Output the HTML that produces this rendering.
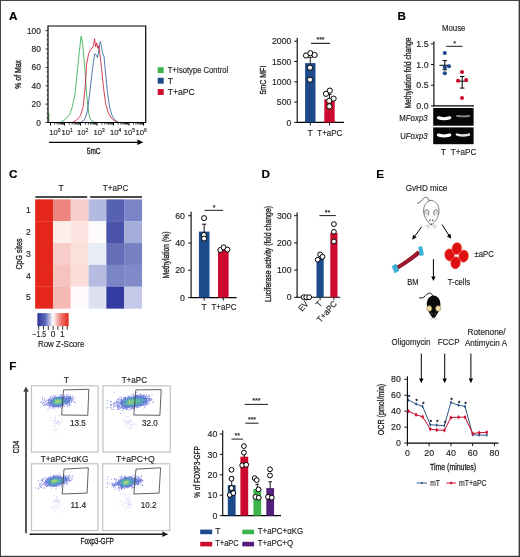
<!DOCTYPE html>
<html lang="en"><head><meta charset="utf-8"><title>Figure</title>
<style>
html,body{margin:0;padding:0;background:#fff;}
body{width:520px;height:557px;overflow:hidden;}
svg{display:block;will-change:transform;font-family:"Liberation Sans",sans-serif;}
</style></head><body>
<svg width="520" height="557" viewBox="0 0 520 557">
<rect x="0" y="0" width="520" height="557" fill="#fff"/>
<text x="8.90" y="19.70" font-size="11.7" text-anchor="start" fill="#000" stroke="#000" stroke-width="0.16" font-weight="bold" >A</text>
<text x="397.60" y="20.10" font-size="11.7" text-anchor="start" fill="#000" stroke="#000" stroke-width="0.16" font-weight="bold" >B</text>
<text x="9.00" y="178.00" font-size="11.7" text-anchor="start" fill="#000" stroke="#000" stroke-width="0.16" font-weight="bold" >C</text>
<text x="261.60" y="177.80" font-size="11.7" text-anchor="start" fill="#000" stroke="#000" stroke-width="0.16" font-weight="bold" >D</text>
<text x="376.20" y="177.80" font-size="11.7" text-anchor="start" fill="#000" stroke="#000" stroke-width="0.16" font-weight="bold" >E</text>
<text x="9.20" y="369.90" font-size="11.7" text-anchor="start" fill="#000" stroke="#000" stroke-width="0.16" font-weight="bold" >F</text>
<path d="M60.39 122.32 L65.77 119.08 L69.81 114.24 L72.50 106.16 L75.20 92.70 L77.08 73.85 L79.24 52.31 L81.12 36.16 L82.74 44.23 L84.62 65.77 L86.77 95.39 L88.66 112.89 L90.54 119.62 L94.04 122.32" fill="none" stroke="#2aa84a" stroke-width="0.8" stroke-linejoin="round" />
<path d="M80.58 122.32 L84.62 119.62 L87.31 111.55 L89.47 95.39 L91.35 79.24 L93.24 63.08 L94.85 53.66 L96.20 55.00 L97.54 57.70 L98.89 49.62 L100.24 41.54 L101.31 45.58 L102.39 52.31 L104.01 56.35 L105.62 73.85 L107.51 92.70 L109.66 107.51 L112.08 115.58 L114.78 120.16 L118.28 122.32" fill="none" stroke="#2a5a9a" stroke-width="0.8" stroke-linejoin="round" />
<path d="M72.50 122.32 L76.54 120.16 L80.58 115.58 L83.27 106.16 L85.16 87.31 L86.77 63.08 L88.66 53.66 L90.54 49.62 L92.16 48.27 L93.51 45.58 L94.58 38.85 L95.66 46.93 L96.74 42.89 L97.81 48.27 L98.89 45.58 L99.97 55.00 L101.58 68.47 L103.47 87.31 L105.62 103.47 L108.31 112.89 L111.55 118.28 L115.58 121.78 L118.28 122.32" fill="none" stroke="#c8102e" stroke-width="0.8" stroke-linejoin="round" />
<line x1="48.90" y1="113.00" x2="48.90" y2="122.50" stroke="#2aa84a" stroke-width="0.8" />
<path d="M48.0 26.0 H145.7 V122.5 H48.0 Z" fill="none" stroke="#000" stroke-width="1.2"/>
<line x1="45.40" y1="122.50" x2="48.00" y2="122.50" stroke="#000" stroke-width="0.7" />
<line x1="46.70" y1="117.91" x2="48.00" y2="117.91" stroke="#000" stroke-width="0.7" />
<line x1="46.70" y1="113.31" x2="48.00" y2="113.31" stroke="#000" stroke-width="0.7" />
<line x1="46.70" y1="108.72" x2="48.00" y2="108.72" stroke="#000" stroke-width="0.7" />
<line x1="45.40" y1="104.12" x2="48.00" y2="104.12" stroke="#000" stroke-width="0.7" />
<line x1="46.70" y1="99.53" x2="48.00" y2="99.53" stroke="#000" stroke-width="0.7" />
<line x1="46.70" y1="94.93" x2="48.00" y2="94.93" stroke="#000" stroke-width="0.7" />
<line x1="46.70" y1="90.34" x2="48.00" y2="90.34" stroke="#000" stroke-width="0.7" />
<line x1="45.40" y1="85.74" x2="48.00" y2="85.74" stroke="#000" stroke-width="0.7" />
<line x1="46.70" y1="81.15" x2="48.00" y2="81.15" stroke="#000" stroke-width="0.7" />
<line x1="46.70" y1="76.55" x2="48.00" y2="76.55" stroke="#000" stroke-width="0.7" />
<line x1="46.70" y1="71.95" x2="48.00" y2="71.95" stroke="#000" stroke-width="0.7" />
<line x1="45.40" y1="67.36" x2="48.00" y2="67.36" stroke="#000" stroke-width="0.7" />
<line x1="46.70" y1="62.77" x2="48.00" y2="62.77" stroke="#000" stroke-width="0.7" />
<line x1="46.70" y1="58.17" x2="48.00" y2="58.17" stroke="#000" stroke-width="0.7" />
<line x1="46.70" y1="53.58" x2="48.00" y2="53.58" stroke="#000" stroke-width="0.7" />
<line x1="45.40" y1="48.98" x2="48.00" y2="48.98" stroke="#000" stroke-width="0.7" />
<line x1="46.70" y1="44.38" x2="48.00" y2="44.38" stroke="#000" stroke-width="0.7" />
<line x1="46.70" y1="39.79" x2="48.00" y2="39.79" stroke="#000" stroke-width="0.7" />
<line x1="46.70" y1="35.19" x2="48.00" y2="35.19" stroke="#000" stroke-width="0.7" />
<line x1="45.40" y1="30.60" x2="48.00" y2="30.60" stroke="#000" stroke-width="0.7" />
<text x="40.90" y="125.50" font-size="8.4" text-anchor="end" fill="#231f20" stroke="#231f20" stroke-width="0.16" >0</text>
<text x="40.90" y="107.12" font-size="8.4" text-anchor="end" fill="#231f20" stroke="#231f20" stroke-width="0.16" >20</text>
<text x="40.90" y="88.74" font-size="8.4" text-anchor="end" fill="#231f20" stroke="#231f20" stroke-width="0.16" >40</text>
<text x="40.90" y="70.36" font-size="8.4" text-anchor="end" fill="#231f20" stroke="#231f20" stroke-width="0.16" >60</text>
<text x="40.90" y="51.98" font-size="8.4" text-anchor="end" fill="#231f20" stroke="#231f20" stroke-width="0.16" >80</text>
<text x="40.90" y="33.60" font-size="8.4" text-anchor="end" fill="#231f20" stroke="#231f20" stroke-width="0.16" >100</text>
<line x1="50.50" y1="122.50" x2="50.50" y2="125.50" stroke="#000" stroke-width="1.0" />
<line x1="54.71" y1="122.50" x2="54.71" y2="124.50" stroke="#000" stroke-width="0.85" />
<line x1="57.18" y1="122.50" x2="57.18" y2="124.50" stroke="#000" stroke-width="0.85" />
<line x1="58.93" y1="122.50" x2="58.93" y2="124.50" stroke="#000" stroke-width="0.85" />
<line x1="60.29" y1="122.50" x2="60.29" y2="124.50" stroke="#000" stroke-width="0.85" />
<line x1="61.39" y1="122.50" x2="61.39" y2="124.50" stroke="#000" stroke-width="0.85" />
<line x1="62.33" y1="122.50" x2="62.33" y2="124.50" stroke="#000" stroke-width="0.85" />
<line x1="63.14" y1="122.50" x2="63.14" y2="124.50" stroke="#000" stroke-width="0.85" />
<line x1="63.86" y1="122.50" x2="63.86" y2="124.50" stroke="#000" stroke-width="0.85" />
<line x1="64.50" y1="122.50" x2="64.50" y2="125.50" stroke="#000" stroke-width="1.0" />
<line x1="69.32" y1="122.50" x2="69.32" y2="124.50" stroke="#000" stroke-width="0.85" />
<line x1="72.13" y1="122.50" x2="72.13" y2="124.50" stroke="#000" stroke-width="0.85" />
<line x1="74.13" y1="122.50" x2="74.13" y2="124.50" stroke="#000" stroke-width="0.85" />
<line x1="75.68" y1="122.50" x2="75.68" y2="124.50" stroke="#000" stroke-width="0.85" />
<line x1="76.95" y1="122.50" x2="76.95" y2="124.50" stroke="#000" stroke-width="0.85" />
<line x1="78.02" y1="122.50" x2="78.02" y2="124.50" stroke="#000" stroke-width="0.85" />
<line x1="78.95" y1="122.50" x2="78.95" y2="124.50" stroke="#000" stroke-width="0.85" />
<line x1="79.77" y1="122.50" x2="79.77" y2="124.50" stroke="#000" stroke-width="0.85" />
<line x1="80.50" y1="122.50" x2="80.50" y2="125.50" stroke="#000" stroke-width="1.0" />
<line x1="85.47" y1="122.50" x2="85.47" y2="124.50" stroke="#000" stroke-width="0.85" />
<line x1="88.37" y1="122.50" x2="88.37" y2="124.50" stroke="#000" stroke-width="0.85" />
<line x1="90.43" y1="122.50" x2="90.43" y2="124.50" stroke="#000" stroke-width="0.85" />
<line x1="92.03" y1="122.50" x2="92.03" y2="124.50" stroke="#000" stroke-width="0.85" />
<line x1="93.34" y1="122.50" x2="93.34" y2="124.50" stroke="#000" stroke-width="0.85" />
<line x1="94.44" y1="122.50" x2="94.44" y2="124.50" stroke="#000" stroke-width="0.85" />
<line x1="95.40" y1="122.50" x2="95.40" y2="124.50" stroke="#000" stroke-width="0.85" />
<line x1="96.25" y1="122.50" x2="96.25" y2="124.50" stroke="#000" stroke-width="0.85" />
<line x1="97.00" y1="122.50" x2="97.00" y2="125.50" stroke="#000" stroke-width="1.0" />
<line x1="101.97" y1="122.50" x2="101.97" y2="124.50" stroke="#000" stroke-width="0.85" />
<line x1="104.87" y1="122.50" x2="104.87" y2="124.50" stroke="#000" stroke-width="0.85" />
<line x1="106.93" y1="122.50" x2="106.93" y2="124.50" stroke="#000" stroke-width="0.85" />
<line x1="108.53" y1="122.50" x2="108.53" y2="124.50" stroke="#000" stroke-width="0.85" />
<line x1="109.84" y1="122.50" x2="109.84" y2="124.50" stroke="#000" stroke-width="0.85" />
<line x1="110.94" y1="122.50" x2="110.94" y2="124.50" stroke="#000" stroke-width="0.85" />
<line x1="111.90" y1="122.50" x2="111.90" y2="124.50" stroke="#000" stroke-width="0.85" />
<line x1="112.75" y1="122.50" x2="112.75" y2="124.50" stroke="#000" stroke-width="0.85" />
<line x1="113.50" y1="122.50" x2="113.50" y2="125.50" stroke="#000" stroke-width="1.0" />
<line x1="118.17" y1="122.50" x2="118.17" y2="124.50" stroke="#000" stroke-width="0.85" />
<line x1="120.90" y1="122.50" x2="120.90" y2="124.50" stroke="#000" stroke-width="0.85" />
<line x1="122.83" y1="122.50" x2="122.83" y2="124.50" stroke="#000" stroke-width="0.85" />
<line x1="124.33" y1="122.50" x2="124.33" y2="124.50" stroke="#000" stroke-width="0.85" />
<line x1="125.56" y1="122.50" x2="125.56" y2="124.50" stroke="#000" stroke-width="0.85" />
<line x1="126.60" y1="122.50" x2="126.60" y2="124.50" stroke="#000" stroke-width="0.85" />
<line x1="127.50" y1="122.50" x2="127.50" y2="124.50" stroke="#000" stroke-width="0.85" />
<line x1="128.29" y1="122.50" x2="128.29" y2="124.50" stroke="#000" stroke-width="0.85" />
<line x1="129.00" y1="122.50" x2="129.00" y2="125.50" stroke="#000" stroke-width="1.0" />
<line x1="133.36" y1="122.50" x2="133.36" y2="124.50" stroke="#000" stroke-width="0.85" />
<line x1="135.92" y1="122.50" x2="135.92" y2="124.50" stroke="#000" stroke-width="0.85" />
<line x1="137.73" y1="122.50" x2="137.73" y2="124.50" stroke="#000" stroke-width="0.85" />
<line x1="139.14" y1="122.50" x2="139.14" y2="124.50" stroke="#000" stroke-width="0.85" />
<line x1="140.28" y1="122.50" x2="140.28" y2="124.50" stroke="#000" stroke-width="0.85" />
<line x1="141.25" y1="122.50" x2="141.25" y2="124.50" stroke="#000" stroke-width="0.85" />
<line x1="142.09" y1="122.50" x2="142.09" y2="124.50" stroke="#000" stroke-width="0.85" />
<line x1="142.84" y1="122.50" x2="142.84" y2="124.50" stroke="#000" stroke-width="0.85" />
<line x1="143.50" y1="122.50" x2="143.50" y2="125.50" stroke="#000" stroke-width="1.0" />
<text x="49.2" y="135.3" font-size="8.1" fill="#231f20" stroke="#231f20" stroke-width="0.16" textLength="11.2" lengthAdjust="spacingAndGlyphs">10<tspan font-size="5.2" dy="-3.2">0</tspan></text>
<text x="61.5" y="135.3" font-size="8.1" fill="#231f20" stroke="#231f20" stroke-width="0.16" textLength="11.2" lengthAdjust="spacingAndGlyphs">10<tspan font-size="5.2" dy="-3.2">1</tspan></text>
<text x="76.9" y="135.3" font-size="8.1" fill="#231f20" stroke="#231f20" stroke-width="0.16" textLength="11.2" lengthAdjust="spacingAndGlyphs">10<tspan font-size="5.2" dy="-3.2">2</tspan></text>
<text x="93.5" y="135.3" font-size="8.1" fill="#231f20" stroke="#231f20" stroke-width="0.16" textLength="11.2" lengthAdjust="spacingAndGlyphs">10<tspan font-size="5.2" dy="-3.2">3</tspan></text>
<text x="109.9" y="135.3" font-size="8.1" fill="#231f20" stroke="#231f20" stroke-width="0.16" textLength="11.2" lengthAdjust="spacingAndGlyphs">10<tspan font-size="5.2" dy="-3.2">4</tspan></text>
<text x="123.8" y="135.3" font-size="8.1" fill="#231f20" stroke="#231f20" stroke-width="0.16" textLength="11.2" lengthAdjust="spacingAndGlyphs">10<tspan font-size="5.2" dy="-3.2">5</tspan></text>
<text x="135.4" y="135.3" font-size="8.1" fill="#231f20" stroke="#231f20" stroke-width="0.16" textLength="11.2" lengthAdjust="spacingAndGlyphs">10<tspan font-size="5.2" dy="-3.2">6</tspan></text>
<line x1="49.00" y1="142.30" x2="137.90" y2="142.30" stroke="#000" stroke-width="1.2" />
<polygon points="143.40,142.30 137.40,145.10 137.40,139.50" fill="#000"/>
<text x="93.70" y="153.50" font-size="9.0" text-anchor="middle" fill="#231f20" stroke="#231f20" stroke-width="0.34" textLength="13.70" lengthAdjust="spacingAndGlyphs" >5mC</text>
<text x="21.30" y="74.30" font-size="8.2" text-anchor="middle" fill="#231f20" stroke="#231f20" stroke-width="0.34" textLength="28.70" lengthAdjust="spacingAndGlyphs" transform="rotate(-90 21.30 74.30)" >% of Max</text>
<rect x="157.70" y="67.20" width="6.00" height="5.90" fill="#3cb44a" />
<text x="167.70" y="73.00" font-size="8.6" text-anchor="start" fill="#231f20" stroke="#231f20" stroke-width="0.16" textLength="60.50" lengthAdjust="spacingAndGlyphs" >T+Isotype Control</text>
<rect x="157.70" y="77.80" width="6.00" height="5.90" fill="#1d4a8a" />
<text x="167.70" y="83.60" font-size="8.6" text-anchor="start" fill="#231f20" stroke="#231f20" stroke-width="0.16" >T</text>
<rect x="157.70" y="89.10" width="6.00" height="5.90" fill="#cc0a2f" />
<text x="167.70" y="94.90" font-size="8.6" text-anchor="start" fill="#231f20" stroke="#231f20" stroke-width="0.16" >T+aPC</text>
<line x1="297.20" y1="37.80" x2="297.20" y2="122.90" stroke="#000" stroke-width="1.1" />
<line x1="296.70" y1="122.40" x2="344.00" y2="122.40" stroke="#000" stroke-width="1.1" />
<line x1="294.20" y1="122.40" x2="297.20" y2="122.40" stroke="#000" stroke-width="0.9" />
<text x="291.50" y="125.50" font-size="8.8" text-anchor="end" fill="#231f20" stroke="#231f20" stroke-width="0.16" >0</text>
<line x1="294.20" y1="102.10" x2="297.20" y2="102.10" stroke="#000" stroke-width="0.9" />
<text x="291.50" y="105.20" font-size="8.8" text-anchor="end" fill="#231f20" stroke="#231f20" stroke-width="0.16" >500</text>
<line x1="294.20" y1="81.80" x2="297.20" y2="81.80" stroke="#000" stroke-width="0.9" />
<text x="291.50" y="84.90" font-size="8.8" text-anchor="end" fill="#231f20" stroke="#231f20" stroke-width="0.16" >1000</text>
<line x1="294.20" y1="61.50" x2="297.20" y2="61.50" stroke="#000" stroke-width="0.9" />
<text x="291.50" y="64.60" font-size="8.8" text-anchor="end" fill="#231f20" stroke="#231f20" stroke-width="0.16" >1500</text>
<line x1="294.20" y1="41.20" x2="297.20" y2="41.20" stroke="#000" stroke-width="0.9" />
<text x="291.50" y="44.30" font-size="8.8" text-anchor="end" fill="#231f20" stroke="#231f20" stroke-width="0.16" >2000</text>
<rect x="305.10" y="63.10" width="10.40" height="59.30" fill="#1d4a8a" />
<rect x="324.30" y="99.30" width="10.40" height="23.10" fill="#cc0a2f" />
<line x1="310.30" y1="57.30" x2="310.30" y2="63.50" stroke="#000" stroke-width="0.9" />
<line x1="308.10" y1="57.30" x2="312.50" y2="57.30" stroke="#000" stroke-width="0.9" />
<line x1="329.50" y1="94.30" x2="329.50" y2="99.60" stroke="#000" stroke-width="0.9" />
<line x1="327.30" y1="94.30" x2="331.70" y2="94.30" stroke="#000" stroke-width="0.9" />
<line x1="310.30" y1="122.40" x2="310.30" y2="125.40" stroke="#000" stroke-width="0.9" />
<line x1="329.50" y1="122.40" x2="329.50" y2="125.40" stroke="#000" stroke-width="0.9" />
<circle cx="306.00" cy="55.50" r="2.6" fill="#fff" stroke="#000" stroke-width="1.0"/>
<circle cx="310.40" cy="53.20" r="2.6" fill="#fff" stroke="#000" stroke-width="1.0"/>
<circle cx="314.60" cy="55.00" r="2.6" fill="#fff" stroke="#000" stroke-width="1.0"/>
<circle cx="310.00" cy="67.70" r="2.6" fill="#fff" stroke="#000" stroke-width="1.0"/>
<circle cx="310.00" cy="79.70" r="2.6" fill="#fff" stroke="#000" stroke-width="1.0"/>
<circle cx="329.80" cy="90.60" r="2.6" fill="#fff" stroke="#000" stroke-width="1.0"/>
<circle cx="326.00" cy="93.80" r="2.6" fill="#fff" stroke="#000" stroke-width="1.0"/>
<circle cx="333.60" cy="98.60" r="2.6" fill="#fff" stroke="#000" stroke-width="1.0"/>
<circle cx="329.20" cy="100.80" r="2.6" fill="#fff" stroke="#000" stroke-width="1.0"/>
<circle cx="329.40" cy="106.40" r="2.6" fill="#fff" stroke="#000" stroke-width="1.0"/>
<text x="310.20" y="135.80" font-size="8.6" text-anchor="middle" fill="#231f20" stroke="#231f20" stroke-width="0.16" >T</text>
<text x="329.80" y="135.80" font-size="8.6" text-anchor="middle" fill="#231f20" stroke="#231f20" stroke-width="0.16" textLength="25.00" lengthAdjust="spacingAndGlyphs" >T+aPC</text>
<line x1="311.00" y1="43.30" x2="330.00" y2="43.30" stroke="#000" stroke-width="1.0" />
<text x="320.50" y="42.00" font-size="7" text-anchor="middle" fill="#231f20" stroke="#231f20" stroke-width="0.16" >***</text>
<text x="265.70" y="80.10" font-size="9.2" text-anchor="middle" fill="#231f20" stroke="#231f20" stroke-width="0.34" textLength="29.00" lengthAdjust="spacingAndGlyphs" transform="rotate(-90 265.70 80.10)" >5mC MFI</text>
<text x="453.70" y="30.50" font-size="8.6" text-anchor="middle" fill="#231f20" stroke="#231f20" stroke-width="0.16" textLength="23.50" lengthAdjust="spacingAndGlyphs" >Mouse</text>
<line x1="433.90" y1="41.30" x2="433.90" y2="106.40" stroke="#000" stroke-width="1.1" />
<line x1="433.40" y1="105.90" x2="474.00" y2="105.90" stroke="#000" stroke-width="1.1" />
<line x1="430.90" y1="105.90" x2="433.90" y2="105.90" stroke="#000" stroke-width="0.9" />
<text x="428.60" y="109.00" font-size="8.8" text-anchor="end" fill="#231f20" stroke="#231f20" stroke-width="0.16" >0.0</text>
<line x1="430.90" y1="85.20" x2="433.90" y2="85.20" stroke="#000" stroke-width="0.9" />
<text x="428.60" y="88.30" font-size="8.8" text-anchor="end" fill="#231f20" stroke="#231f20" stroke-width="0.16" >0.5</text>
<line x1="430.90" y1="64.50" x2="433.90" y2="64.50" stroke="#000" stroke-width="0.9" />
<text x="428.60" y="67.60" font-size="8.8" text-anchor="end" fill="#231f20" stroke="#231f20" stroke-width="0.16" >1.0</text>
<line x1="430.90" y1="43.80" x2="433.90" y2="43.80" stroke="#000" stroke-width="0.9" />
<text x="428.60" y="46.90" font-size="8.8" text-anchor="end" fill="#231f20" stroke="#231f20" stroke-width="0.16" >1.5</text>
<line x1="439.50" y1="65.30" x2="450.00" y2="65.30" stroke="#000" stroke-width="1.0" />
<line x1="444.80" y1="60.60" x2="444.80" y2="69.80" stroke="#000" stroke-width="1.0" />
<line x1="442.60" y1="60.60" x2="447.00" y2="60.60" stroke="#000" stroke-width="1.0" />
<line x1="442.60" y1="69.80" x2="447.00" y2="69.80" stroke="#000" stroke-width="1.0" />
<circle cx="444.80" cy="53.00" r="2.05" fill="#1d4a8a"/>
<circle cx="449.00" cy="66.30" r="2.05" fill="#1d4a8a"/>
<circle cx="444.80" cy="67.50" r="2.05" fill="#1d4a8a"/>
<circle cx="444.80" cy="73.20" r="2.05" fill="#1d4a8a"/>
<line x1="457.00" y1="81.20" x2="467.50" y2="81.20" stroke="#000" stroke-width="1.0" />
<line x1="462.20" y1="76.50" x2="462.20" y2="88.10" stroke="#000" stroke-width="1.0" />
<line x1="460.00" y1="76.50" x2="464.40" y2="76.50" stroke="#000" stroke-width="1.0" />
<line x1="460.00" y1="88.10" x2="464.40" y2="88.10" stroke="#000" stroke-width="1.0" />
<circle cx="462.00" cy="72.00" r="2.05" fill="#cc0a2f"/>
<circle cx="458.00" cy="80.70" r="2.05" fill="#cc0a2f"/>
<circle cx="466.20" cy="80.00" r="2.05" fill="#cc0a2f"/>
<circle cx="462.00" cy="98.00" r="2.05" fill="#cc0a2f"/>
<line x1="446.20" y1="46.30" x2="462.50" y2="46.30" stroke="#000" stroke-width="0.9" />
<text x="454.50" y="46.00" font-size="7" text-anchor="middle" fill="#231f20" stroke="#231f20" stroke-width="0.16" >*</text>
<text x="410.80" y="73.00" font-size="9.0" text-anchor="middle" fill="#231f20" stroke="#231f20" stroke-width="0.34" textLength="71.00" lengthAdjust="spacingAndGlyphs" transform="rotate(-90 410.80 73.00)" >Methylation fold change</text>
<rect x="433.20" y="108.00" width="40.40" height="17.70" fill="#060606" />
<rect x="433.20" y="127.40" width="40.40" height="16.80" fill="#060606" />
<defs><filter id="bl" x="-20%" y="-100%" width="140%" height="300%"><feGaussianBlur stdDeviation="0.7"/></filter></defs>
<g filter="url(#bl)" fill="none" stroke-linecap="round">
<path d="M438.4 117.8 Q444.1 119.5 449.8 117.8" stroke="#ffffff" stroke-width="3.0"/>
<path d="M457.0 115.9 Q463.1 116.9 469.2 115.9" stroke="#8a8a8a" stroke-width="1.8"/>
<path d="M438.4 135.0 Q444.1 136.8 449.8 135.0" stroke="#ffffff" stroke-width="3.0"/>
<path d="M457.0 134.6 Q463.0 136.2 469.0 134.6" stroke="#e4e4e4" stroke-width="2.5"/>
</g>
<text x="427.60" y="120.60" font-size="8.6" text-anchor="end" fill="#231f20" stroke="#231f20" stroke-width="0.16" textLength="28.30" lengthAdjust="spacingAndGlyphs" >M<tspan font-style="italic">Foxp3</tspan></text>
<text x="427.60" y="139.00" font-size="8.6" text-anchor="end" fill="#231f20" stroke="#231f20" stroke-width="0.16" textLength="27.40" lengthAdjust="spacingAndGlyphs" >U<tspan font-style="italic">Foxp3</tspan></text>
<text x="443.30" y="154.50" font-size="8.6" text-anchor="middle" fill="#231f20" stroke="#231f20" stroke-width="0.16" >T</text>
<text x="463.50" y="154.50" font-size="8.6" text-anchor="middle" fill="#231f20" stroke="#231f20" stroke-width="0.16" textLength="25.50" lengthAdjust="spacingAndGlyphs" >T+aPC</text>
<rect x="35.15" y="199.35" width="17.90" height="21.94" fill="#e5261a" />
<rect x="52.95" y="199.35" width="17.90" height="21.94" fill="#ed857f" />
<rect x="70.75" y="199.35" width="17.90" height="21.94" fill="#f8cfca" />
<rect x="88.55" y="199.35" width="17.90" height="21.94" fill="#b3badf" />
<rect x="106.35" y="199.35" width="17.90" height="21.94" fill="#5661b1" />
<rect x="124.15" y="199.35" width="17.90" height="21.94" fill="#7a86c8" />
<rect x="35.15" y="221.19" width="17.90" height="21.94" fill="#e5261a" />
<rect x="52.95" y="221.19" width="17.90" height="21.94" fill="#fdeeea" />
<rect x="70.75" y="221.19" width="17.90" height="21.94" fill="#fce4e0" />
<rect x="88.55" y="221.19" width="17.90" height="21.94" fill="#fdfbfb" />
<rect x="106.35" y="221.19" width="17.90" height="21.94" fill="#4a53a9" />
<rect x="124.15" y="221.19" width="17.90" height="21.94" fill="#a4acd8" />
<rect x="35.15" y="243.03" width="17.90" height="21.94" fill="#e5261a" />
<rect x="52.95" y="243.03" width="17.90" height="21.94" fill="#f8cdc9" />
<rect x="70.75" y="243.03" width="17.90" height="21.94" fill="#fbe0dc" />
<rect x="88.55" y="243.03" width="17.90" height="21.94" fill="#e8ecf7" />
<rect x="106.35" y="243.03" width="17.90" height="21.94" fill="#636eb7" />
<rect x="124.15" y="243.03" width="17.90" height="21.94" fill="#7681c4" />
<rect x="35.15" y="264.87" width="17.90" height="21.94" fill="#e5261a" />
<rect x="52.95" y="264.87" width="17.90" height="21.94" fill="#f6c3bf" />
<rect x="70.75" y="264.87" width="17.90" height="21.94" fill="#fbdeda" />
<rect x="88.55" y="264.87" width="17.90" height="21.94" fill="#b5bce0" />
<rect x="106.35" y="264.87" width="17.90" height="21.94" fill="#7a85c6" />
<rect x="124.15" y="264.87" width="17.90" height="21.94" fill="#808ac9" />
<rect x="35.15" y="286.71" width="17.90" height="21.94" fill="#e5261a" />
<rect x="52.95" y="286.71" width="17.90" height="21.94" fill="#f5b9b4" />
<rect x="70.75" y="286.71" width="17.90" height="21.94" fill="#fefafa" />
<rect x="88.55" y="286.71" width="17.90" height="21.94" fill="#dde1f2" />
<rect x="106.35" y="286.71" width="17.90" height="21.94" fill="#333aa0" />
<rect x="124.15" y="286.71" width="17.90" height="21.94" fill="#c5cae8" />
<line x1="35.40" y1="197.00" x2="87.20" y2="197.00" stroke="#111" stroke-width="1.4" />
<line x1="90.20" y1="197.00" x2="142.00" y2="197.00" stroke="#111" stroke-width="1.4" />
<text x="61.20" y="190.90" font-size="8.6" text-anchor="middle" fill="#231f20" stroke="#231f20" stroke-width="0.16" >T</text>
<text x="115.60" y="190.90" font-size="8.6" text-anchor="middle" fill="#231f20" stroke="#231f20" stroke-width="0.16" textLength="25.50" lengthAdjust="spacingAndGlyphs" >T+aPC</text>
<text x="28.40" y="213.12" font-size="8.6" text-anchor="middle" fill="#231f20" stroke="#231f20" stroke-width="0.16" >1</text>
<text x="28.40" y="234.96" font-size="8.6" text-anchor="middle" fill="#231f20" stroke="#231f20" stroke-width="0.16" >2</text>
<text x="28.40" y="256.80" font-size="8.6" text-anchor="middle" fill="#231f20" stroke="#231f20" stroke-width="0.16" >3</text>
<text x="28.40" y="278.64" font-size="8.6" text-anchor="middle" fill="#231f20" stroke="#231f20" stroke-width="0.16" >4</text>
<text x="28.40" y="300.48" font-size="8.6" text-anchor="middle" fill="#231f20" stroke="#231f20" stroke-width="0.16" >5</text>
<text x="22.00" y="254.00" font-size="9.3" text-anchor="middle" fill="#231f20" stroke="#231f20" stroke-width="0.34" textLength="31.00" lengthAdjust="spacingAndGlyphs" transform="rotate(-90 22.00 254.00)" >CpG sites</text>
<defs><linearGradient id="cb" x1="0" x2="1" y1="0" y2="0"><stop offset="0" stop-color="#2b3595"/><stop offset="0.25" stop-color="#5a66b6"/><stop offset="0.5" stop-color="#ffffff"/><stop offset="0.75" stop-color="#ee7a6e"/><stop offset="1" stop-color="#e5261a"/></linearGradient></defs>
<rect x="37.40" y="313.10" width="31.20" height="13.00" fill="url(#cb)" />
<line x1="38.70" y1="326.00" x2="38.70" y2="329.80" stroke="#000" stroke-width="0.8" />
<line x1="43.50" y1="326.00" x2="43.50" y2="329.80" stroke="#000" stroke-width="0.8" />
<line x1="48.30" y1="326.00" x2="48.30" y2="329.80" stroke="#000" stroke-width="0.8" />
<line x1="53.10" y1="326.00" x2="53.10" y2="329.80" stroke="#000" stroke-width="0.8" />
<line x1="57.90" y1="326.00" x2="57.90" y2="329.80" stroke="#000" stroke-width="0.8" />
<line x1="62.70" y1="326.00" x2="62.70" y2="329.80" stroke="#000" stroke-width="0.8" />
<line x1="67.20" y1="326.00" x2="67.20" y2="329.80" stroke="#000" stroke-width="0.8" />
<text x="32.50" y="336.60" font-size="8.4" text-anchor="start" fill="#231f20" stroke="#231f20" stroke-width="0.16" textLength="13.60" lengthAdjust="spacingAndGlyphs" >−1.5</text>
<text x="53.10" y="336.60" font-size="8.4" text-anchor="middle" fill="#231f20" stroke="#231f20" stroke-width="0.16" >0</text>
<text x="62.40" y="336.60" font-size="8.4" text-anchor="middle" fill="#231f20" stroke="#231f20" stroke-width="0.16" >1</text>
<text x="37.90" y="346.60" font-size="8.6" text-anchor="start" fill="#231f20" stroke="#231f20" stroke-width="0.16" textLength="46.50" lengthAdjust="spacingAndGlyphs" >Row Z-Score</text>
<line x1="191.10" y1="211.80" x2="191.10" y2="298.10" stroke="#000" stroke-width="1.1" />
<line x1="190.60" y1="297.60" x2="236.60" y2="297.60" stroke="#000" stroke-width="1.1" />
<line x1="188.10" y1="297.60" x2="191.10" y2="297.60" stroke="#000" stroke-width="0.9" />
<text x="185.00" y="300.70" font-size="8.8" text-anchor="end" fill="#231f20" stroke="#231f20" stroke-width="0.16" >0</text>
<line x1="188.10" y1="270.30" x2="191.10" y2="270.30" stroke="#000" stroke-width="0.9" />
<text x="185.00" y="273.40" font-size="8.8" text-anchor="end" fill="#231f20" stroke="#231f20" stroke-width="0.16" >20</text>
<line x1="188.10" y1="243.00" x2="191.10" y2="243.00" stroke="#000" stroke-width="0.9" />
<text x="185.00" y="246.10" font-size="8.8" text-anchor="end" fill="#231f20" stroke="#231f20" stroke-width="0.16" >40</text>
<line x1="188.10" y1="215.70" x2="191.10" y2="215.70" stroke="#000" stroke-width="0.9" />
<text x="185.00" y="218.80" font-size="8.8" text-anchor="end" fill="#231f20" stroke="#231f20" stroke-width="0.16" >60</text>
<rect x="198.90" y="231.60" width="10.60" height="66.00" fill="#1d4a8a" />
<rect x="218.00" y="250.00" width="10.60" height="47.60" fill="#cc0a2f" />
<line x1="204.20" y1="224.20" x2="204.20" y2="232.00" stroke="#000" stroke-width="0.9" />
<line x1="202.00" y1="224.20" x2="206.40" y2="224.20" stroke="#000" stroke-width="0.9" />
<line x1="204.20" y1="297.60" x2="204.20" y2="300.60" stroke="#000" stroke-width="0.9" />
<line x1="223.30" y1="297.60" x2="223.30" y2="300.60" stroke="#000" stroke-width="0.9" />
<circle cx="204.10" cy="218.10" r="2.5" fill="#fff" stroke="#000" stroke-width="1.0"/>
<circle cx="203.90" cy="235.00" r="2.5" fill="#fff" stroke="#000" stroke-width="1.0"/>
<circle cx="204.10" cy="238.60" r="2.5" fill="#fff" stroke="#000" stroke-width="1.0"/>
<circle cx="220.30" cy="250.00" r="2.5" fill="#fff" stroke="#000" stroke-width="1.0"/>
<circle cx="223.60" cy="247.30" r="2.5" fill="#fff" stroke="#000" stroke-width="1.0"/>
<circle cx="227.40" cy="249.60" r="2.5" fill="#fff" stroke="#000" stroke-width="1.0"/>
<text x="204.00" y="309.50" font-size="8.6" text-anchor="middle" fill="#231f20" stroke="#231f20" stroke-width="0.16" >T</text>
<text x="224.00" y="309.50" font-size="8.6" text-anchor="middle" fill="#231f20" stroke="#231f20" stroke-width="0.16" textLength="25.00" lengthAdjust="spacingAndGlyphs" >T+aPC</text>
<line x1="204.50" y1="210.30" x2="223.00" y2="210.30" stroke="#000" stroke-width="0.9" />
<text x="214.00" y="210.00" font-size="7" text-anchor="middle" fill="#231f20" stroke="#231f20" stroke-width="0.16" >*</text>
<text x="169.20" y="255.00" font-size="9.2" text-anchor="middle" fill="#231f20" stroke="#231f20" stroke-width="0.34" textLength="47.00" lengthAdjust="spacingAndGlyphs" transform="rotate(-90 169.20 255.00)" >Methylation (%)</text>
<line x1="297.10" y1="212.40" x2="297.10" y2="297.80" stroke="#000" stroke-width="1.1" />
<line x1="296.60" y1="297.30" x2="340.20" y2="297.30" stroke="#000" stroke-width="1.1" />
<line x1="294.10" y1="297.30" x2="297.10" y2="297.30" stroke="#000" stroke-width="0.9" />
<text x="291.60" y="300.40" font-size="8.8" text-anchor="end" fill="#231f20" stroke="#231f20" stroke-width="0.16" >0</text>
<line x1="294.10" y1="270.10" x2="297.10" y2="270.10" stroke="#000" stroke-width="0.9" />
<text x="291.60" y="273.20" font-size="8.8" text-anchor="end" fill="#231f20" stroke="#231f20" stroke-width="0.16" >100</text>
<line x1="294.10" y1="242.90" x2="297.10" y2="242.90" stroke="#000" stroke-width="0.9" />
<text x="291.60" y="246.00" font-size="8.8" text-anchor="end" fill="#231f20" stroke="#231f20" stroke-width="0.16" >200</text>
<line x1="294.10" y1="215.70" x2="297.10" y2="215.70" stroke="#000" stroke-width="0.9" />
<text x="291.60" y="218.80" font-size="8.8" text-anchor="end" fill="#231f20" stroke="#231f20" stroke-width="0.16" >300</text>
<rect x="316.50" y="258.50" width="7.20" height="38.80" fill="#1d4a8a" />
<rect x="330.30" y="233.00" width="7.20" height="64.30" fill="#cc0a2f" />
<line x1="306.30" y1="297.30" x2="306.30" y2="300.30" stroke="#000" stroke-width="0.9" />
<line x1="320.10" y1="297.30" x2="320.10" y2="300.30" stroke="#000" stroke-width="0.9" />
<line x1="333.90" y1="297.30" x2="333.90" y2="300.30" stroke="#000" stroke-width="0.9" />
<circle cx="303.60" cy="297.20" r="2.4" fill="#fff" stroke="#000" stroke-width="1.0"/>
<circle cx="306.20" cy="297.20" r="2.4" fill="#fff" stroke="#000" stroke-width="1.0"/>
<circle cx="309.20" cy="297.20" r="2.4" fill="#fff" stroke="#000" stroke-width="1.0"/>
<circle cx="317.70" cy="259.70" r="2.4" fill="#fff" stroke="#000" stroke-width="1.0"/>
<circle cx="320.10" cy="254.40" r="2.4" fill="#fff" stroke="#000" stroke-width="1.0"/>
<circle cx="322.50" cy="256.80" r="2.4" fill="#fff" stroke="#000" stroke-width="1.0"/>
<circle cx="333.90" cy="241.50" r="2.4" fill="#fff" stroke="#000" stroke-width="1.0"/>
<circle cx="333.90" cy="231.80" r="2.4" fill="#fff" stroke="#000" stroke-width="1.0"/>
<circle cx="333.90" cy="224.10" r="2.4" fill="#fff" stroke="#000" stroke-width="1.0"/>
<line x1="319.40" y1="215.60" x2="335.80" y2="215.60" stroke="#000" stroke-width="0.9" />
<text x="327.50" y="214.60" font-size="7" text-anchor="middle" fill="#231f20" stroke="#231f20" stroke-width="0.16" >**</text>
<text x="309.0" y="304.2" font-size="8.6" text-anchor="end" fill="#231f20" stroke="#231f20" stroke-width="0.16" textLength="10.6" lengthAdjust="spacingAndGlyphs" transform="rotate(-48 309.0 304.2)">EV</text>
<text x="322.8" y="304.2" font-size="8.6" text-anchor="end" fill="#231f20" stroke="#231f20" stroke-width="0.16" textLength="4.9" lengthAdjust="spacingAndGlyphs" transform="rotate(-48 322.8 304.2)">T</text>
<text x="337.4" y="304.2" font-size="8.6" text-anchor="end" fill="#231f20" stroke="#231f20" stroke-width="0.16" textLength="25.2" lengthAdjust="spacingAndGlyphs" transform="rotate(-48 337.4 304.2)">T+aPC</text>
<text x="271.20" y="254.00" font-size="9.0" text-anchor="middle" fill="#231f20" stroke="#231f20" stroke-width="0.34" textLength="96.00" lengthAdjust="spacingAndGlyphs" transform="rotate(-90 271.20 254.00)" >Luciferase activity (fold change)</text>
<text x="426.50" y="190.60" font-size="8.6" text-anchor="middle" fill="#231f20" stroke="#231f20" stroke-width="0.16" textLength="41.50" lengthAdjust="spacingAndGlyphs" >GvHD mice</text>
<g fill="none" stroke="#777" stroke-width="0.9" stroke-linecap="round">
<path d="M429.2 201.2 C429 197.6 426 196.2 423.8 198 C421.6 199.8 420.6 203 417.6 203.2" stroke="#5e5e5e" stroke-width="1.0"/>
<path d="M431.3 200.4 C426 201 423.4 206 423.6 211 C423.8 216.6 427.4 222.4 431.3 224.8 C435.2 222.4 438.8 216.6 439 211 C439.2 206 436.6 201 431.3 200.4 Z" fill="#fff"/>
<path d="M424.4 214.6 C423.2 211.6 425 209.2 427.2 209.8 C429.2 210.4 429.6 213.2 428.2 215.2" fill="#dcdcdc"/>
<path d="M438.2 214.6 C439.4 211.6 437.6 209.2 435.4 209.8 C433.4 210.4 433 213.2 434.4 215.2" fill="#dcdcdc"/>
<path d="M428.8 225.4 L426.4 227.8 M429.6 225.8 L428.2 228.8 M433.8 225.4 L436.2 227.8 M433 225.8 L434.4 228.8 M428.4 224.6 L425.6 225.8 M434.2 224.6 L437 225.8" stroke-width="0.5" stroke="#999"/>
</g>
<circle cx="429.90" cy="220.30" r="0.75" fill="#222"/>
<circle cx="432.80" cy="220.30" r="0.75" fill="#222"/>
<ellipse cx="431.3" cy="224.3" rx="1" ry="0.7" fill="#555"/>
<line x1="421.60" y1="226.80" x2="414.60" y2="236.48" stroke="#000" stroke-width="1.0" />
<polygon points="412.20,239.80 413.11,234.78 416.68,237.36" fill="#000"/>
<line x1="442.00" y1="224.60" x2="448.97" y2="235.36" stroke="#000" stroke-width="1.0" />
<polygon points="451.20,238.80 446.85,236.14 450.55,233.74" fill="#000"/>
<path d="M396.2 266.0 C402 262.6 411 256.4 417.6 250.6 L420.6 253.8 C413.6 259.6 404.6 265.6 398.2 269.6 Z" fill="#8f1329"/>
<path d="M398 266.6 C404 263 412 257.4 418.4 252.2" fill="none" stroke="#c22840" stroke-width="0.8"/>
<path d="M392.4 266.4 L395.8 264.4 L398.6 270.4 L395.0 272.6 Z" fill="#3fb2d4" stroke="#3fb2d4" stroke-width="1.2" stroke-linejoin="round"/>
<path d="M418.8 247.4 L421.8 246.8 L423.2 254.6 L420.4 255.4 Z" fill="#3fb2d4" stroke="#3fb2d4" stroke-width="1.2" stroke-linejoin="round"/>
<ellipse cx="449.6" cy="255.0" rx="5.0" ry="6.2" fill="#de1110" stroke="#f29a90" stroke-width="0.45" transform="rotate(-8 449.6 255.0)"/>
<ellipse cx="463.6" cy="256.2" rx="5.0" ry="6.2" fill="#de1110" stroke="#f29a90" stroke-width="0.45" transform="rotate(8 463.6 256.2)"/>
<ellipse cx="456.8" cy="248.6" rx="5.0" ry="6.2" fill="#de1110" stroke="#f29a90" stroke-width="0.45" transform="rotate(10 456.8 248.6)"/>
<ellipse cx="455.6" cy="262.8" rx="5.0" ry="6.2" fill="#de1110" stroke="#f29a90" stroke-width="0.45" transform="rotate(10 455.6 262.8)"/>
<text x="474.40" y="257.40" font-size="8.6" text-anchor="start" fill="#231f20" stroke="#231f20" stroke-width="0.16" textLength="19.50" lengthAdjust="spacingAndGlyphs" >±aPC</text>
<line x1="433.40" y1="259.20" x2="433.40" y2="276.90" stroke="#000" stroke-width="1.0" />
<polygon points="433.40,281.00 431.20,276.40 435.60,276.40" fill="#000"/>
<text x="407.30" y="285.00" font-size="8.6" text-anchor="start" fill="#231f20" stroke="#231f20" stroke-width="0.16" textLength="11.30" lengthAdjust="spacingAndGlyphs" >BM</text>
<text x="447.80" y="285.00" font-size="8.6" text-anchor="start" fill="#231f20" stroke="#231f20" stroke-width="0.16" textLength="22.40" lengthAdjust="spacingAndGlyphs" >T-cells</text>
<path d="M432.8 296.6 C432.4 293.6 430.4 292.6 428.4 293.4 C426 294.4 424.6 297.4 422.4 297.8 C421.4 298 420.4 297.9 419.6 297.8" fill="none" stroke="#111" stroke-width="1.0" stroke-linecap="round"/>
<path d="M433.6 295.6 C428.8 296 426.6 300.4 426.8 304.6 C427 309.6 430 315.4 433.6 318.9 C437.2 315.4 440.2 309.6 440.4 304.6 C440.6 300.4 438.4 296 433.6 295.6 Z" fill="#0a0a0a"/>
<ellipse cx="429.2" cy="308.5" rx="2.5" ry="2.7" fill="#efe2a6" stroke="#a98455" stroke-width="0.7"/>
<ellipse cx="438.2" cy="308.5" rx="2.5" ry="2.7" fill="#efe2a6" stroke="#a98455" stroke-width="0.7"/>
<circle cx="431.9" cy="313.8" r="0.6" fill="#9a86d8"/><circle cx="435.2" cy="313.8" r="0.6" fill="#9a86d8"/>
<path d="M431.2 317.6 L429 319.4 M431.8 318.2 L430.4 320.2 M436 317.6 L438.2 319.4 M435.4 318.2 L436.8 320.2" stroke="#aaa" stroke-width="0.45" fill="none"/>
<ellipse cx="433.6" cy="318.2" rx="0.8" ry="0.6" fill="#e8d8d8"/>
<text x="411.00" y="345.30" font-size="8.6" text-anchor="middle" fill="#231f20" stroke="#231f20" stroke-width="0.16" textLength="39.00" lengthAdjust="spacingAndGlyphs" >Oligomycin</text>
<text x="448.60" y="345.30" font-size="8.6" text-anchor="middle" fill="#231f20" stroke="#231f20" stroke-width="0.16" textLength="21.80" lengthAdjust="spacingAndGlyphs" >FCCP</text>
<text x="486.60" y="335.20" font-size="8.6" text-anchor="middle" fill="#231f20" stroke="#231f20" stroke-width="0.16" textLength="38.00" lengthAdjust="spacingAndGlyphs" >Rotenone/</text>
<text x="486.00" y="346.20" font-size="8.6" text-anchor="middle" fill="#231f20" stroke="#231f20" stroke-width="0.16" textLength="42.00" lengthAdjust="spacingAndGlyphs" >Antimycin A</text>
<line x1="421.30" y1="353.60" x2="421.30" y2="379.10" stroke="#000" stroke-width="1.0" />
<polygon points="421.30,383.20 419.10,378.60 423.50,378.60" fill="#000"/>
<line x1="444.70" y1="353.60" x2="444.70" y2="379.10" stroke="#000" stroke-width="1.0" />
<polygon points="444.70,383.20 442.50,378.60 446.90,378.60" fill="#000"/>
<line x1="470.90" y1="353.60" x2="470.90" y2="379.10" stroke="#000" stroke-width="1.0" />
<polygon points="470.90,383.20 468.70,378.60 473.10,378.60" fill="#000"/>
<line x1="407.40" y1="376.20" x2="407.40" y2="443.60" stroke="#000" stroke-width="1.1" />
<line x1="406.90" y1="443.10" x2="498.40" y2="443.10" stroke="#000" stroke-width="1.1" />
<line x1="404.40" y1="443.10" x2="407.40" y2="443.10" stroke="#000" stroke-width="0.9" />
<text x="400.80" y="446.20" font-size="8.8" text-anchor="end" fill="#231f20" stroke="#231f20" stroke-width="0.16" >0</text>
<line x1="407.40" y1="443.10" x2="407.40" y2="446.10" stroke="#000" stroke-width="0.9" />
<text x="407.40" y="456.40" font-size="8.8" text-anchor="middle" fill="#231f20" stroke="#231f20" stroke-width="0.16" >0</text>
<line x1="404.40" y1="427.15" x2="407.40" y2="427.15" stroke="#000" stroke-width="0.9" />
<text x="400.80" y="430.25" font-size="8.8" text-anchor="end" fill="#231f20" stroke="#231f20" stroke-width="0.16" >20</text>
<line x1="429.15" y1="443.10" x2="429.15" y2="446.10" stroke="#000" stroke-width="0.9" />
<text x="429.15" y="456.40" font-size="8.8" text-anchor="middle" fill="#231f20" stroke="#231f20" stroke-width="0.16" >20</text>
<line x1="404.40" y1="411.20" x2="407.40" y2="411.20" stroke="#000" stroke-width="0.9" />
<text x="400.80" y="414.30" font-size="8.8" text-anchor="end" fill="#231f20" stroke="#231f20" stroke-width="0.16" >40</text>
<line x1="450.90" y1="443.10" x2="450.90" y2="446.10" stroke="#000" stroke-width="0.9" />
<text x="450.90" y="456.40" font-size="8.8" text-anchor="middle" fill="#231f20" stroke="#231f20" stroke-width="0.16" >40</text>
<line x1="404.40" y1="395.25" x2="407.40" y2="395.25" stroke="#000" stroke-width="0.9" />
<text x="400.80" y="398.35" font-size="8.8" text-anchor="end" fill="#231f20" stroke="#231f20" stroke-width="0.16" >60</text>
<line x1="472.65" y1="443.10" x2="472.65" y2="446.10" stroke="#000" stroke-width="0.9" />
<text x="472.65" y="456.40" font-size="8.8" text-anchor="middle" fill="#231f20" stroke="#231f20" stroke-width="0.16" >60</text>
<line x1="404.40" y1="379.30" x2="407.40" y2="379.30" stroke="#000" stroke-width="0.9" />
<text x="400.80" y="382.40" font-size="8.8" text-anchor="end" fill="#231f20" stroke="#231f20" stroke-width="0.16" >80</text>
<line x1="494.40" y1="443.10" x2="494.40" y2="446.10" stroke="#000" stroke-width="0.9" />
<text x="494.40" y="456.40" font-size="8.8" text-anchor="middle" fill="#231f20" stroke="#231f20" stroke-width="0.16" >80</text>
<path d="M408.49 400.04 L416.10 404.02 L422.62 406.42 L430.24 424.76 L436.76 425.16 L444.38 425.56 L450.90 402.43 L458.51 405.22 L465.04 406.42 L472.65 434.73 L479.17 435.12 L486.79 435.12" fill="none" stroke="#1a3f6e" stroke-width="0.9" stroke-linejoin="round" />
<line x1="408.49" y1="398.44" x2="408.49" y2="401.64" stroke="#1f4b87" stroke-width="0.8" />
<circle cx="408.49" cy="400.04" r="0.9" fill="#1f4b87"/>
<line x1="416.10" y1="402.42" x2="416.10" y2="405.62" stroke="#1f4b87" stroke-width="0.8" />
<circle cx="416.10" cy="404.02" r="0.9" fill="#1f4b87"/>
<line x1="422.62" y1="404.81" x2="422.62" y2="408.02" stroke="#1f4b87" stroke-width="0.8" />
<circle cx="422.62" cy="406.42" r="0.9" fill="#1f4b87"/>
<line x1="430.24" y1="423.16" x2="430.24" y2="426.36" stroke="#1f4b87" stroke-width="0.8" />
<circle cx="430.24" cy="424.76" r="0.9" fill="#1f4b87"/>
<line x1="436.76" y1="423.56" x2="436.76" y2="426.76" stroke="#1f4b87" stroke-width="0.8" />
<circle cx="436.76" cy="425.16" r="0.9" fill="#1f4b87"/>
<line x1="444.38" y1="423.95" x2="444.38" y2="427.16" stroke="#1f4b87" stroke-width="0.8" />
<circle cx="444.38" cy="425.56" r="0.9" fill="#1f4b87"/>
<line x1="450.90" y1="400.83" x2="450.90" y2="404.03" stroke="#1f4b87" stroke-width="0.8" />
<circle cx="450.90" cy="402.43" r="0.9" fill="#1f4b87"/>
<line x1="458.51" y1="403.62" x2="458.51" y2="406.82" stroke="#1f4b87" stroke-width="0.8" />
<circle cx="458.51" cy="405.22" r="0.9" fill="#1f4b87"/>
<line x1="465.04" y1="404.81" x2="465.04" y2="408.02" stroke="#1f4b87" stroke-width="0.8" />
<circle cx="465.04" cy="406.42" r="0.9" fill="#1f4b87"/>
<line x1="472.65" y1="433.13" x2="472.65" y2="436.33" stroke="#1f4b87" stroke-width="0.8" />
<circle cx="472.65" cy="434.73" r="0.9" fill="#1f4b87"/>
<line x1="479.17" y1="433.52" x2="479.17" y2="436.73" stroke="#1f4b87" stroke-width="0.8" />
<circle cx="479.17" cy="435.12" r="0.9" fill="#1f4b87"/>
<line x1="486.79" y1="433.52" x2="486.79" y2="436.73" stroke="#1f4b87" stroke-width="0.8" />
<circle cx="486.79" cy="435.12" r="0.9" fill="#1f4b87"/>
<path d="M408.49 411.20 L416.10 414.79 L422.62 416.78 L430.24 429.14 L436.76 429.94 L444.38 430.34 L450.90 417.58 L458.51 417.18 L465.04 417.18 L472.65 433.53 L479.17 432.73 L486.79 432.33" fill="none" stroke="#cc0a2f" stroke-width="1.0" stroke-linejoin="round" />
<line x1="408.49" y1="409.30" x2="408.49" y2="413.10" stroke="#cc0a2f" stroke-width="0.9" />
<rect x="407.39" y="410.10" width="2.20" height="2.20" fill="#cc0a2f" />
<line x1="416.10" y1="412.89" x2="416.10" y2="416.69" stroke="#cc0a2f" stroke-width="0.9" />
<rect x="415.00" y="413.69" width="2.20" height="2.20" fill="#cc0a2f" />
<line x1="422.62" y1="414.88" x2="422.62" y2="418.68" stroke="#cc0a2f" stroke-width="0.9" />
<rect x="421.52" y="415.68" width="2.20" height="2.20" fill="#cc0a2f" />
<line x1="430.24" y1="427.24" x2="430.24" y2="431.04" stroke="#cc0a2f" stroke-width="0.9" />
<rect x="429.14" y="428.04" width="2.20" height="2.20" fill="#cc0a2f" />
<line x1="436.76" y1="428.04" x2="436.76" y2="431.84" stroke="#cc0a2f" stroke-width="0.9" />
<rect x="435.66" y="428.84" width="2.20" height="2.20" fill="#cc0a2f" />
<line x1="444.38" y1="428.44" x2="444.38" y2="432.24" stroke="#cc0a2f" stroke-width="0.9" />
<rect x="443.27" y="429.24" width="2.20" height="2.20" fill="#cc0a2f" />
<line x1="450.90" y1="415.68" x2="450.90" y2="419.48" stroke="#cc0a2f" stroke-width="0.9" />
<rect x="449.80" y="416.48" width="2.20" height="2.20" fill="#cc0a2f" />
<line x1="458.51" y1="415.28" x2="458.51" y2="419.08" stroke="#cc0a2f" stroke-width="0.9" />
<rect x="457.41" y="416.08" width="2.20" height="2.20" fill="#cc0a2f" />
<line x1="465.04" y1="415.28" x2="465.04" y2="419.08" stroke="#cc0a2f" stroke-width="0.9" />
<rect x="463.94" y="416.08" width="2.20" height="2.20" fill="#cc0a2f" />
<line x1="472.65" y1="431.63" x2="472.65" y2="435.43" stroke="#cc0a2f" stroke-width="0.9" />
<rect x="471.55" y="432.43" width="2.20" height="2.20" fill="#cc0a2f" />
<line x1="479.17" y1="430.83" x2="479.17" y2="434.63" stroke="#cc0a2f" stroke-width="0.9" />
<rect x="478.07" y="431.63" width="2.20" height="2.20" fill="#cc0a2f" />
<line x1="486.79" y1="430.43" x2="486.79" y2="434.23" stroke="#cc0a2f" stroke-width="0.9" />
<rect x="485.69" y="431.23" width="2.20" height="2.20" fill="#cc0a2f" />
<text x="409.09" y="399.34" font-size="5.6" text-anchor="middle" fill="#16243f" stroke="#16243f" stroke-width="0.35">*</text>
<text x="416.70" y="403.32" font-size="5.6" text-anchor="middle" fill="#16243f" stroke="#16243f" stroke-width="0.35">*</text>
<text x="423.23" y="405.72" font-size="5.6" text-anchor="middle" fill="#16243f" stroke="#16243f" stroke-width="0.35">*</text>
<text x="430.84" y="424.06" font-size="5.6" text-anchor="middle" fill="#16243f" stroke="#16243f" stroke-width="0.35">*</text>
<text x="437.36" y="424.46" font-size="5.6" text-anchor="middle" fill="#16243f" stroke="#16243f" stroke-width="0.35">*</text>
<text x="444.98" y="424.86" font-size="5.6" text-anchor="middle" fill="#16243f" stroke="#16243f" stroke-width="0.35">*</text>
<text x="451.50" y="401.73" font-size="5.6" text-anchor="middle" fill="#16243f" stroke="#16243f" stroke-width="0.35">*</text>
<text x="459.11" y="404.52" font-size="5.6" text-anchor="middle" fill="#16243f" stroke="#16243f" stroke-width="0.35">*</text>
<text x="465.64" y="405.72" font-size="5.6" text-anchor="middle" fill="#16243f" stroke="#16243f" stroke-width="0.35">*</text>
<text x="453.00" y="470.00" font-size="9.6" text-anchor="middle" fill="#231f20" stroke="#231f20" stroke-width="0.34" textLength="46.00" lengthAdjust="spacingAndGlyphs" >Time (minutes)</text>
<text x="384.40" y="409.50" font-size="9.6" text-anchor="middle" fill="#231f20" stroke="#231f20" stroke-width="0.34" textLength="51.50" lengthAdjust="spacingAndGlyphs" transform="rotate(-90 384.40 409.50)" >OCR (pmol/min)</text>
<line x1="416.70" y1="483.00" x2="427.00" y2="483.00" stroke="#1f4b87" stroke-width="0.9" />
<circle cx="421.80" cy="483.00" r="1.0" fill="#1f4b87"/>
<text x="430.20" y="485.50" font-size="8.6" text-anchor="start" fill="#231f20" stroke="#231f20" stroke-width="0.16" textLength="9.60" lengthAdjust="spacingAndGlyphs" >mT</text>
<line x1="446.40" y1="483.00" x2="455.80" y2="483.00" stroke="#cc0a2f" stroke-width="1.0" />
<rect x="450.00" y="481.90" width="2.20" height="2.20" fill="#cc0a2f" />
<text x="459.00" y="485.50" font-size="8.6" text-anchor="start" fill="#231f20" stroke="#231f20" stroke-width="0.16" textLength="27.50" lengthAdjust="spacingAndGlyphs" >mT+aPC</text>
<rect x="31.50" y="385.80" width="66.50" height="66.30" fill="#fff" stroke="#c2c2c2" stroke-width="1.2" />
<text x="66.30" y="382.90" font-size="8.6" text-anchor="middle" fill="#231f20" stroke="#231f20" stroke-width="0.16" >T</text>
<rect x="103.00" y="385.80" width="67.20" height="66.30" fill="#fff" stroke="#c2c2c2" stroke-width="1.2" />
<text x="134.40" y="382.90" font-size="8.6" text-anchor="middle" fill="#231f20" stroke="#231f20" stroke-width="0.16" textLength="25.50" lengthAdjust="spacingAndGlyphs" >T+aPC</text>
<rect x="31.50" y="463.80" width="66.40" height="66.70" fill="#fff" stroke="#c2c2c2" stroke-width="1.2" />
<text x="64.50" y="461.60" font-size="8.6" text-anchor="middle" fill="#231f20" stroke="#231f20" stroke-width="0.16" textLength="47.70" lengthAdjust="spacingAndGlyphs" >T+aPC+αKG</text>
<rect x="102.60" y="463.80" width="67.20" height="66.70" fill="#fff" stroke="#c2c2c2" stroke-width="1.2" />
<text x="135.40" y="461.60" font-size="8.6" text-anchor="middle" fill="#231f20" stroke="#231f20" stroke-width="0.16" textLength="38.80" lengthAdjust="spacingAndGlyphs" >T+aPC+Q</text>
<rect x="44.4" y="398.0" width="0.8" height="0.8" fill="#5c5edc"/>
<rect x="50.8" y="405.2" width="0.8" height="0.8" fill="#5c5edc"/>
<rect x="50.8" y="401.2" width="0.8" height="0.8" fill="#5c5edc"/>
<rect x="66.0" y="394.0" width="0.8" height="0.8" fill="#5c5edc"/>
<rect x="45.2" y="403.6" width="0.8" height="0.8" fill="#5c5edc"/>
<rect x="48.4" y="403.6" width="0.8" height="0.8" fill="#5c5edc"/>
<rect x="59.6" y="395.6" width="0.8" height="0.8" fill="#5c5edc"/>
<rect x="70.8" y="398.8" width="0.8" height="0.8" fill="#5c5edc"/>
<rect x="66.8" y="402.0" width="0.8" height="0.8" fill="#5c5edc"/>
<rect x="48.4" y="400.4" width="0.8" height="0.8" fill="#5c5edc"/>
<rect x="40.4" y="402.0" width="0.8" height="0.8" fill="#5c5edc"/>
<rect x="64.4" y="406.0" width="0.8" height="0.8" fill="#5c5edc"/>
<rect x="46.0" y="402.8" width="0.8" height="0.8" fill="#5c5edc"/>
<rect x="62.8" y="396.4" width="0.8" height="0.8" fill="#5c5edc"/>
<rect x="59.6" y="406.0" width="0.8" height="0.8" fill="#5c5edc"/>
<rect x="73.2" y="401.2" width="0.8" height="0.8" fill="#5c5edc"/>
<rect x="53.2" y="406.0" width="0.8" height="0.8" fill="#5c5edc"/>
<rect x="69.2" y="405.2" width="0.8" height="0.8" fill="#5c5edc"/>
<rect x="60.4" y="406.0" width="0.8" height="0.8" fill="#5c5edc"/>
<rect x="58.0" y="395.6" width="0.8" height="0.8" fill="#5c5edc"/>
<rect x="62.8" y="406.0" width="0.8" height="0.8" fill="#5c5edc"/>
<rect x="51.6" y="397.2" width="0.8" height="0.8" fill="#5c5edc"/>
<rect x="47.6" y="400.4" width="0.8" height="0.8" fill="#5c5edc"/>
<rect x="49.2" y="400.4" width="0.8" height="0.8" fill="#5c5edc"/>
<rect x="54.0" y="395.6" width="0.8" height="0.8" fill="#5c5edc"/>
<rect x="54.0" y="407.6" width="0.8" height="0.8" fill="#5c5edc"/>
<rect x="52.4" y="396.4" width="0.8" height="0.8" fill="#5c5edc"/>
<rect x="70.0" y="395.6" width="0.8" height="0.8" fill="#5c5edc"/>
<rect x="67.6" y="401.2" width="0.8" height="0.8" fill="#5c5edc"/>
<rect x="66.8" y="396.4" width="0.8" height="0.8" fill="#5c5edc"/>
<rect x="54.8" y="395.6" width="0.8" height="0.8" fill="#5c5edc"/>
<rect x="68.4" y="396.4" width="0.8" height="0.8" fill="#5c5edc"/>
<rect x="43.6" y="400.4" width="0.8" height="0.8" fill="#5c5edc"/>
<rect x="74.8" y="402.0" width="0.8" height="0.8" fill="#5c5edc"/>
<rect x="73.2" y="398.8" width="0.8" height="0.8" fill="#5c5edc"/>
<rect x="55.6" y="395.6" width="0.8" height="0.8" fill="#5c5edc"/>
<rect x="68.4" y="402.0" width="0.8" height="0.8" fill="#5c5edc"/>
<rect x="42.8" y="405.2" width="0.8" height="0.8" fill="#5c5edc"/>
<rect x="65.2" y="398.0" width="0.8" height="0.8" fill="#5c5edc"/>
<rect x="67.6" y="405.2" width="0.8" height="0.8" fill="#5c5edc"/>
<rect x="66.0" y="397.2" width="0.8" height="0.8" fill="#5c5edc"/>
<rect x="50.0" y="397.2" width="0.8" height="0.8" fill="#5c5edc"/>
<rect x="47.6" y="409.2" width="0.8" height="0.8" fill="#5c5edc"/>
<rect x="50.0" y="406.8" width="0.8" height="0.8" fill="#5c5edc"/>
<rect x="72.4" y="399.6" width="0.8" height="0.8" fill="#5c5edc"/>
<rect x="63.6" y="394.8" width="0.8" height="0.8" fill="#5c5edc"/>
<rect x="70.8" y="398.0" width="0.8" height="0.8" fill="#5c5edc"/>
<rect x="43.6" y="404.4" width="0.8" height="0.8" fill="#5c5edc"/>
<rect x="42.8" y="402.8" width="0.8" height="0.8" fill="#5c5edc"/>
<rect x="69.2" y="402.0" width="0.8" height="0.8" fill="#5c5edc"/>
<rect x="53.2" y="395.6" width="0.8" height="0.8" fill="#5c5edc"/>
<rect x="58.0" y="406.8" width="0.8" height="0.8" fill="#5c5edc"/>
<rect x="68.4" y="402.8" width="0.8" height="0.8" fill="#5c5edc"/>
<rect x="60.4" y="394.0" width="0.8" height="0.8" fill="#5c5edc"/>
<rect x="50.0" y="398.8" width="0.8" height="0.8" fill="#5c5edc"/>
<rect x="66.0" y="403.6" width="0.8" height="0.8" fill="#5c5edc"/>
<rect x="68.4" y="398.8" width="0.8" height="0.8" fill="#5c5edc"/>
<rect x="62.0" y="395.6" width="0.8" height="0.8" fill="#5c5edc"/>
<rect x="42.0" y="403.6" width="0.8" height="0.8" fill="#5c5edc"/>
<rect x="70.0" y="404.4" width="0.8" height="0.8" fill="#5c5edc"/>
<rect x="49.2" y="407.6" width="0.8" height="0.8" fill="#5c5edc"/>
<rect x="54.0" y="398.0" width="0.8" height="0.8" fill="#5c5edc"/>
<rect x="68.4" y="394.0" width="0.8" height="0.8" fill="#5c5edc"/>
<rect x="42.0" y="397.2" width="0.8" height="0.8" fill="#5c5edc"/>
<rect x="66.8" y="406.0" width="0.8" height="0.8" fill="#5c5edc"/>
<rect x="46.8" y="405.2" width="0.8" height="0.8" fill="#5c5edc"/>
<rect x="74.0" y="402.0" width="0.8" height="0.8" fill="#5c5edc"/>
<rect x="67.6" y="395.6" width="0.8" height="0.8" fill="#5c5edc"/>
<rect x="42.0" y="398.8" width="0.8" height="0.8" fill="#5c5edc"/>
<rect x="64.4" y="397.2" width="0.8" height="0.8" fill="#5c5edc"/>
<rect x="66.8" y="404.4" width="0.8" height="0.8" fill="#5c5edc"/>
<rect x="51.6" y="407.6" width="0.8" height="0.8" fill="#5c5edc"/>
<rect x="50.8" y="402.8" width="0.8" height="0.8" fill="#5c5edc"/>
<rect x="50.8" y="399.6" width="0.8" height="0.8" fill="#5c5edc"/>
<rect x="61.2" y="407.6" width="0.8" height="0.8" fill="#5c5edc"/>
<rect x="58.8" y="406.0" width="0.8" height="0.8" fill="#5c5edc"/>
<rect x="52.4" y="397.2" width="0.8" height="0.8" fill="#5c5edc"/>
<rect x="55.6" y="396.4" width="0.8" height="0.8" fill="#5c5edc"/>
<rect x="59.6" y="396.4" width="0.8" height="0.8" fill="#5c5edc"/>
<rect x="50.0" y="396.4" width="0.8" height="0.8" fill="#5c5edc"/>
<rect x="47.6" y="405.2" width="0.8" height="0.8" fill="#5c5edc"/>
<rect x="71.6" y="398.0" width="0.8" height="0.8" fill="#5c5edc"/>
<rect x="51.6" y="405.2" width="0.8" height="0.8" fill="#5c5edc"/>
<rect x="66.8" y="398.0" width="0.8" height="0.8" fill="#5c5edc"/>
<rect x="49.2" y="398.0" width="0.8" height="0.8" fill="#5c5edc"/>
<rect x="61.2" y="394.0" width="0.8" height="0.8" fill="#5c5edc"/>
<rect x="47.6" y="404.4" width="0.8" height="0.8" fill="#5c5edc"/>
<rect x="64.4" y="396.4" width="0.8" height="0.8" fill="#5c5edc"/>
<rect x="52.4" y="407.6" width="0.8" height="0.8" fill="#5c5edc"/>
<rect x="48.4" y="402.8" width="0.8" height="0.8" fill="#5c5edc"/>
<rect x="47.6" y="402.0" width="0.8" height="0.8" fill="#5c5edc"/>
<rect x="49.2" y="398.8" width="0.8" height="0.8" fill="#5c5edc"/>
<rect x="44.4" y="404.4" width="0.8" height="0.8" fill="#5c5edc"/>
<rect x="74.8" y="397.2" width="0.8" height="0.8" fill="#5c5edc"/>
<rect x="58.0" y="407.6" width="0.8" height="0.8" fill="#5c5edc"/>
<rect x="45.2" y="401.2" width="0.8" height="0.8" fill="#5c5edc"/>
<rect x="48.4" y="402.0" width="0.8" height="0.8" fill="#5c5edc"/>
<rect x="60.4" y="406.8" width="0.8" height="0.8" fill="#5c5edc"/>
<rect x="63.6" y="396.4" width="0.8" height="0.8" fill="#5c5edc"/>
<rect x="48.4" y="398.8" width="0.8" height="0.8" fill="#5c5edc"/>
<rect x="49.2" y="402.8" width="0.8" height="0.8" fill="#5c5edc"/>
<rect x="66.0" y="402.8" width="0.8" height="0.8" fill="#5c5edc"/>
<rect x="43.6" y="402.0" width="0.8" height="0.8" fill="#5c5edc"/>
<rect x="41.2" y="401.2" width="0.8" height="0.8" fill="#5c5edc"/>
<rect x="48.4" y="406.0" width="0.8" height="0.8" fill="#5c5edc"/>
<rect x="50.0" y="405.2" width="0.8" height="0.8" fill="#5c5edc"/>
<rect x="54.8" y="397.2" width="0.8" height="0.8" fill="#5c5edc"/>
<rect x="52.4" y="406.0" width="0.8" height="0.8" fill="#5c5edc"/>
<rect x="68.4" y="400.4" width="0.8" height="0.8" fill="#3b49ce"/>
<rect x="71.6" y="400.4" width="0.8" height="0.8" fill="#3b49ce"/>
<rect x="50.0" y="399.6" width="0.8" height="0.8" fill="#3b49ce"/>
<rect x="62.8" y="405.2" width="0.8" height="0.8" fill="#3b49ce"/>
<rect x="66.8" y="395.6" width="0.8" height="0.8" fill="#3b49ce"/>
<rect x="68.4" y="401.2" width="0.8" height="0.8" fill="#3b49ce"/>
<rect x="68.4" y="397.2" width="0.8" height="0.8" fill="#3b49ce"/>
<rect x="54.0" y="397.2" width="0.8" height="0.8" fill="#3b49ce"/>
<rect x="67.6" y="402.8" width="0.8" height="0.8" fill="#3b49ce"/>
<rect x="64.4" y="395.6" width="0.8" height="0.8" fill="#3b49ce"/>
<rect x="65.2" y="396.4" width="0.8" height="0.8" fill="#3b49ce"/>
<rect x="64.4" y="399.6" width="0.8" height="0.8" fill="#3b49ce"/>
<rect x="45.2" y="404.4" width="0.8" height="0.8" fill="#3b49ce"/>
<rect x="69.2" y="404.4" width="0.8" height="0.8" fill="#3b49ce"/>
<rect x="70.8" y="402.0" width="0.8" height="0.8" fill="#3b49ce"/>
<rect x="47.6" y="399.6" width="0.8" height="0.8" fill="#3b49ce"/>
<rect x="72.4" y="398.0" width="0.8" height="0.8" fill="#3b49ce"/>
<rect x="53.2" y="406.8" width="0.8" height="0.8" fill="#3b49ce"/>
<rect x="72.4" y="395.6" width="0.8" height="0.8" fill="#3b49ce"/>
<rect x="44.4" y="399.6" width="0.8" height="0.8" fill="#3b49ce"/>
<rect x="46.0" y="400.4" width="0.8" height="0.8" fill="#3b49ce"/>
<rect x="61.2" y="395.6" width="0.8" height="0.8" fill="#3b49ce"/>
<rect x="52.4" y="403.6" width="0.8" height="0.8" fill="#3b49ce"/>
<rect x="50.0" y="402.0" width="0.8" height="0.8" fill="#3b49ce"/>
<rect x="70.0" y="398.0" width="0.8" height="0.8" fill="#3b49ce"/>
<rect x="64.4" y="398.8" width="0.8" height="0.8" fill="#3b49ce"/>
<rect x="69.2" y="403.6" width="0.8" height="0.8" fill="#3b49ce"/>
<rect x="50.0" y="403.6" width="0.8" height="0.8" fill="#3b49ce"/>
<rect x="50.8" y="398.8" width="0.8" height="0.8" fill="#3b49ce"/>
<rect x="52.4" y="405.2" width="0.8" height="0.8" fill="#3b49ce"/>
<rect x="61.2" y="405.2" width="0.8" height="0.8" fill="#3b49ce"/>
<rect x="51.6" y="406.0" width="0.8" height="0.8" fill="#3b49ce"/>
<rect x="54.0" y="406.0" width="0.8" height="0.8" fill="#3b49ce"/>
<rect x="42.8" y="402.0" width="0.8" height="0.8" fill="#3b49ce"/>
<rect x="67.6" y="398.0" width="0.8" height="0.8" fill="#3b49ce"/>
<rect x="59.6" y="405.2" width="0.8" height="0.8" fill="#3b49ce"/>
<rect x="66.8" y="403.6" width="0.8" height="0.8" fill="#3b49ce"/>
<rect x="69.2" y="396.4" width="0.8" height="0.8" fill="#3b49ce"/>
<rect x="50.0" y="402.8" width="0.8" height="0.8" fill="#3b49ce"/>
<rect x="62.0" y="397.2" width="0.8" height="0.8" fill="#3b49ce"/>
<rect x="52.4" y="398.8" width="0.8" height="0.8" fill="#3b49ce"/>
<rect x="62.8" y="404.4" width="0.8" height="0.8" fill="#3b49ce"/>
<rect x="52.4" y="398.0" width="0.8" height="0.8" fill="#3b49ce"/>
<rect x="66.8" y="402.8" width="0.8" height="0.8" fill="#3b49ce"/>
<rect x="46.0" y="403.6" width="0.8" height="0.8" fill="#3b49ce"/>
<rect x="70.0" y="397.2" width="0.8" height="0.8" fill="#3b49ce"/>
<rect x="69.2" y="400.4" width="0.8" height="0.8" fill="#3b49ce"/>
<rect x="58.8" y="404.4" width="0.8" height="0.8" fill="#3b49ce"/>
<rect x="66.0" y="398.0" width="0.8" height="0.8" fill="#3b49ce"/>
<rect x="66.0" y="396.4" width="0.8" height="0.8" fill="#3b49ce"/>
<rect x="49.2" y="403.6" width="0.8" height="0.8" fill="#3b49ce"/>
<rect x="66.8" y="400.4" width="0.8" height="0.8" fill="#3b49ce"/>
<rect x="66.8" y="401.2" width="0.8" height="0.8" fill="#3b49ce"/>
<rect x="70.0" y="396.4" width="0.8" height="0.8" fill="#3b49ce"/>
<rect x="67.6" y="402.0" width="0.8" height="0.8" fill="#3b49ce"/>
<rect x="67.6" y="397.2" width="0.8" height="0.8" fill="#3b49ce"/>
<rect x="55.6" y="406.0" width="0.8" height="0.8" fill="#3b49ce"/>
<rect x="48.4" y="399.6" width="0.8" height="0.8" fill="#3b49ce"/>
<rect x="55.6" y="406.8" width="0.8" height="0.8" fill="#2e4ec5"/>
<rect x="63.6" y="397.2" width="0.8" height="0.8" fill="#2e4ec5"/>
<rect x="46.8" y="402.8" width="0.8" height="0.8" fill="#2e4ec5"/>
<rect x="65.2" y="399.6" width="0.8" height="0.8" fill="#2e4ec5"/>
<rect x="51.6" y="403.6" width="0.8" height="0.8" fill="#2e4ec5"/>
<rect x="53.2" y="398.0" width="0.8" height="0.8" fill="#2e4ec5"/>
<rect x="64.4" y="398.0" width="0.8" height="0.8" fill="#2e4ec5"/>
<rect x="58.0" y="406.0" width="0.8" height="0.8" fill="#2e4ec5"/>
<rect x="51.6" y="399.6" width="0.8" height="0.8" fill="#2e4ec5"/>
<rect x="54.8" y="406.0" width="0.8" height="0.8" fill="#2e4ec5"/>
<rect x="61.2" y="396.4" width="0.8" height="0.8" fill="#2e4ec5"/>
<rect x="51.6" y="400.4" width="0.8" height="0.8" fill="#2e4ec5"/>
<rect x="61.2" y="397.2" width="0.8" height="0.8" fill="#2e4ec5"/>
<rect x="58.0" y="405.2" width="0.8" height="0.8" fill="#2e4ec5"/>
<rect x="70.0" y="400.4" width="0.8" height="0.8" fill="#2e4ec5"/>
<rect x="56.4" y="406.0" width="0.8" height="0.8" fill="#2e4ec5"/>
<rect x="49.2" y="405.2" width="0.8" height="0.8" fill="#2e4ec5"/>
<rect x="69.2" y="398.8" width="0.8" height="0.8" fill="#2e4ec5"/>
<rect x="56.4" y="397.2" width="0.8" height="0.8" fill="#2e4ec5"/>
<rect x="66.8" y="398.8" width="0.8" height="0.8" fill="#2e4ec5"/>
<rect x="70.8" y="399.6" width="0.8" height="0.8" fill="#2e4ec5"/>
<rect x="50.0" y="400.4" width="0.8" height="0.8" fill="#2e4ec5"/>
<rect x="69.2" y="397.2" width="0.8" height="0.8" fill="#2e4ec5"/>
<rect x="54.0" y="405.2" width="0.8" height="0.8" fill="#2e4ec5"/>
<rect x="57.2" y="406.0" width="0.8" height="0.8" fill="#2e4ec5"/>
<rect x="67.6" y="396.4" width="0.8" height="0.8" fill="#2e4ec5"/>
<rect x="66.8" y="399.6" width="0.8" height="0.8" fill="#2e4ec5"/>
<rect x="47.6" y="402.8" width="0.8" height="0.8" fill="#2e4ec5"/>
<rect x="63.6" y="399.6" width="0.8" height="0.8" fill="#2e4ec5"/>
<rect x="49.2" y="404.4" width="0.8" height="0.8" fill="#2e4ec5"/>
<rect x="48.4" y="401.2" width="0.8" height="0.8" fill="#2e4ec5"/>
<rect x="60.4" y="404.4" width="0.8" height="0.8" fill="#2e4ec5"/>
<rect x="54.8" y="405.2" width="0.8" height="0.8" fill="#2e4ec5"/>
<rect x="58.8" y="405.2" width="0.8" height="0.8" fill="#2e4ec5"/>
<rect x="58.0" y="397.2" width="0.8" height="0.8" fill="#2e4ec5"/>
<rect x="61.2" y="404.4" width="0.8" height="0.8" fill="#2e4ec5"/>
<rect x="63.6" y="398.8" width="0.8" height="0.8" fill="#2e4ec5"/>
<rect x="67.6" y="399.6" width="0.8" height="0.8" fill="#2e4ec5"/>
<rect x="65.2" y="402.8" width="0.8" height="0.8" fill="#2e4ec5"/>
<rect x="52.4" y="402.0" width="0.8" height="0.8" fill="#2e4ec5"/>
<rect x="69.2" y="398.0" width="0.8" height="0.8" fill="#2e4ec5"/>
<rect x="65.2" y="401.2" width="0.8" height="0.8" fill="#2e4ec5"/>
<rect x="71.6" y="397.2" width="0.8" height="0.8" fill="#2e4ec5"/>
<rect x="64.4" y="400.4" width="0.8" height="0.8" fill="#2e4ec5"/>
<rect x="67.6" y="398.8" width="0.8" height="0.8" fill="#2452bd"/>
<rect x="63.6" y="402.0" width="0.8" height="0.8" fill="#2452bd"/>
<rect x="57.2" y="405.2" width="0.8" height="0.8" fill="#2452bd"/>
<rect x="68.4" y="398.0" width="0.8" height="0.8" fill="#2452bd"/>
<rect x="69.2" y="399.6" width="0.8" height="0.8" fill="#2452bd"/>
<rect x="54.8" y="398.0" width="0.8" height="0.8" fill="#2452bd"/>
<rect x="55.6" y="397.2" width="0.8" height="0.8" fill="#2452bd"/>
<rect x="55.6" y="404.4" width="0.8" height="0.8" fill="#2452bd"/>
<rect x="59.6" y="404.4" width="0.8" height="0.8" fill="#2452bd"/>
<rect x="62.8" y="398.0" width="0.8" height="0.8" fill="#2452bd"/>
<rect x="60.4" y="405.2" width="0.8" height="0.8" fill="#2452bd"/>
<rect x="69.2" y="401.2" width="0.8" height="0.8" fill="#2452bd"/>
<rect x="62.0" y="403.6" width="0.8" height="0.8" fill="#2452bd"/>
<rect x="62.8" y="403.6" width="0.8" height="0.8" fill="#2452bd"/>
<rect x="70.8" y="401.2" width="0.8" height="0.8" fill="#2452bd"/>
<rect x="66.0" y="402.0" width="0.8" height="0.8" fill="#2452bd"/>
<rect x="50.8" y="402.0" width="0.8" height="0.8" fill="#2452bd"/>
<rect x="49.2" y="402.0" width="0.8" height="0.8" fill="#2452bd"/>
<rect x="63.6" y="403.6" width="0.8" height="0.8" fill="#2452bd"/>
<rect x="62.8" y="402.0" width="0.8" height="0.8" fill="#2452bd"/>
<rect x="51.6" y="404.4" width="0.8" height="0.8" fill="#2452bd"/>
<rect x="58.8" y="396.4" width="0.8" height="0.8" fill="#2452bd"/>
<rect x="53.2" y="405.2" width="0.8" height="0.8" fill="#2452bd"/>
<rect x="55.6" y="405.2" width="0.8" height="0.8" fill="#2452bd"/>
<rect x="70.0" y="398.8" width="0.8" height="0.8" fill="#2452bd"/>
<rect x="62.8" y="397.2" width="0.8" height="0.8" fill="#2452bd"/>
<rect x="68.4" y="399.6" width="0.8" height="0.8" fill="#1d56b8"/>
<rect x="64.4" y="401.2" width="0.8" height="0.8" fill="#1d56b8"/>
<rect x="65.2" y="402.0" width="0.8" height="0.8" fill="#1d56b8"/>
<rect x="62.0" y="404.4" width="0.8" height="0.8" fill="#1d56b8"/>
<rect x="50.8" y="400.4" width="0.8" height="0.8" fill="#1d56b8"/>
<rect x="61.2" y="398.8" width="0.8" height="0.8" fill="#1d56b8"/>
<rect x="53.2" y="404.4" width="0.8" height="0.8" fill="#1d56b8"/>
<rect x="64.4" y="404.4" width="0.8" height="0.8" fill="#1d56b8"/>
<rect x="50.8" y="403.6" width="0.8" height="0.8" fill="#1d56b8"/>
<rect x="64.4" y="402.0" width="0.8" height="0.8" fill="#1d56b8"/>
<rect x="60.4" y="397.2" width="0.8" height="0.8" fill="#1d56b8"/>
<rect x="58.0" y="398.0" width="0.8" height="0.8" fill="#1d56b8"/>
<rect x="51.6" y="402.8" width="0.8" height="0.8" fill="#1d56b8"/>
<rect x="56.4" y="398.0" width="0.8" height="0.8" fill="#1d56b8"/>
<rect x="59.6" y="398.8" width="0.8" height="0.8" fill="#1961b3"/>
<rect x="66.0" y="400.4" width="0.8" height="0.8" fill="#1961b3"/>
<rect x="66.0" y="401.2" width="0.8" height="0.8" fill="#1961b3"/>
<rect x="62.8" y="402.8" width="0.8" height="0.8" fill="#1961b3"/>
<rect x="66.0" y="398.8" width="0.8" height="0.8" fill="#1961b3"/>
<rect x="65.2" y="403.6" width="0.8" height="0.8" fill="#1961b3"/>
<rect x="54.8" y="403.6" width="0.8" height="0.8" fill="#1961b3"/>
<rect x="59.6" y="397.2" width="0.8" height="0.8" fill="#1961b3"/>
<rect x="67.6" y="400.4" width="0.8" height="0.8" fill="#1961b3"/>
<rect x="50.0" y="401.2" width="0.8" height="0.8" fill="#1961b3"/>
<rect x="66.0" y="399.6" width="0.8" height="0.8" fill="#1961b3"/>
<rect x="51.6" y="402.0" width="0.8" height="0.8" fill="#1961b3"/>
<rect x="59.6" y="398.0" width="0.8" height="0.8" fill="#1961b3"/>
<rect x="52.4" y="404.4" width="0.8" height="0.8" fill="#1961b3"/>
<rect x="52.4" y="400.4" width="0.8" height="0.8" fill="#1961b3"/>
<rect x="62.8" y="399.6" width="0.8" height="0.8" fill="#166aaf"/>
<rect x="65.2" y="400.4" width="0.8" height="0.8" fill="#166aaf"/>
<rect x="61.2" y="398.0" width="0.8" height="0.8" fill="#166aaf"/>
<rect x="58.8" y="397.2" width="0.8" height="0.8" fill="#166aaf"/>
<rect x="54.8" y="398.8" width="0.8" height="0.8" fill="#166aaf"/>
<rect x="60.4" y="398.0" width="0.8" height="0.8" fill="#166aaf"/>
<rect x="63.6" y="398.0" width="0.8" height="0.8" fill="#166aaf"/>
<rect x="57.2" y="397.2" width="0.8" height="0.8" fill="#166aaf"/>
<rect x="53.2" y="399.6" width="0.8" height="0.8" fill="#166aaf"/>
<rect x="56.4" y="404.4" width="0.8" height="0.8" fill="#166aaf"/>
<rect x="53.2" y="400.4" width="0.8" height="0.8" fill="#166aaf"/>
<rect x="62.8" y="401.2" width="0.8" height="0.8" fill="#166aaf"/>
<rect x="56.4" y="405.2" width="0.8" height="0.8" fill="#166aaf"/>
<rect x="62.0" y="398.0" width="0.8" height="0.8" fill="#1472ab"/>
<rect x="51.6" y="401.2" width="0.8" height="0.8" fill="#1472ab"/>
<rect x="63.6" y="402.8" width="0.8" height="0.8" fill="#1472ab"/>
<rect x="52.4" y="402.8" width="0.8" height="0.8" fill="#1472ab"/>
<rect x="65.2" y="398.8" width="0.8" height="0.8" fill="#1472ab"/>
<rect x="53.2" y="398.8" width="0.8" height="0.8" fill="#1472ab"/>
<rect x="55.6" y="398.0" width="0.8" height="0.8" fill="#1472ab"/>
<rect x="50.8" y="404.4" width="0.8" height="0.8" fill="#1472ab"/>
<rect x="52.4" y="399.6" width="0.8" height="0.8" fill="#1472ab"/>
<rect x="54.0" y="404.4" width="0.8" height="0.8" fill="#1472ab"/>
<rect x="53.2" y="403.6" width="0.8" height="0.8" fill="#1472ab"/>
<rect x="56.4" y="398.8" width="0.8" height="0.8" fill="#117aa8"/>
<rect x="63.6" y="401.2" width="0.8" height="0.8" fill="#117aa8"/>
<rect x="62.8" y="400.4" width="0.8" height="0.8" fill="#117aa8"/>
<rect x="57.2" y="404.4" width="0.8" height="0.8" fill="#117aa8"/>
<rect x="62.0" y="402.8" width="0.8" height="0.8" fill="#117aa8"/>
<rect x="52.4" y="401.2" width="0.8" height="0.8" fill="#117aa8"/>
<rect x="53.2" y="402.0" width="0.8" height="0.8" fill="#0f81a5"/>
<rect x="60.4" y="403.6" width="0.8" height="0.8" fill="#0f81a5"/>
<rect x="56.4" y="403.6" width="0.8" height="0.8" fill="#0f81a5"/>
<rect x="53.2" y="402.8" width="0.8" height="0.8" fill="#0f81a5"/>
<rect x="55.6" y="403.6" width="0.8" height="0.8" fill="#11869e"/>
<rect x="54.8" y="404.4" width="0.8" height="0.8" fill="#11869e"/>
<rect x="58.0" y="403.6" width="0.8" height="0.8" fill="#11869e"/>
<rect x="62.8" y="398.8" width="0.8" height="0.8" fill="#11869e"/>
<rect x="59.6" y="403.6" width="0.8" height="0.8" fill="#11869e"/>
<rect x="58.8" y="398.8" width="0.8" height="0.8" fill="#11869e"/>
<rect x="57.2" y="398.0" width="0.8" height="0.8" fill="#11869e"/>
<rect x="55.6" y="398.8" width="0.8" height="0.8" fill="#11869e"/>
<rect x="60.4" y="402.8" width="0.8" height="0.8" fill="#148b97"/>
<rect x="62.0" y="402.0" width="0.8" height="0.8" fill="#148b97"/>
<rect x="63.6" y="400.4" width="0.8" height="0.8" fill="#148b97"/>
<rect x="61.2" y="403.6" width="0.8" height="0.8" fill="#148b97"/>
<rect x="58.8" y="403.6" width="0.8" height="0.8" fill="#148b97"/>
<rect x="54.0" y="398.8" width="0.8" height="0.8" fill="#148b97"/>
<rect x="58.8" y="398.0" width="0.8" height="0.8" fill="#148b97"/>
<rect x="61.2" y="402.8" width="0.8" height="0.8" fill="#148b97"/>
<rect x="58.8" y="402.8" width="0.8" height="0.8" fill="#168f91"/>
<rect x="60.4" y="398.8" width="0.8" height="0.8" fill="#168f91"/>
<rect x="58.0" y="404.4" width="0.8" height="0.8" fill="#168f91"/>
<rect x="54.0" y="399.6" width="0.8" height="0.8" fill="#168f91"/>
<rect x="57.2" y="398.8" width="0.8" height="0.8" fill="#168f91"/>
<rect x="53.2" y="401.2" width="0.8" height="0.8" fill="#19938b"/>
<rect x="60.4" y="399.6" width="0.8" height="0.8" fill="#19938b"/>
<rect x="62.0" y="400.4" width="0.8" height="0.8" fill="#19938b"/>
<rect x="57.2" y="403.6" width="0.8" height="0.8" fill="#19938b"/>
<rect x="61.2" y="399.6" width="0.8" height="0.8" fill="#19938b"/>
<rect x="54.0" y="400.4" width="0.8" height="0.8" fill="#1b9785"/>
<rect x="54.0" y="403.6" width="0.8" height="0.8" fill="#1b9785"/>
<rect x="62.0" y="398.8" width="0.8" height="0.8" fill="#1b9785"/>
<rect x="55.6" y="399.6" width="0.8" height="0.8" fill="#1b9785"/>
<rect x="54.8" y="401.2" width="0.8" height="0.8" fill="#1b9785"/>
<rect x="62.0" y="401.2" width="0.8" height="0.8" fill="#1b9785"/>
<rect x="61.2" y="400.4" width="0.8" height="0.8" fill="#1d9b80"/>
<rect x="61.2" y="402.0" width="0.8" height="0.8" fill="#1d9b80"/>
<rect x="54.0" y="402.8" width="0.8" height="0.8" fill="#1d9b80"/>
<rect x="62.0" y="399.6" width="0.8" height="0.8" fill="#1f9f7b"/>
<rect x="59.6" y="402.8" width="0.8" height="0.8" fill="#1f9f7b"/>
<rect x="54.0" y="401.2" width="0.8" height="0.8" fill="#1f9f7b"/>
<rect x="61.2" y="401.2" width="0.8" height="0.8" fill="#21a276"/>
<rect x="54.0" y="402.0" width="0.8" height="0.8" fill="#21a276"/>
<rect x="55.6" y="400.4" width="0.8" height="0.8" fill="#21a276"/>
<rect x="59.6" y="399.6" width="0.8" height="0.8" fill="#21a276"/>
<rect x="55.6" y="402.8" width="0.8" height="0.8" fill="#25a571"/>
<rect x="58.8" y="399.6" width="0.8" height="0.8" fill="#25a571"/>
<rect x="56.4" y="402.8" width="0.8" height="0.8" fill="#2fa96b"/>
<rect x="54.8" y="399.6" width="0.8" height="0.8" fill="#38ac66"/>
<rect x="59.6" y="402.0" width="0.8" height="0.8" fill="#38ac66"/>
<rect x="58.8" y="401.2" width="0.8" height="0.8" fill="#42af60"/>
<rect x="54.8" y="402.8" width="0.8" height="0.8" fill="#42af60"/>
<rect x="57.2" y="399.6" width="0.8" height="0.8" fill="#42af60"/>
<rect x="58.0" y="402.0" width="0.8" height="0.8" fill="#42af60"/>
<rect x="58.8" y="402.0" width="0.8" height="0.8" fill="#42af60"/>
<rect x="60.4" y="402.0" width="0.8" height="0.8" fill="#4ab35b"/>
<rect x="58.0" y="398.8" width="0.8" height="0.8" fill="#4ab35b"/>
<rect x="60.4" y="400.4" width="0.8" height="0.8" fill="#4ab35b"/>
<rect x="56.4" y="402.0" width="0.8" height="0.8" fill="#53b656"/>
<rect x="56.4" y="401.2" width="0.8" height="0.8" fill="#53b656"/>
<rect x="58.0" y="402.8" width="0.8" height="0.8" fill="#53b656"/>
<rect x="56.4" y="399.6" width="0.8" height="0.8" fill="#5bb951"/>
<rect x="60.4" y="401.2" width="0.8" height="0.8" fill="#5bb951"/>
<rect x="57.2" y="401.2" width="0.8" height="0.8" fill="#5bb951"/>
<rect x="54.8" y="402.0" width="0.8" height="0.8" fill="#63bb4d"/>
<rect x="56.4" y="400.4" width="0.8" height="0.8" fill="#63bb4d"/>
<rect x="58.8" y="400.4" width="0.8" height="0.8" fill="#63bb4d"/>
<rect x="54.8" y="400.4" width="0.8" height="0.8" fill="#63bb4d"/>
<rect x="58.0" y="399.6" width="0.8" height="0.8" fill="#63bb4d"/>
<rect x="57.2" y="400.4" width="0.8" height="0.8" fill="#6bbe48"/>
<rect x="59.6" y="401.2" width="0.8" height="0.8" fill="#6bbe48"/>
<rect x="58.0" y="400.4" width="0.8" height="0.8" fill="#72c144"/>
<rect x="55.6" y="402.0" width="0.8" height="0.8" fill="#7bc340"/>
<rect x="59.6" y="400.4" width="0.8" height="0.8" fill="#7bc340"/>
<rect x="57.2" y="402.0" width="0.8" height="0.8" fill="#8bc73e"/>
<rect x="55.6" y="401.2" width="0.8" height="0.8" fill="#9acb3c"/>
<rect x="57.2" y="402.8" width="0.8" height="0.8" fill="#c6d535"/>
<rect x="58.0" y="401.2" width="0.8" height="0.8" fill="#e1dc32"/>
<rect x="57.9" y="425.4" width="0.7" height="0.7" fill="#8a90e4" opacity="0.6"/>
<rect x="61.1" y="421.4" width="0.7" height="0.7" fill="#8a90e4" opacity="0.6"/>
<rect x="57.8" y="421.4" width="0.7" height="0.7" fill="#8a90e4" opacity="0.6"/>
<rect x="56.0" y="423.1" width="0.7" height="0.7" fill="#8a90e4" opacity="0.6"/>
<rect x="55.7" y="423.6" width="0.7" height="0.7" fill="#8a90e4" opacity="0.6"/>
<rect x="53.5" y="421.5" width="0.7" height="0.7" fill="#8a90e4" opacity="0.6"/>
<rect x="54.2" y="417.1" width="0.7" height="0.7" fill="#8a90e4" opacity="0.6"/>
<rect x="53.9" y="420.0" width="0.7" height="0.7" fill="#8a90e4" opacity="0.6"/>
<rect x="55.4" y="415.5" width="0.7" height="0.7" fill="#8a90e4" opacity="0.6"/>
<rect x="55.1" y="417.3" width="0.7" height="0.7" fill="#8a90e4" opacity="0.6"/>
<rect x="53.6" y="423.0" width="0.7" height="0.7" fill="#8a90e4" opacity="0.6"/>
<rect x="58.9" y="423.4" width="0.7" height="0.7" fill="#8a90e4" opacity="0.6"/>
<rect x="54.5" y="420.3" width="0.7" height="0.7" fill="#8a90e4" opacity="0.6"/>
<rect x="59.5" y="415.2" width="0.7" height="0.7" fill="#8a90e4" opacity="0.6"/>
<rect x="59.0" y="415.7" width="0.7" height="0.7" fill="#8a90e4" opacity="0.6"/>
<rect x="54.1" y="422.3" width="0.7" height="0.7" fill="#8a90e4" opacity="0.6"/>
<rect x="55.2" y="429.3" width="0.7" height="0.7" fill="#8a90e4" opacity="0.6"/>
<rect x="57.2" y="421.9" width="0.7" height="0.7" fill="#8a90e4" opacity="0.6"/>
<rect x="58.5" y="422.3" width="0.7" height="0.7" fill="#8a90e4" opacity="0.6"/>
<rect x="53.6" y="427.0" width="0.7" height="0.7" fill="#8a90e4" opacity="0.6"/>
<rect x="60.0" y="427.6" width="0.7" height="0.7" fill="#8a90e4" opacity="0.6"/>
<rect x="52.6" y="430.3" width="0.7" height="0.7" fill="#8a90e4" opacity="0.6"/>
<rect x="54.7" y="425.4" width="0.7" height="0.7" fill="#8a90e4" opacity="0.6"/>
<rect x="59.1" y="432.4" width="0.7" height="0.7" fill="#8a90e4" opacity="0.6"/>
<rect x="51.4" y="417.8" width="0.7" height="0.7" fill="#8a90e4" opacity="0.6"/>
<rect x="59.1" y="424.3" width="0.7" height="0.7" fill="#8a90e4" opacity="0.6"/>
<rect x="55.0" y="409.6" width="0.7" height="0.7" fill="#8a90e4" opacity="0.6"/>
<rect x="57.1" y="421.4" width="0.7" height="0.7" fill="#8a90e4" opacity="0.6"/>
<rect x="48.7" y="433.7" width="0.7" height="0.7" fill="#8a90e4" opacity="0.6"/>
<rect x="49.0" y="419.8" width="0.7" height="0.7" fill="#8a90e4" opacity="0.6"/>
<rect x="55.8" y="423.2" width="0.7" height="0.7" fill="#8a90e4" opacity="0.6"/>
<rect x="57.9" y="421.0" width="0.7" height="0.7" fill="#8a90e4" opacity="0.6"/>
<rect x="53.4" y="420.6" width="0.7" height="0.7" fill="#8a90e4" opacity="0.6"/>
<rect x="50.1" y="417.3" width="0.7" height="0.7" fill="#8a90e4" opacity="0.6"/>
<rect x="61.3" y="419.2" width="0.7" height="0.7" fill="#8a90e4" opacity="0.6"/>
<rect x="55.6" y="430.3" width="0.7" height="0.7" fill="#8a90e4" opacity="0.6"/>
<rect x="58.7" y="422.7" width="0.7" height="0.7" fill="#8a90e4" opacity="0.6"/>
<rect x="57.9" y="421.0" width="0.7" height="0.7" fill="#8a90e4" opacity="0.6"/>
<rect x="53.4" y="426.5" width="0.7" height="0.7" fill="#8a90e4" opacity="0.6"/>
<rect x="56.2" y="429.0" width="0.7" height="0.7" fill="#8a90e4" opacity="0.6"/>
<rect x="55.1" y="420.5" width="0.7" height="0.7" fill="#8a90e4" opacity="0.6"/>
<rect x="56.8" y="421.3" width="0.7" height="0.7" fill="#8a90e4" opacity="0.6"/>
<rect x="55.0" y="418.3" width="0.7" height="0.7" fill="#8a90e4" opacity="0.6"/>
<rect x="56.5" y="423.5" width="0.7" height="0.7" fill="#8a90e4" opacity="0.6"/>
<rect x="60.9" y="422.0" width="0.7" height="0.7" fill="#8a90e4" opacity="0.6"/>
<rect x="131.6" y="407.6" width="0.8" height="0.8" fill="#5b5edc"/>
<rect x="150.8" y="398.8" width="0.8" height="0.8" fill="#5b5edc"/>
<rect x="146.8" y="400.4" width="0.8" height="0.8" fill="#5b5edc"/>
<rect x="113.2" y="409.2" width="0.8" height="0.8" fill="#5b5edc"/>
<rect x="110.8" y="401.2" width="0.8" height="0.8" fill="#5b5edc"/>
<rect x="143.6" y="404.4" width="0.8" height="0.8" fill="#5b5edc"/>
<rect x="144.4" y="403.6" width="0.8" height="0.8" fill="#5b5edc"/>
<rect x="135.6" y="406.8" width="0.8" height="0.8" fill="#5b5edc"/>
<rect x="153.2" y="401.2" width="0.8" height="0.8" fill="#5b5edc"/>
<rect x="146.8" y="402.0" width="0.8" height="0.8" fill="#5b5edc"/>
<rect x="134.8" y="405.2" width="0.8" height="0.8" fill="#5b5edc"/>
<rect x="126.8" y="409.2" width="0.8" height="0.8" fill="#5b5edc"/>
<rect x="146.8" y="404.4" width="0.8" height="0.8" fill="#5b5edc"/>
<rect x="117.2" y="406.8" width="0.8" height="0.8" fill="#5b5edc"/>
<rect x="116.4" y="402.8" width="0.8" height="0.8" fill="#5b5edc"/>
<rect x="146.0" y="394.0" width="0.8" height="0.8" fill="#5b5edc"/>
<rect x="119.6" y="403.6" width="0.8" height="0.8" fill="#5b5edc"/>
<rect x="118.0" y="402.8" width="0.8" height="0.8" fill="#5b5edc"/>
<rect x="120.4" y="413.2" width="0.8" height="0.8" fill="#5b5edc"/>
<rect x="125.2" y="396.4" width="0.8" height="0.8" fill="#5b5edc"/>
<rect x="136.4" y="406.0" width="0.8" height="0.8" fill="#5b5edc"/>
<rect x="127.6" y="407.6" width="0.8" height="0.8" fill="#5b5edc"/>
<rect x="138.0" y="395.6" width="0.8" height="0.8" fill="#5b5edc"/>
<rect x="136.4" y="407.6" width="0.8" height="0.8" fill="#5b5edc"/>
<rect x="123.6" y="407.6" width="0.8" height="0.8" fill="#5b5edc"/>
<rect x="110.0" y="406.8" width="0.8" height="0.8" fill="#5b5edc"/>
<rect x="125.2" y="398.0" width="0.8" height="0.8" fill="#5b5edc"/>
<rect x="119.6" y="404.4" width="0.8" height="0.8" fill="#5b5edc"/>
<rect x="150.0" y="400.4" width="0.8" height="0.8" fill="#5b5edc"/>
<rect x="121.2" y="397.2" width="0.8" height="0.8" fill="#5b5edc"/>
<rect x="136.4" y="392.4" width="0.8" height="0.8" fill="#5b5edc"/>
<rect x="115.6" y="406.0" width="0.8" height="0.8" fill="#5b5edc"/>
<rect x="114.8" y="402.0" width="0.8" height="0.8" fill="#5b5edc"/>
<rect x="118.0" y="399.6" width="0.8" height="0.8" fill="#5b5edc"/>
<rect x="107.6" y="406.8" width="0.8" height="0.8" fill="#5b5edc"/>
<rect x="139.6" y="395.6" width="0.8" height="0.8" fill="#5b5edc"/>
<rect x="119.6" y="396.4" width="0.8" height="0.8" fill="#5b5edc"/>
<rect x="110.0" y="404.4" width="0.8" height="0.8" fill="#5b5edc"/>
<rect x="123.6" y="397.2" width="0.8" height="0.8" fill="#5b5edc"/>
<rect x="138.0" y="394.8" width="0.8" height="0.8" fill="#5b5edc"/>
<rect x="152.4" y="402.0" width="0.8" height="0.8" fill="#5b5edc"/>
<rect x="113.2" y="402.8" width="0.8" height="0.8" fill="#5b5edc"/>
<rect x="116.4" y="401.2" width="0.8" height="0.8" fill="#5b5edc"/>
<rect x="118.0" y="406.0" width="0.8" height="0.8" fill="#5b5edc"/>
<rect x="124.4" y="397.2" width="0.8" height="0.8" fill="#5b5edc"/>
<rect x="118.0" y="409.2" width="0.8" height="0.8" fill="#5b5edc"/>
<rect x="122.8" y="398.0" width="0.8" height="0.8" fill="#5b5edc"/>
<rect x="122.0" y="406.0" width="0.8" height="0.8" fill="#5b5edc"/>
<rect x="116.4" y="404.4" width="0.8" height="0.8" fill="#5b5edc"/>
<rect x="147.6" y="396.4" width="0.8" height="0.8" fill="#5b5edc"/>
<rect x="137.2" y="395.6" width="0.8" height="0.8" fill="#5b5edc"/>
<rect x="146.0" y="395.6" width="0.8" height="0.8" fill="#5b5edc"/>
<rect x="131.6" y="406.8" width="0.8" height="0.8" fill="#5b5edc"/>
<rect x="117.2" y="405.2" width="0.8" height="0.8" fill="#5b5edc"/>
<rect x="122.0" y="406.8" width="0.8" height="0.8" fill="#5b5edc"/>
<rect x="122.0" y="399.6" width="0.8" height="0.8" fill="#5b5edc"/>
<rect x="118.8" y="398.0" width="0.8" height="0.8" fill="#5b5edc"/>
<rect x="151.6" y="394.8" width="0.8" height="0.8" fill="#5b5edc"/>
<rect x="137.2" y="405.2" width="0.8" height="0.8" fill="#5b5edc"/>
<rect x="106.0" y="407.6" width="0.8" height="0.8" fill="#5b5edc"/>
<rect x="111.6" y="409.2" width="0.8" height="0.8" fill="#5b5edc"/>
<rect x="144.4" y="405.2" width="0.8" height="0.8" fill="#5b5edc"/>
<rect x="118.8" y="406.8" width="0.8" height="0.8" fill="#5b5edc"/>
<rect x="145.2" y="403.6" width="0.8" height="0.8" fill="#5b5edc"/>
<rect x="110.0" y="401.2" width="0.8" height="0.8" fill="#5b5edc"/>
<rect x="124.4" y="398.8" width="0.8" height="0.8" fill="#5b5edc"/>
<rect x="132.4" y="407.6" width="0.8" height="0.8" fill="#5b5edc"/>
<rect x="138.0" y="406.8" width="0.8" height="0.8" fill="#5b5edc"/>
<rect x="130.8" y="395.6" width="0.8" height="0.8" fill="#5b5edc"/>
<rect x="148.4" y="402.8" width="0.8" height="0.8" fill="#5b5edc"/>
<rect x="117.2" y="406.0" width="0.8" height="0.8" fill="#5b5edc"/>
<rect x="133.2" y="406.0" width="0.8" height="0.8" fill="#5b5edc"/>
<rect x="129.2" y="396.4" width="0.8" height="0.8" fill="#5b5edc"/>
<rect x="121.2" y="405.2" width="0.8" height="0.8" fill="#5b5edc"/>
<rect x="120.4" y="407.6" width="0.8" height="0.8" fill="#5b5edc"/>
<rect x="130.0" y="409.2" width="0.8" height="0.8" fill="#5b5edc"/>
<rect x="110.8" y="407.6" width="0.8" height="0.8" fill="#5b5edc"/>
<rect x="127.6" y="395.6" width="0.8" height="0.8" fill="#5b5edc"/>
<rect x="149.2" y="402.8" width="0.8" height="0.8" fill="#5b5edc"/>
<rect x="134.0" y="395.6" width="0.8" height="0.8" fill="#5b5edc"/>
<rect x="116.4" y="402.0" width="0.8" height="0.8" fill="#5b5edc"/>
<rect x="113.2" y="406.8" width="0.8" height="0.8" fill="#5b5edc"/>
<rect x="117.2" y="398.8" width="0.8" height="0.8" fill="#5b5edc"/>
<rect x="126.0" y="409.2" width="0.8" height="0.8" fill="#5b5edc"/>
<rect x="122.8" y="406.0" width="0.8" height="0.8" fill="#5b5edc"/>
<rect x="148.4" y="398.8" width="0.8" height="0.8" fill="#5b5edc"/>
<rect x="118.8" y="401.2" width="0.8" height="0.8" fill="#5b5edc"/>
<rect x="121.2" y="400.4" width="0.8" height="0.8" fill="#5b5edc"/>
<rect x="121.2" y="406.8" width="0.8" height="0.8" fill="#5b5edc"/>
<rect x="147.6" y="403.6" width="0.8" height="0.8" fill="#5b5edc"/>
<rect x="114.0" y="406.0" width="0.8" height="0.8" fill="#5b5edc"/>
<rect x="149.2" y="394.8" width="0.8" height="0.8" fill="#5b5edc"/>
<rect x="134.8" y="396.4" width="0.8" height="0.8" fill="#5b5edc"/>
<rect x="106.8" y="400.4" width="0.8" height="0.8" fill="#5b5edc"/>
<rect x="131.6" y="405.2" width="0.8" height="0.8" fill="#5b5edc"/>
<rect x="135.6" y="394.8" width="0.8" height="0.8" fill="#5b5edc"/>
<rect x="122.0" y="405.2" width="0.8" height="0.8" fill="#5b5edc"/>
<rect x="133.2" y="396.4" width="0.8" height="0.8" fill="#5b5edc"/>
<rect x="146.0" y="402.8" width="0.8" height="0.8" fill="#5b5edc"/>
<rect x="141.2" y="394.8" width="0.8" height="0.8" fill="#5b5edc"/>
<rect x="118.0" y="405.2" width="0.8" height="0.8" fill="#5b5edc"/>
<rect x="128.4" y="395.6" width="0.8" height="0.8" fill="#5b5edc"/>
<rect x="118.8" y="406.0" width="0.8" height="0.8" fill="#5b5edc"/>
<rect x="117.2" y="409.2" width="0.8" height="0.8" fill="#5b5edc"/>
<rect x="146.0" y="401.2" width="0.8" height="0.8" fill="#5b5edc"/>
<rect x="139.6" y="393.2" width="0.8" height="0.8" fill="#5b5edc"/>
<rect x="134.0" y="407.6" width="0.8" height="0.8" fill="#5b5edc"/>
<rect x="121.2" y="404.4" width="0.8" height="0.8" fill="#5b5edc"/>
<rect x="142.8" y="403.6" width="0.8" height="0.8" fill="#5b5edc"/>
<rect x="133.2" y="408.4" width="0.8" height="0.8" fill="#5b5edc"/>
<rect x="118.0" y="406.8" width="0.8" height="0.8" fill="#5b5edc"/>
<rect x="146.8" y="398.0" width="0.8" height="0.8" fill="#5b5edc"/>
<rect x="122.0" y="407.6" width="0.8" height="0.8" fill="#5b5edc"/>
<rect x="131.6" y="394.0" width="0.8" height="0.8" fill="#5b5edc"/>
<rect x="147.6" y="401.2" width="0.8" height="0.8" fill="#5b5edc"/>
<rect x="116.4" y="403.6" width="0.8" height="0.8" fill="#5b5edc"/>
<rect x="122.0" y="410.0" width="0.8" height="0.8" fill="#5b5edc"/>
<rect x="119.6" y="407.6" width="0.8" height="0.8" fill="#5b5edc"/>
<rect x="120.4" y="406.8" width="0.8" height="0.8" fill="#5b5edc"/>
<rect x="144.4" y="395.6" width="0.8" height="0.8" fill="#5b5edc"/>
<rect x="143.6" y="407.6" width="0.8" height="0.8" fill="#5b5edc"/>
<rect x="142.8" y="394.8" width="0.8" height="0.8" fill="#5b5edc"/>
<rect x="114.0" y="402.0" width="0.8" height="0.8" fill="#5b5edc"/>
<rect x="144.4" y="406.8" width="0.8" height="0.8" fill="#5b5edc"/>
<rect x="132.4" y="408.4" width="0.8" height="0.8" fill="#5b5edc"/>
<rect x="150.0" y="399.6" width="0.8" height="0.8" fill="#5b5edc"/>
<rect x="143.6" y="394.0" width="0.8" height="0.8" fill="#5b5edc"/>
<rect x="147.6" y="399.6" width="0.8" height="0.8" fill="#5b5edc"/>
<rect x="143.6" y="403.6" width="0.8" height="0.8" fill="#5b5edc"/>
<rect x="117.2" y="402.0" width="0.8" height="0.8" fill="#5b5edc"/>
<rect x="126.0" y="399.6" width="0.8" height="0.8" fill="#5b5edc"/>
<rect x="139.6" y="396.4" width="0.8" height="0.8" fill="#5b5edc"/>
<rect x="122.8" y="408.4" width="0.8" height="0.8" fill="#5b5edc"/>
<rect x="149.2" y="398.8" width="0.8" height="0.8" fill="#5b5edc"/>
<rect x="120.4" y="400.4" width="0.8" height="0.8" fill="#5b5edc"/>
<rect x="114.8" y="405.2" width="0.8" height="0.8" fill="#5b5edc"/>
<rect x="144.4" y="402.8" width="0.8" height="0.8" fill="#5b5edc"/>
<rect x="123.6" y="398.0" width="0.8" height="0.8" fill="#5b5edc"/>
<rect x="118.0" y="407.6" width="0.8" height="0.8" fill="#5b5edc"/>
<rect x="151.6" y="398.8" width="0.8" height="0.8" fill="#5b5edc"/>
<rect x="139.6" y="394.8" width="0.8" height="0.8" fill="#5b5edc"/>
<rect x="140.4" y="394.0" width="0.8" height="0.8" fill="#5b5edc"/>
<rect x="149.2" y="398.0" width="0.8" height="0.8" fill="#5b5edc"/>
<rect x="111.6" y="403.6" width="0.8" height="0.8" fill="#5b5edc"/>
<rect x="141.2" y="397.2" width="0.8" height="0.8" fill="#5b5edc"/>
<rect x="116.4" y="400.4" width="0.8" height="0.8" fill="#5b5edc"/>
<rect x="137.2" y="406.8" width="0.8" height="0.8" fill="#5b5edc"/>
<rect x="117.2" y="401.2" width="0.8" height="0.8" fill="#5b5edc"/>
<rect x="110.8" y="405.2" width="0.8" height="0.8" fill="#5b5edc"/>
<rect x="119.6" y="408.4" width="0.8" height="0.8" fill="#5b5edc"/>
<rect x="118.8" y="405.2" width="0.8" height="0.8" fill="#5b5edc"/>
<rect x="140.4" y="394.8" width="0.8" height="0.8" fill="#5b5edc"/>
<rect x="145.2" y="405.2" width="0.8" height="0.8" fill="#5b5edc"/>
<rect x="120.4" y="398.8" width="0.8" height="0.8" fill="#5b5edc"/>
<rect x="134.0" y="406.8" width="0.8" height="0.8" fill="#5b5edc"/>
<rect x="114.0" y="391.6" width="0.8" height="0.8" fill="#5b5edc"/>
<rect x="126.0" y="408.4" width="0.8" height="0.8" fill="#5b5edc"/>
<rect x="141.2" y="395.6" width="0.8" height="0.8" fill="#5b5edc"/>
<rect x="123.6" y="399.6" width="0.8" height="0.8" fill="#5b5edc"/>
<rect x="149.2" y="396.4" width="0.8" height="0.8" fill="#5b5edc"/>
<rect x="128.4" y="410.0" width="0.8" height="0.8" fill="#5b5edc"/>
<rect x="145.2" y="395.6" width="0.8" height="0.8" fill="#5b5edc"/>
<rect x="120.4" y="402.0" width="0.8" height="0.8" fill="#5b5edc"/>
<rect x="146.8" y="403.6" width="0.8" height="0.8" fill="#5b5edc"/>
<rect x="147.6" y="398.0" width="0.8" height="0.8" fill="#5b5edc"/>
<rect x="122.0" y="404.4" width="0.8" height="0.8" fill="#5b5edc"/>
<rect x="143.6" y="395.6" width="0.8" height="0.8" fill="#5b5edc"/>
<rect x="114.8" y="403.6" width="0.8" height="0.8" fill="#5b5edc"/>
<rect x="124.4" y="407.6" width="0.8" height="0.8" fill="#5b5edc"/>
<rect x="146.0" y="404.4" width="0.8" height="0.8" fill="#5b5edc"/>
<rect x="133.2" y="406.8" width="0.8" height="0.8" fill="#5b5edc"/>
<rect x="136.4" y="405.2" width="0.8" height="0.8" fill="#5b5edc"/>
<rect x="150.8" y="399.6" width="0.8" height="0.8" fill="#5b5edc"/>
<rect x="150.0" y="398.0" width="0.8" height="0.8" fill="#5b5edc"/>
<rect x="118.0" y="398.8" width="0.8" height="0.8" fill="#5b5edc"/>
<rect x="138.8" y="406.8" width="0.8" height="0.8" fill="#5b5edc"/>
<rect x="133.2" y="394.0" width="0.8" height="0.8" fill="#3b49cd"/>
<rect x="119.6" y="399.6" width="0.8" height="0.8" fill="#3b49cd"/>
<rect x="141.2" y="405.2" width="0.8" height="0.8" fill="#3b49cd"/>
<rect x="133.2" y="405.2" width="0.8" height="0.8" fill="#3b49cd"/>
<rect x="136.4" y="395.6" width="0.8" height="0.8" fill="#3b49cd"/>
<rect x="149.2" y="400.4" width="0.8" height="0.8" fill="#3b49cd"/>
<rect x="117.2" y="404.4" width="0.8" height="0.8" fill="#3b49cd"/>
<rect x="138.8" y="405.2" width="0.8" height="0.8" fill="#3b49cd"/>
<rect x="123.6" y="406.8" width="0.8" height="0.8" fill="#3b49cd"/>
<rect x="142.8" y="397.2" width="0.8" height="0.8" fill="#3b49cd"/>
<rect x="125.2" y="406.8" width="0.8" height="0.8" fill="#3b49cd"/>
<rect x="121.2" y="402.8" width="0.8" height="0.8" fill="#3b49cd"/>
<rect x="114.0" y="403.6" width="0.8" height="0.8" fill="#3b49cd"/>
<rect x="121.2" y="398.8" width="0.8" height="0.8" fill="#3b49cd"/>
<rect x="148.4" y="395.6" width="0.8" height="0.8" fill="#3b49cd"/>
<rect x="134.0" y="398.0" width="0.8" height="0.8" fill="#3b49cd"/>
<rect x="118.8" y="403.6" width="0.8" height="0.8" fill="#3b49cd"/>
<rect x="130.8" y="407.6" width="0.8" height="0.8" fill="#3b49cd"/>
<rect x="140.4" y="405.2" width="0.8" height="0.8" fill="#3b49cd"/>
<rect x="120.4" y="402.8" width="0.8" height="0.8" fill="#3b49cd"/>
<rect x="125.2" y="406.0" width="0.8" height="0.8" fill="#3b49cd"/>
<rect x="106.8" y="402.8" width="0.8" height="0.8" fill="#3b49cd"/>
<rect x="113.2" y="404.4" width="0.8" height="0.8" fill="#3b49cd"/>
<rect x="125.2" y="397.2" width="0.8" height="0.8" fill="#3b49cd"/>
<rect x="145.2" y="402.0" width="0.8" height="0.8" fill="#3b49cd"/>
<rect x="138.8" y="395.6" width="0.8" height="0.8" fill="#3b49cd"/>
<rect x="137.2" y="394.8" width="0.8" height="0.8" fill="#3b49cd"/>
<rect x="122.8" y="407.6" width="0.8" height="0.8" fill="#3b49cd"/>
<rect x="146.8" y="396.4" width="0.8" height="0.8" fill="#3b49cd"/>
<rect x="118.0" y="402.0" width="0.8" height="0.8" fill="#3b49cd"/>
<rect x="149.2" y="399.6" width="0.8" height="0.8" fill="#3b49cd"/>
<rect x="118.0" y="408.4" width="0.8" height="0.8" fill="#3b49cd"/>
<rect x="129.2" y="406.8" width="0.8" height="0.8" fill="#3b49cd"/>
<rect x="145.2" y="401.2" width="0.8" height="0.8" fill="#3b49cd"/>
<rect x="146.0" y="398.8" width="0.8" height="0.8" fill="#3b49cd"/>
<rect x="143.6" y="394.8" width="0.8" height="0.8" fill="#3b49cd"/>
<rect x="148.4" y="398.0" width="0.8" height="0.8" fill="#3b49cd"/>
<rect x="124.4" y="406.8" width="0.8" height="0.8" fill="#3b49cd"/>
<rect x="143.6" y="398.8" width="0.8" height="0.8" fill="#3b49cd"/>
<rect x="146.8" y="401.2" width="0.8" height="0.8" fill="#3b49cd"/>
<rect x="146.0" y="402.0" width="0.8" height="0.8" fill="#3b49cd"/>
<rect x="131.6" y="397.2" width="0.8" height="0.8" fill="#3b49cd"/>
<rect x="138.8" y="397.2" width="0.8" height="0.8" fill="#3b49cd"/>
<rect x="120.4" y="401.2" width="0.8" height="0.8" fill="#3b49cd"/>
<rect x="126.8" y="397.2" width="0.8" height="0.8" fill="#3b49cd"/>
<rect x="142.8" y="404.4" width="0.8" height="0.8" fill="#3b49cd"/>
<rect x="135.6" y="396.4" width="0.8" height="0.8" fill="#3b49cd"/>
<rect x="123.6" y="401.2" width="0.8" height="0.8" fill="#3b49cd"/>
<rect x="146.0" y="400.4" width="0.8" height="0.8" fill="#3b49cd"/>
<rect x="132.4" y="406.8" width="0.8" height="0.8" fill="#3b49cd"/>
<rect x="146.8" y="399.6" width="0.8" height="0.8" fill="#3b49cd"/>
<rect x="124.4" y="408.4" width="0.8" height="0.8" fill="#3b49cd"/>
<rect x="129.2" y="397.2" width="0.8" height="0.8" fill="#3b49cd"/>
<rect x="130.8" y="408.4" width="0.8" height="0.8" fill="#3b49cd"/>
<rect x="139.6" y="404.4" width="0.8" height="0.8" fill="#3b49cd"/>
<rect x="133.2" y="395.6" width="0.8" height="0.8" fill="#3b49cd"/>
<rect x="141.2" y="404.4" width="0.8" height="0.8" fill="#3b49cd"/>
<rect x="110.8" y="404.4" width="0.8" height="0.8" fill="#3b49cd"/>
<rect x="123.6" y="408.4" width="0.8" height="0.8" fill="#3b49cd"/>
<rect x="140.4" y="406.0" width="0.8" height="0.8" fill="#3b49cd"/>
<rect x="130.8" y="397.2" width="0.8" height="0.8" fill="#3b49cd"/>
<rect x="122.8" y="401.2" width="0.8" height="0.8" fill="#3b49cd"/>
<rect x="126.0" y="407.6" width="0.8" height="0.8" fill="#3b49cd"/>
<rect x="126.0" y="406.8" width="0.8" height="0.8" fill="#3b49cd"/>
<rect x="138.0" y="396.4" width="0.8" height="0.8" fill="#3b49cd"/>
<rect x="119.6" y="402.0" width="0.8" height="0.8" fill="#3b49cd"/>
<rect x="121.2" y="406.0" width="0.8" height="0.8" fill="#3b49cd"/>
<rect x="142.0" y="404.4" width="0.8" height="0.8" fill="#3b49cd"/>
<rect x="123.6" y="406.0" width="0.8" height="0.8" fill="#3b49cd"/>
<rect x="119.6" y="402.8" width="0.8" height="0.8" fill="#3b49cd"/>
<rect x="136.4" y="394.8" width="0.8" height="0.8" fill="#3b49cd"/>
<rect x="125.2" y="407.6" width="0.8" height="0.8" fill="#3b49cd"/>
<rect x="140.4" y="396.4" width="0.8" height="0.8" fill="#2e4ec4"/>
<rect x="142.8" y="395.6" width="0.8" height="0.8" fill="#2e4ec4"/>
<rect x="124.4" y="398.0" width="0.8" height="0.8" fill="#2e4ec4"/>
<rect x="125.2" y="405.2" width="0.8" height="0.8" fill="#2e4ec4"/>
<rect x="144.4" y="401.2" width="0.8" height="0.8" fill="#2e4ec4"/>
<rect x="122.0" y="400.4" width="0.8" height="0.8" fill="#2e4ec4"/>
<rect x="140.4" y="403.6" width="0.8" height="0.8" fill="#2e4ec4"/>
<rect x="135.6" y="395.6" width="0.8" height="0.8" fill="#2e4ec4"/>
<rect x="128.4" y="406.0" width="0.8" height="0.8" fill="#2e4ec4"/>
<rect x="136.4" y="398.0" width="0.8" height="0.8" fill="#2e4ec4"/>
<rect x="142.8" y="405.2" width="0.8" height="0.8" fill="#2e4ec4"/>
<rect x="134.0" y="406.0" width="0.8" height="0.8" fill="#2e4ec4"/>
<rect x="127.6" y="406.8" width="0.8" height="0.8" fill="#2e4ec4"/>
<rect x="130.0" y="406.0" width="0.8" height="0.8" fill="#2e4ec4"/>
<rect x="132.4" y="397.2" width="0.8" height="0.8" fill="#2e4ec4"/>
<rect x="143.6" y="402.0" width="0.8" height="0.8" fill="#2e4ec4"/>
<rect x="121.2" y="399.6" width="0.8" height="0.8" fill="#2e4ec4"/>
<rect x="140.4" y="395.6" width="0.8" height="0.8" fill="#2e4ec4"/>
<rect x="143.6" y="399.6" width="0.8" height="0.8" fill="#2e4ec4"/>
<rect x="126.8" y="406.8" width="0.8" height="0.8" fill="#2e4ec4"/>
<rect x="142.0" y="396.4" width="0.8" height="0.8" fill="#2e4ec4"/>
<rect x="145.2" y="396.4" width="0.8" height="0.8" fill="#2e4ec4"/>
<rect x="134.0" y="405.2" width="0.8" height="0.8" fill="#2e4ec4"/>
<rect x="138.8" y="396.4" width="0.8" height="0.8" fill="#2e4ec4"/>
<rect x="124.4" y="405.2" width="0.8" height="0.8" fill="#2e4ec4"/>
<rect x="138.0" y="404.4" width="0.8" height="0.8" fill="#2e4ec4"/>
<rect x="144.4" y="399.6" width="0.8" height="0.8" fill="#2e4ec4"/>
<rect x="137.2" y="406.0" width="0.8" height="0.8" fill="#2e4ec4"/>
<rect x="144.4" y="398.0" width="0.8" height="0.8" fill="#2e4ec4"/>
<rect x="134.8" y="397.2" width="0.8" height="0.8" fill="#2e4ec4"/>
<rect x="125.2" y="398.8" width="0.8" height="0.8" fill="#2e4ec4"/>
<rect x="147.6" y="400.4" width="0.8" height="0.8" fill="#2e4ec4"/>
<rect x="145.2" y="399.6" width="0.8" height="0.8" fill="#2e4ec4"/>
<rect x="139.6" y="405.2" width="0.8" height="0.8" fill="#2e4ec4"/>
<rect x="122.0" y="401.2" width="0.8" height="0.8" fill="#2e4ec4"/>
<rect x="126.8" y="405.2" width="0.8" height="0.8" fill="#2e4ec4"/>
<rect x="131.6" y="396.4" width="0.8" height="0.8" fill="#2e4ec4"/>
<rect x="134.8" y="406.0" width="0.8" height="0.8" fill="#2e4ec4"/>
<rect x="122.8" y="404.4" width="0.8" height="0.8" fill="#2e4ec4"/>
<rect x="146.8" y="397.2" width="0.8" height="0.8" fill="#2e4ec4"/>
<rect x="128.4" y="397.2" width="0.8" height="0.8" fill="#2e4ec4"/>
<rect x="130.8" y="406.8" width="0.8" height="0.8" fill="#2e4ec4"/>
<rect x="134.8" y="395.6" width="0.8" height="0.8" fill="#2e4ec4"/>
<rect x="122.8" y="402.8" width="0.8" height="0.8" fill="#2e4ec4"/>
<rect x="146.0" y="398.0" width="0.8" height="0.8" fill="#2e4ec4"/>
<rect x="120.4" y="403.6" width="0.8" height="0.8" fill="#2e4ec4"/>
<rect x="142.0" y="395.6" width="0.8" height="0.8" fill="#2452bd"/>
<rect x="123.6" y="398.8" width="0.8" height="0.8" fill="#2452bd"/>
<rect x="126.8" y="398.0" width="0.8" height="0.8" fill="#2452bd"/>
<rect x="142.8" y="396.4" width="0.8" height="0.8" fill="#2452bd"/>
<rect x="130.8" y="406.0" width="0.8" height="0.8" fill="#2452bd"/>
<rect x="137.2" y="396.4" width="0.8" height="0.8" fill="#2452bd"/>
<rect x="135.6" y="397.2" width="0.8" height="0.8" fill="#2452bd"/>
<rect x="123.6" y="402.0" width="0.8" height="0.8" fill="#2452bd"/>
<rect x="129.2" y="407.6" width="0.8" height="0.8" fill="#2452bd"/>
<rect x="142.8" y="402.0" width="0.8" height="0.8" fill="#2452bd"/>
<rect x="140.4" y="404.4" width="0.8" height="0.8" fill="#2452bd"/>
<rect x="145.2" y="398.0" width="0.8" height="0.8" fill="#2452bd"/>
<rect x="121.2" y="403.6" width="0.8" height="0.8" fill="#2452bd"/>
<rect x="126.0" y="406.0" width="0.8" height="0.8" fill="#2452bd"/>
<rect x="122.8" y="399.6" width="0.8" height="0.8" fill="#2452bd"/>
<rect x="141.2" y="403.6" width="0.8" height="0.8" fill="#2452bd"/>
<rect x="122.8" y="400.4" width="0.8" height="0.8" fill="#2452bd"/>
<rect x="145.2" y="402.8" width="0.8" height="0.8" fill="#2452bd"/>
<rect x="145.2" y="398.8" width="0.8" height="0.8" fill="#2452bd"/>
<rect x="146.0" y="399.6" width="0.8" height="0.8" fill="#2452bd"/>
<rect x="144.4" y="397.2" width="0.8" height="0.8" fill="#2452bd"/>
<rect x="138.8" y="404.4" width="0.8" height="0.8" fill="#2452bd"/>
<rect x="127.6" y="398.8" width="0.8" height="0.8" fill="#2452bd"/>
<rect x="122.8" y="405.2" width="0.8" height="0.8" fill="#2452bd"/>
<rect x="127.6" y="398.0" width="0.8" height="0.8" fill="#2452bd"/>
<rect x="135.6" y="406.0" width="0.8" height="0.8" fill="#2452bd"/>
<rect x="145.2" y="400.4" width="0.8" height="0.8" fill="#2452bd"/>
<rect x="130.0" y="396.4" width="0.8" height="0.8" fill="#2452bd"/>
<rect x="143.6" y="397.2" width="0.8" height="0.8" fill="#2452bd"/>
<rect x="137.2" y="397.2" width="0.8" height="0.8" fill="#2452bd"/>
<rect x="129.2" y="405.2" width="0.8" height="0.8" fill="#2452bd"/>
<rect x="128.4" y="406.8" width="0.8" height="0.8" fill="#2452bd"/>
<rect x="145.2" y="397.2" width="0.8" height="0.8" fill="#2452bd"/>
<rect x="140.4" y="397.2" width="0.8" height="0.8" fill="#2452bd"/>
<rect x="120.4" y="404.4" width="0.8" height="0.8" fill="#2452bd"/>
<rect x="138.8" y="403.6" width="0.8" height="0.8" fill="#2452bd"/>
<rect x="127.6" y="397.2" width="0.8" height="0.8" fill="#2452bd"/>
<rect x="136.4" y="396.4" width="0.8" height="0.8" fill="#2452bd"/>
<rect x="142.8" y="402.8" width="0.8" height="0.8" fill="#2452bd"/>
<rect x="139.6" y="397.2" width="0.8" height="0.8" fill="#2452bd"/>
<rect x="124.4" y="403.6" width="0.8" height="0.8" fill="#1d57b7"/>
<rect x="129.2" y="406.0" width="0.8" height="0.8" fill="#1d57b7"/>
<rect x="142.0" y="397.2" width="0.8" height="0.8" fill="#1d57b7"/>
<rect x="127.6" y="406.0" width="0.8" height="0.8" fill="#1d57b7"/>
<rect x="122.8" y="402.0" width="0.8" height="0.8" fill="#1d57b7"/>
<rect x="135.6" y="404.4" width="0.8" height="0.8" fill="#1d57b7"/>
<rect x="141.2" y="399.6" width="0.8" height="0.8" fill="#1d57b7"/>
<rect x="126.8" y="407.6" width="0.8" height="0.8" fill="#1d57b7"/>
<rect x="142.0" y="400.4" width="0.8" height="0.8" fill="#1d57b7"/>
<rect x="136.4" y="397.2" width="0.8" height="0.8" fill="#1d57b7"/>
<rect x="122.0" y="402.0" width="0.8" height="0.8" fill="#1d57b7"/>
<rect x="142.0" y="401.2" width="0.8" height="0.8" fill="#1d57b7"/>
<rect x="143.6" y="402.8" width="0.8" height="0.8" fill="#1d57b7"/>
<rect x="132.4" y="403.6" width="0.8" height="0.8" fill="#1d57b7"/>
<rect x="121.2" y="401.2" width="0.8" height="0.8" fill="#1d57b7"/>
<rect x="122.0" y="403.6" width="0.8" height="0.8" fill="#1d57b7"/>
<rect x="124.4" y="406.0" width="0.8" height="0.8" fill="#1d57b7"/>
<rect x="138.0" y="405.2" width="0.8" height="0.8" fill="#1d57b7"/>
<rect x="138.0" y="397.2" width="0.8" height="0.8" fill="#1d57b7"/>
<rect x="142.0" y="403.6" width="0.8" height="0.8" fill="#1d57b7"/>
<rect x="140.4" y="398.0" width="0.8" height="0.8" fill="#1d57b7"/>
<rect x="121.2" y="402.0" width="0.8" height="0.8" fill="#1d57b7"/>
<rect x="130.8" y="398.0" width="0.8" height="0.8" fill="#1d57b7"/>
<rect x="133.2" y="397.2" width="0.8" height="0.8" fill="#1d57b7"/>
<rect x="141.2" y="396.4" width="0.8" height="0.8" fill="#1d57b7"/>
<rect x="141.2" y="398.8" width="0.8" height="0.8" fill="#1d57b7"/>
<rect x="134.0" y="397.2" width="0.8" height="0.8" fill="#1d57b7"/>
<rect x="132.4" y="406.0" width="0.8" height="0.8" fill="#1d57b7"/>
<rect x="139.6" y="398.0" width="0.8" height="0.8" fill="#1962b2"/>
<rect x="132.4" y="398.0" width="0.8" height="0.8" fill="#1962b2"/>
<rect x="138.0" y="403.6" width="0.8" height="0.8" fill="#1962b2"/>
<rect x="126.0" y="400.4" width="0.8" height="0.8" fill="#1962b2"/>
<rect x="137.2" y="404.4" width="0.8" height="0.8" fill="#1962b2"/>
<rect x="141.2" y="402.8" width="0.8" height="0.8" fill="#1962b2"/>
<rect x="124.4" y="402.8" width="0.8" height="0.8" fill="#1962b2"/>
<rect x="124.4" y="399.6" width="0.8" height="0.8" fill="#1962b2"/>
<rect x="142.8" y="398.0" width="0.8" height="0.8" fill="#1962b2"/>
<rect x="126.0" y="398.8" width="0.8" height="0.8" fill="#1962b2"/>
<rect x="134.8" y="398.0" width="0.8" height="0.8" fill="#1962b2"/>
<rect x="122.0" y="402.8" width="0.8" height="0.8" fill="#1962b2"/>
<rect x="123.6" y="405.2" width="0.8" height="0.8" fill="#1962b2"/>
<rect x="141.2" y="402.0" width="0.8" height="0.8" fill="#1962b2"/>
<rect x="144.4" y="398.8" width="0.8" height="0.8" fill="#1962b2"/>
<rect x="128.4" y="398.8" width="0.8" height="0.8" fill="#1962b2"/>
<rect x="128.4" y="398.0" width="0.8" height="0.8" fill="#1962b2"/>
<rect x="134.0" y="396.4" width="0.8" height="0.8" fill="#1962b2"/>
<rect x="123.6" y="404.4" width="0.8" height="0.8" fill="#1962b2"/>
<rect x="125.2" y="404.4" width="0.8" height="0.8" fill="#1962b2"/>
<rect x="138.0" y="398.0" width="0.8" height="0.8" fill="#1962b2"/>
<rect x="125.2" y="399.6" width="0.8" height="0.8" fill="#1962b2"/>
<rect x="126.8" y="406.0" width="0.8" height="0.8" fill="#1962b2"/>
<rect x="142.8" y="401.2" width="0.8" height="0.8" fill="#1962b2"/>
<rect x="137.2" y="403.6" width="0.8" height="0.8" fill="#1962b2"/>
<rect x="143.6" y="398.0" width="0.8" height="0.8" fill="#1962b2"/>
<rect x="129.2" y="398.0" width="0.8" height="0.8" fill="#1962b2"/>
<rect x="135.6" y="405.2" width="0.8" height="0.8" fill="#166bae"/>
<rect x="142.0" y="398.0" width="0.8" height="0.8" fill="#166bae"/>
<rect x="126.8" y="399.6" width="0.8" height="0.8" fill="#166bae"/>
<rect x="133.2" y="398.0" width="0.8" height="0.8" fill="#166bae"/>
<rect x="144.4" y="402.0" width="0.8" height="0.8" fill="#166bae"/>
<rect x="143.6" y="400.4" width="0.8" height="0.8" fill="#166bae"/>
<rect x="132.4" y="405.2" width="0.8" height="0.8" fill="#166bae"/>
<rect x="136.4" y="404.4" width="0.8" height="0.8" fill="#166bae"/>
<rect x="137.2" y="398.8" width="0.8" height="0.8" fill="#166bae"/>
<rect x="126.8" y="398.8" width="0.8" height="0.8" fill="#166bae"/>
<rect x="134.0" y="404.4" width="0.8" height="0.8" fill="#166bae"/>
<rect x="142.0" y="402.0" width="0.8" height="0.8" fill="#166bae"/>
<rect x="122.8" y="403.6" width="0.8" height="0.8" fill="#166bae"/>
<rect x="134.8" y="404.4" width="0.8" height="0.8" fill="#166bae"/>
<rect x="130.0" y="405.2" width="0.8" height="0.8" fill="#166bae"/>
<rect x="141.2" y="401.2" width="0.8" height="0.8" fill="#166bae"/>
<rect x="142.8" y="400.4" width="0.8" height="0.8" fill="#1374ab"/>
<rect x="124.4" y="400.4" width="0.8" height="0.8" fill="#1374ab"/>
<rect x="142.8" y="398.8" width="0.8" height="0.8" fill="#1374ab"/>
<rect x="137.2" y="398.0" width="0.8" height="0.8" fill="#1374ab"/>
<rect x="123.6" y="400.4" width="0.8" height="0.8" fill="#1374ab"/>
<rect x="142.0" y="398.8" width="0.8" height="0.8" fill="#1374ab"/>
<rect x="128.4" y="404.4" width="0.8" height="0.8" fill="#1374ab"/>
<rect x="139.6" y="402.0" width="0.8" height="0.8" fill="#1374ab"/>
<rect x="127.6" y="405.2" width="0.8" height="0.8" fill="#1374ab"/>
<rect x="138.8" y="399.6" width="0.8" height="0.8" fill="#1374ab"/>
<rect x="124.4" y="401.2" width="0.8" height="0.8" fill="#1374ab"/>
<rect x="138.8" y="400.4" width="0.8" height="0.8" fill="#1374ab"/>
<rect x="131.6" y="398.8" width="0.8" height="0.8" fill="#1374ab"/>
<rect x="136.4" y="399.6" width="0.8" height="0.8" fill="#1374ab"/>
<rect x="124.4" y="404.4" width="0.8" height="0.8" fill="#117ba7"/>
<rect x="138.8" y="398.8" width="0.8" height="0.8" fill="#117ba7"/>
<rect x="123.6" y="402.8" width="0.8" height="0.8" fill="#117ba7"/>
<rect x="131.6" y="399.6" width="0.8" height="0.8" fill="#117ba7"/>
<rect x="131.6" y="406.0" width="0.8" height="0.8" fill="#117ba7"/>
<rect x="125.2" y="400.4" width="0.8" height="0.8" fill="#117ba7"/>
<rect x="142.8" y="399.6" width="0.8" height="0.8" fill="#117ba7"/>
<rect x="133.2" y="398.8" width="0.8" height="0.8" fill="#117ba7"/>
<rect x="123.6" y="403.6" width="0.8" height="0.8" fill="#117ba7"/>
<rect x="144.4" y="400.4" width="0.8" height="0.8" fill="#117ba7"/>
<rect x="143.6" y="401.2" width="0.8" height="0.8" fill="#117ba7"/>
<rect x="132.4" y="404.4" width="0.8" height="0.8" fill="#117ba7"/>
<rect x="142.0" y="402.8" width="0.8" height="0.8" fill="#117ba7"/>
<rect x="135.6" y="398.0" width="0.8" height="0.8" fill="#117ba7"/>
<rect x="128.4" y="405.2" width="0.8" height="0.8" fill="#117ba7"/>
<rect x="134.8" y="402.0" width="0.8" height="0.8" fill="#0f82a4"/>
<rect x="139.6" y="398.8" width="0.8" height="0.8" fill="#0f82a4"/>
<rect x="141.2" y="398.0" width="0.8" height="0.8" fill="#0f82a4"/>
<rect x="139.6" y="401.2" width="0.8" height="0.8" fill="#0f82a4"/>
<rect x="134.0" y="398.8" width="0.8" height="0.8" fill="#0f82a4"/>
<rect x="125.2" y="401.2" width="0.8" height="0.8" fill="#0f82a4"/>
<rect x="134.0" y="403.6" width="0.8" height="0.8" fill="#0f82a4"/>
<rect x="130.8" y="398.8" width="0.8" height="0.8" fill="#0f82a4"/>
<rect x="126.0" y="401.2" width="0.8" height="0.8" fill="#0f82a4"/>
<rect x="130.0" y="398.0" width="0.8" height="0.8" fill="#0f82a4"/>
<rect x="127.6" y="402.8" width="0.8" height="0.8" fill="#0f82a4"/>
<rect x="125.2" y="402.0" width="0.8" height="0.8" fill="#0f82a4"/>
<rect x="130.0" y="398.8" width="0.8" height="0.8" fill="#0f82a4"/>
<rect x="136.4" y="403.6" width="0.8" height="0.8" fill="#12879d"/>
<rect x="138.0" y="398.8" width="0.8" height="0.8" fill="#12879d"/>
<rect x="131.6" y="402.0" width="0.8" height="0.8" fill="#12879d"/>
<rect x="136.4" y="402.0" width="0.8" height="0.8" fill="#12879d"/>
<rect x="138.0" y="402.8" width="0.8" height="0.8" fill="#12879d"/>
<rect x="130.0" y="404.4" width="0.8" height="0.8" fill="#12879d"/>
<rect x="126.8" y="403.6" width="0.8" height="0.8" fill="#12879d"/>
<rect x="140.4" y="398.8" width="0.8" height="0.8" fill="#12879d"/>
<rect x="134.0" y="399.6" width="0.8" height="0.8" fill="#12879d"/>
<rect x="140.4" y="400.4" width="0.8" height="0.8" fill="#12879d"/>
<rect x="138.0" y="402.0" width="0.8" height="0.8" fill="#12879d"/>
<rect x="126.0" y="402.0" width="0.8" height="0.8" fill="#12879d"/>
<rect x="126.0" y="405.2" width="0.8" height="0.8" fill="#12879d"/>
<rect x="141.2" y="400.4" width="0.8" height="0.8" fill="#12879d"/>
<rect x="131.6" y="398.0" width="0.8" height="0.8" fill="#12879d"/>
<rect x="137.2" y="402.8" width="0.8" height="0.8" fill="#12879d"/>
<rect x="135.6" y="402.8" width="0.8" height="0.8" fill="#12879d"/>
<rect x="139.6" y="403.6" width="0.8" height="0.8" fill="#12879d"/>
<rect x="138.0" y="399.6" width="0.8" height="0.8" fill="#148c96"/>
<rect x="134.8" y="398.8" width="0.8" height="0.8" fill="#148c96"/>
<rect x="126.8" y="404.4" width="0.8" height="0.8" fill="#148c96"/>
<rect x="126.0" y="403.6" width="0.8" height="0.8" fill="#148c96"/>
<rect x="138.8" y="398.0" width="0.8" height="0.8" fill="#148c96"/>
<rect x="135.6" y="403.6" width="0.8" height="0.8" fill="#148c96"/>
<rect x="138.8" y="402.0" width="0.8" height="0.8" fill="#148c96"/>
<rect x="140.4" y="402.8" width="0.8" height="0.8" fill="#148c96"/>
<rect x="139.6" y="402.8" width="0.8" height="0.8" fill="#148c96"/>
<rect x="125.2" y="403.6" width="0.8" height="0.8" fill="#148c96"/>
<rect x="140.4" y="401.2" width="0.8" height="0.8" fill="#148c96"/>
<rect x="140.4" y="402.0" width="0.8" height="0.8" fill="#148c96"/>
<rect x="126.8" y="400.4" width="0.8" height="0.8" fill="#148c96"/>
<rect x="134.8" y="402.8" width="0.8" height="0.8" fill="#148c96"/>
<rect x="124.4" y="402.0" width="0.8" height="0.8" fill="#148c96"/>
<rect x="132.4" y="399.6" width="0.8" height="0.8" fill="#17908f"/>
<rect x="134.8" y="403.6" width="0.8" height="0.8" fill="#17908f"/>
<rect x="138.8" y="402.8" width="0.8" height="0.8" fill="#17908f"/>
<rect x="135.6" y="398.8" width="0.8" height="0.8" fill="#17908f"/>
<rect x="127.6" y="402.0" width="0.8" height="0.8" fill="#17908f"/>
<rect x="140.4" y="399.6" width="0.8" height="0.8" fill="#17908f"/>
<rect x="127.6" y="404.4" width="0.8" height="0.8" fill="#17908f"/>
<rect x="133.2" y="404.4" width="0.8" height="0.8" fill="#17908f"/>
<rect x="129.2" y="399.6" width="0.8" height="0.8" fill="#17908f"/>
<rect x="136.4" y="402.8" width="0.8" height="0.8" fill="#17908f"/>
<rect x="126.8" y="401.2" width="0.8" height="0.8" fill="#199589"/>
<rect x="126.0" y="404.4" width="0.8" height="0.8" fill="#199589"/>
<rect x="137.2" y="401.2" width="0.8" height="0.8" fill="#199589"/>
<rect x="129.2" y="398.8" width="0.8" height="0.8" fill="#199589"/>
<rect x="131.6" y="404.4" width="0.8" height="0.8" fill="#199589"/>
<rect x="128.4" y="401.2" width="0.8" height="0.8" fill="#199589"/>
<rect x="131.6" y="403.6" width="0.8" height="0.8" fill="#199589"/>
<rect x="130.8" y="400.4" width="0.8" height="0.8" fill="#199589"/>
<rect x="134.0" y="402.8" width="0.8" height="0.8" fill="#199589"/>
<rect x="130.8" y="401.2" width="0.8" height="0.8" fill="#199589"/>
<rect x="135.6" y="400.4" width="0.8" height="0.8" fill="#199589"/>
<rect x="138.0" y="401.2" width="0.8" height="0.8" fill="#199589"/>
<rect x="127.6" y="399.6" width="0.8" height="0.8" fill="#199589"/>
<rect x="135.6" y="402.0" width="0.8" height="0.8" fill="#1c9983"/>
<rect x="133.2" y="399.6" width="0.8" height="0.8" fill="#1c9983"/>
<rect x="126.8" y="402.8" width="0.8" height="0.8" fill="#1c9983"/>
<rect x="129.2" y="404.4" width="0.8" height="0.8" fill="#1c9983"/>
<rect x="137.2" y="402.0" width="0.8" height="0.8" fill="#1c9983"/>
<rect x="137.2" y="400.4" width="0.8" height="0.8" fill="#1c9983"/>
<rect x="136.4" y="398.8" width="0.8" height="0.8" fill="#1c9983"/>
<rect x="125.2" y="402.8" width="0.8" height="0.8" fill="#1c9983"/>
<rect x="128.4" y="403.6" width="0.8" height="0.8" fill="#1e9c7e"/>
<rect x="132.4" y="398.8" width="0.8" height="0.8" fill="#1e9c7e"/>
<rect x="139.6" y="400.4" width="0.8" height="0.8" fill="#1e9c7e"/>
<rect x="130.0" y="403.6" width="0.8" height="0.8" fill="#1e9c7e"/>
<rect x="139.6" y="399.6" width="0.8" height="0.8" fill="#1e9c7e"/>
<rect x="130.8" y="405.2" width="0.8" height="0.8" fill="#20a079"/>
<rect x="134.0" y="402.0" width="0.8" height="0.8" fill="#20a079"/>
<rect x="134.8" y="400.4" width="0.8" height="0.8" fill="#20a079"/>
<rect x="133.2" y="402.8" width="0.8" height="0.8" fill="#20a079"/>
<rect x="127.6" y="400.4" width="0.8" height="0.8" fill="#20a079"/>
<rect x="131.6" y="401.2" width="0.8" height="0.8" fill="#20a079"/>
<rect x="128.4" y="402.8" width="0.8" height="0.8" fill="#22a374"/>
<rect x="130.0" y="399.6" width="0.8" height="0.8" fill="#22a374"/>
<rect x="130.8" y="403.6" width="0.8" height="0.8" fill="#22a374"/>
<rect x="132.4" y="400.4" width="0.8" height="0.8" fill="#22a374"/>
<rect x="130.8" y="402.8" width="0.8" height="0.8" fill="#22a374"/>
<rect x="136.4" y="400.4" width="0.8" height="0.8" fill="#29a76e"/>
<rect x="130.8" y="404.4" width="0.8" height="0.8" fill="#29a76e"/>
<rect x="138.8" y="401.2" width="0.8" height="0.8" fill="#29a76e"/>
<rect x="127.6" y="401.2" width="0.8" height="0.8" fill="#29a76e"/>
<rect x="126.8" y="402.0" width="0.8" height="0.8" fill="#34ab68"/>
<rect x="133.2" y="403.6" width="0.8" height="0.8" fill="#34ab68"/>
<rect x="137.2" y="399.6" width="0.8" height="0.8" fill="#34ab68"/>
<rect x="126.0" y="402.8" width="0.8" height="0.8" fill="#34ab68"/>
<rect x="130.0" y="402.8" width="0.8" height="0.8" fill="#34ab68"/>
<rect x="142.0" y="399.6" width="0.8" height="0.8" fill="#34ab68"/>
<rect x="127.6" y="403.6" width="0.8" height="0.8" fill="#34ab68"/>
<rect x="130.8" y="399.6" width="0.8" height="0.8" fill="#34ab68"/>
<rect x="133.2" y="400.4" width="0.8" height="0.8" fill="#34ab68"/>
<rect x="129.2" y="400.4" width="0.8" height="0.8" fill="#3dae63"/>
<rect x="138.0" y="400.4" width="0.8" height="0.8" fill="#3dae63"/>
<rect x="135.6" y="399.6" width="0.8" height="0.8" fill="#3dae63"/>
<rect x="135.6" y="401.2" width="0.8" height="0.8" fill="#3dae63"/>
<rect x="134.8" y="399.6" width="0.8" height="0.8" fill="#3dae63"/>
<rect x="128.4" y="399.6" width="0.8" height="0.8" fill="#3dae63"/>
<rect x="134.8" y="401.2" width="0.8" height="0.8" fill="#3dae63"/>
<rect x="133.2" y="402.0" width="0.8" height="0.8" fill="#47b15d"/>
<rect x="128.4" y="400.4" width="0.8" height="0.8" fill="#47b15d"/>
<rect x="131.6" y="400.4" width="0.8" height="0.8" fill="#50b458"/>
<rect x="132.4" y="401.2" width="0.8" height="0.8" fill="#50b458"/>
<rect x="134.0" y="401.2" width="0.8" height="0.8" fill="#50b458"/>
<rect x="129.2" y="403.6" width="0.8" height="0.8" fill="#50b458"/>
<rect x="136.4" y="401.2" width="0.8" height="0.8" fill="#50b458"/>
<rect x="132.4" y="402.8" width="0.8" height="0.8" fill="#50b458"/>
<rect x="134.0" y="400.4" width="0.8" height="0.8" fill="#50b458"/>
<rect x="130.0" y="401.2" width="0.8" height="0.8" fill="#50b458"/>
<rect x="128.4" y="402.0" width="0.8" height="0.8" fill="#58b753"/>
<rect x="129.2" y="402.0" width="0.8" height="0.8" fill="#60ba4e"/>
<rect x="131.6" y="402.8" width="0.8" height="0.8" fill="#60ba4e"/>
<rect x="132.4" y="402.0" width="0.8" height="0.8" fill="#68bd49"/>
<rect x="130.0" y="400.4" width="0.8" height="0.8" fill="#70c045"/>
<rect x="130.0" y="402.0" width="0.8" height="0.8" fill="#88c63e"/>
<rect x="130.8" y="402.0" width="0.8" height="0.8" fill="#88c63e"/>
<rect x="133.2" y="401.2" width="0.8" height="0.8" fill="#88c63e"/>
<rect x="129.2" y="402.8" width="0.8" height="0.8" fill="#88c63e"/>
<rect x="129.2" y="401.2" width="0.8" height="0.8" fill="#e1dc32"/>
<rect x="130.1" y="425.3" width="0.7" height="0.7" fill="#8a90e4" opacity="0.6"/>
<rect x="130.6" y="422.4" width="0.7" height="0.7" fill="#8a90e4" opacity="0.6"/>
<rect x="131.9" y="423.6" width="0.7" height="0.7" fill="#8a90e4" opacity="0.6"/>
<rect x="125.3" y="420.4" width="0.7" height="0.7" fill="#8a90e4" opacity="0.6"/>
<rect x="133.4" y="415.4" width="0.7" height="0.7" fill="#8a90e4" opacity="0.6"/>
<rect x="134.2" y="423.4" width="0.7" height="0.7" fill="#8a90e4" opacity="0.6"/>
<rect x="129.9" y="428.6" width="0.7" height="0.7" fill="#8a90e4" opacity="0.6"/>
<rect x="129.8" y="420.6" width="0.7" height="0.7" fill="#8a90e4" opacity="0.6"/>
<rect x="122.9" y="420.0" width="0.7" height="0.7" fill="#8a90e4" opacity="0.6"/>
<rect x="125.8" y="426.0" width="0.7" height="0.7" fill="#8a90e4" opacity="0.6"/>
<rect x="129.4" y="418.5" width="0.7" height="0.7" fill="#8a90e4" opacity="0.6"/>
<rect x="132.5" y="426.9" width="0.7" height="0.7" fill="#8a90e4" opacity="0.6"/>
<rect x="135.5" y="424.1" width="0.7" height="0.7" fill="#8a90e4" opacity="0.6"/>
<rect x="125.6" y="423.3" width="0.7" height="0.7" fill="#8a90e4" opacity="0.6"/>
<rect x="131.3" y="426.9" width="0.7" height="0.7" fill="#8a90e4" opacity="0.6"/>
<rect x="125.4" y="425.0" width="0.7" height="0.7" fill="#8a90e4" opacity="0.6"/>
<rect x="131.1" y="424.6" width="0.7" height="0.7" fill="#8a90e4" opacity="0.6"/>
<rect x="124.5" y="420.7" width="0.7" height="0.7" fill="#8a90e4" opacity="0.6"/>
<rect x="128.8" y="421.8" width="0.7" height="0.7" fill="#8a90e4" opacity="0.6"/>
<rect x="131.8" y="421.0" width="0.7" height="0.7" fill="#8a90e4" opacity="0.6"/>
<rect x="123.9" y="413.0" width="0.7" height="0.7" fill="#8a90e4" opacity="0.6"/>
<rect x="130.5" y="419.1" width="0.7" height="0.7" fill="#8a90e4" opacity="0.6"/>
<rect x="129.0" y="427.9" width="0.7" height="0.7" fill="#8a90e4" opacity="0.6"/>
<rect x="127.6" y="422.6" width="0.7" height="0.7" fill="#8a90e4" opacity="0.6"/>
<rect x="125.0" y="417.2" width="0.7" height="0.7" fill="#8a90e4" opacity="0.6"/>
<rect x="130.8" y="428.1" width="0.7" height="0.7" fill="#8a90e4" opacity="0.6"/>
<rect x="127.3" y="421.9" width="0.7" height="0.7" fill="#8a90e4" opacity="0.6"/>
<rect x="130.1" y="420.8" width="0.7" height="0.7" fill="#8a90e4" opacity="0.6"/>
<rect x="129.4" y="421.0" width="0.7" height="0.7" fill="#8a90e4" opacity="0.6"/>
<rect x="130.9" y="420.4" width="0.7" height="0.7" fill="#8a90e4" opacity="0.6"/>
<rect x="127.8" y="416.5" width="0.7" height="0.7" fill="#8a90e4" opacity="0.6"/>
<rect x="126.9" y="415.9" width="0.7" height="0.7" fill="#8a90e4" opacity="0.6"/>
<rect x="128.8" y="427.4" width="0.7" height="0.7" fill="#8a90e4" opacity="0.6"/>
<rect x="125.5" y="418.8" width="0.7" height="0.7" fill="#8a90e4" opacity="0.6"/>
<rect x="126.9" y="424.9" width="0.7" height="0.7" fill="#8a90e4" opacity="0.6"/>
<rect x="128.3" y="421.3" width="0.7" height="0.7" fill="#8a90e4" opacity="0.6"/>
<rect x="126.4" y="421.5" width="0.7" height="0.7" fill="#8a90e4" opacity="0.6"/>
<rect x="128.1" y="419.1" width="0.7" height="0.7" fill="#8a90e4" opacity="0.6"/>
<rect x="133.2" y="425.0" width="0.7" height="0.7" fill="#8a90e4" opacity="0.6"/>
<rect x="128.7" y="424.2" width="0.7" height="0.7" fill="#8a90e4" opacity="0.6"/>
<rect x="135.7" y="425.6" width="0.7" height="0.7" fill="#8a90e4" opacity="0.6"/>
<rect x="127.6" y="422.6" width="0.7" height="0.7" fill="#8a90e4" opacity="0.6"/>
<rect x="132.4" y="424.8" width="0.7" height="0.7" fill="#8a90e4" opacity="0.6"/>
<rect x="128.4" y="423.2" width="0.7" height="0.7" fill="#8a90e4" opacity="0.6"/>
<rect x="125.9" y="421.3" width="0.7" height="0.7" fill="#8a90e4" opacity="0.6"/>
<rect x="59.6" y="475.6" width="0.8" height="0.8" fill="#5d5fdc"/>
<rect x="41.2" y="482.8" width="0.8" height="0.8" fill="#5d5fdc"/>
<rect x="42.8" y="478.8" width="0.8" height="0.8" fill="#5d5fdc"/>
<rect x="45.2" y="482.0" width="0.8" height="0.8" fill="#5d5fdc"/>
<rect x="51.6" y="486.0" width="0.8" height="0.8" fill="#5d5fdc"/>
<rect x="53.2" y="475.6" width="0.8" height="0.8" fill="#5d5fdc"/>
<rect x="68.4" y="476.4" width="0.8" height="0.8" fill="#5d5fdc"/>
<rect x="40.4" y="486.8" width="0.8" height="0.8" fill="#5d5fdc"/>
<rect x="46.8" y="485.2" width="0.8" height="0.8" fill="#5d5fdc"/>
<rect x="52.4" y="476.4" width="0.8" height="0.8" fill="#5d5fdc"/>
<rect x="38.0" y="487.6" width="0.8" height="0.8" fill="#5d5fdc"/>
<rect x="57.2" y="476.4" width="0.8" height="0.8" fill="#5d5fdc"/>
<rect x="49.2" y="477.2" width="0.8" height="0.8" fill="#5d5fdc"/>
<rect x="64.4" y="475.6" width="0.8" height="0.8" fill="#5d5fdc"/>
<rect x="66.8" y="479.6" width="0.8" height="0.8" fill="#5d5fdc"/>
<rect x="61.2" y="484.4" width="0.8" height="0.8" fill="#5d5fdc"/>
<rect x="58.8" y="475.6" width="0.8" height="0.8" fill="#5d5fdc"/>
<rect x="46.0" y="486.0" width="0.8" height="0.8" fill="#5d5fdc"/>
<rect x="68.4" y="478.0" width="0.8" height="0.8" fill="#5d5fdc"/>
<rect x="59.6" y="483.6" width="0.8" height="0.8" fill="#5d5fdc"/>
<rect x="49.2" y="484.4" width="0.8" height="0.8" fill="#5d5fdc"/>
<rect x="59.6" y="476.4" width="0.8" height="0.8" fill="#5d5fdc"/>
<rect x="41.2" y="486.8" width="0.8" height="0.8" fill="#5d5fdc"/>
<rect x="66.8" y="482.8" width="0.8" height="0.8" fill="#5d5fdc"/>
<rect x="71.6" y="478.0" width="0.8" height="0.8" fill="#5d5fdc"/>
<rect x="42.0" y="480.4" width="0.8" height="0.8" fill="#5d5fdc"/>
<rect x="69.2" y="481.2" width="0.8" height="0.8" fill="#5d5fdc"/>
<rect x="42.0" y="478.8" width="0.8" height="0.8" fill="#5d5fdc"/>
<rect x="47.6" y="482.0" width="0.8" height="0.8" fill="#5d5fdc"/>
<rect x="42.8" y="487.6" width="0.8" height="0.8" fill="#5d5fdc"/>
<rect x="59.6" y="473.2" width="0.8" height="0.8" fill="#5d5fdc"/>
<rect x="69.2" y="480.4" width="0.8" height="0.8" fill="#5d5fdc"/>
<rect x="44.4" y="487.6" width="0.8" height="0.8" fill="#5d5fdc"/>
<rect x="66.0" y="483.6" width="0.8" height="0.8" fill="#5d5fdc"/>
<rect x="39.6" y="483.6" width="0.8" height="0.8" fill="#5d5fdc"/>
<rect x="35.6" y="487.6" width="0.8" height="0.8" fill="#5d5fdc"/>
<rect x="46.8" y="478.0" width="0.8" height="0.8" fill="#5d5fdc"/>
<rect x="65.2" y="475.6" width="0.8" height="0.8" fill="#5d5fdc"/>
<rect x="60.4" y="478.8" width="0.8" height="0.8" fill="#5d5fdc"/>
<rect x="39.6" y="485.2" width="0.8" height="0.8" fill="#5d5fdc"/>
<rect x="62.0" y="482.8" width="0.8" height="0.8" fill="#5d5fdc"/>
<rect x="48.4" y="478.0" width="0.8" height="0.8" fill="#5d5fdc"/>
<rect x="54.8" y="476.4" width="0.8" height="0.8" fill="#5d5fdc"/>
<rect x="59.6" y="486.0" width="0.8" height="0.8" fill="#5d5fdc"/>
<rect x="38.0" y="480.4" width="0.8" height="0.8" fill="#5d5fdc"/>
<rect x="60.4" y="484.4" width="0.8" height="0.8" fill="#5d5fdc"/>
<rect x="67.6" y="480.4" width="0.8" height="0.8" fill="#5d5fdc"/>
<rect x="50.8" y="485.2" width="0.8" height="0.8" fill="#5d5fdc"/>
<rect x="46.0" y="484.4" width="0.8" height="0.8" fill="#5d5fdc"/>
<rect x="60.4" y="483.6" width="0.8" height="0.8" fill="#5d5fdc"/>
<rect x="62.8" y="481.2" width="0.8" height="0.8" fill="#5d5fdc"/>
<rect x="42.8" y="481.2" width="0.8" height="0.8" fill="#5d5fdc"/>
<rect x="39.6" y="482.8" width="0.8" height="0.8" fill="#5d5fdc"/>
<rect x="48.4" y="476.4" width="0.8" height="0.8" fill="#5d5fdc"/>
<rect x="54.0" y="475.6" width="0.8" height="0.8" fill="#5d5fdc"/>
<rect x="50.8" y="487.6" width="0.8" height="0.8" fill="#5d5fdc"/>
<rect x="46.0" y="481.2" width="0.8" height="0.8" fill="#5d5fdc"/>
<rect x="55.6" y="488.4" width="0.8" height="0.8" fill="#5d5fdc"/>
<rect x="63.6" y="482.8" width="0.8" height="0.8" fill="#5d5fdc"/>
<rect x="46.8" y="478.8" width="0.8" height="0.8" fill="#5d5fdc"/>
<rect x="47.6" y="478.8" width="0.8" height="0.8" fill="#5d5fdc"/>
<rect x="53.2" y="474.8" width="0.8" height="0.8" fill="#5d5fdc"/>
<rect x="39.6" y="484.4" width="0.8" height="0.8" fill="#5d5fdc"/>
<rect x="58.0" y="484.4" width="0.8" height="0.8" fill="#5d5fdc"/>
<rect x="66.8" y="477.2" width="0.8" height="0.8" fill="#5d5fdc"/>
<rect x="50.0" y="486.0" width="0.8" height="0.8" fill="#5d5fdc"/>
<rect x="46.8" y="486.0" width="0.8" height="0.8" fill="#5d5fdc"/>
<rect x="45.2" y="477.2" width="0.8" height="0.8" fill="#5d5fdc"/>
<rect x="55.6" y="486.0" width="0.8" height="0.8" fill="#5d5fdc"/>
<rect x="55.6" y="474.8" width="0.8" height="0.8" fill="#5d5fdc"/>
<rect x="43.6" y="478.0" width="0.8" height="0.8" fill="#5d5fdc"/>
<rect x="63.6" y="479.6" width="0.8" height="0.8" fill="#5d5fdc"/>
<rect x="61.2" y="486.0" width="0.8" height="0.8" fill="#5d5fdc"/>
<rect x="70.0" y="480.4" width="0.8" height="0.8" fill="#5d5fdc"/>
<rect x="42.0" y="484.4" width="0.8" height="0.8" fill="#5d5fdc"/>
<rect x="41.2" y="485.2" width="0.8" height="0.8" fill="#5d5fdc"/>
<rect x="50.0" y="475.6" width="0.8" height="0.8" fill="#5d5fdc"/>
<rect x="47.6" y="486.0" width="0.8" height="0.8" fill="#5d5fdc"/>
<rect x="64.4" y="482.0" width="0.8" height="0.8" fill="#5d5fdc"/>
<rect x="40.4" y="480.4" width="0.8" height="0.8" fill="#5d5fdc"/>
<rect x="70.8" y="479.6" width="0.8" height="0.8" fill="#5d5fdc"/>
<rect x="45.2" y="485.2" width="0.8" height="0.8" fill="#5d5fdc"/>
<rect x="62.8" y="474.0" width="0.8" height="0.8" fill="#5d5fdc"/>
<rect x="64.4" y="482.8" width="0.8" height="0.8" fill="#5d5fdc"/>
<rect x="58.0" y="485.2" width="0.8" height="0.8" fill="#5d5fdc"/>
<rect x="66.8" y="483.6" width="0.8" height="0.8" fill="#5d5fdc"/>
<rect x="42.0" y="481.2" width="0.8" height="0.8" fill="#5d5fdc"/>
<rect x="42.8" y="483.6" width="0.8" height="0.8" fill="#5d5fdc"/>
<rect x="39.6" y="486.0" width="0.8" height="0.8" fill="#5d5fdc"/>
<rect x="67.6" y="477.2" width="0.8" height="0.8" fill="#5d5fdc"/>
<rect x="45.2" y="482.8" width="0.8" height="0.8" fill="#5d5fdc"/>
<rect x="65.2" y="482.0" width="0.8" height="0.8" fill="#5d5fdc"/>
<rect x="63.6" y="484.4" width="0.8" height="0.8" fill="#5d5fdc"/>
<rect x="68.4" y="474.8" width="0.8" height="0.8" fill="#5d5fdc"/>
<rect x="48.4" y="484.4" width="0.8" height="0.8" fill="#5d5fdc"/>
<rect x="46.0" y="480.4" width="0.8" height="0.8" fill="#5d5fdc"/>
<rect x="72.4" y="475.6" width="0.8" height="0.8" fill="#5d5fdc"/>
<rect x="70.0" y="476.4" width="0.8" height="0.8" fill="#5d5fdc"/>
<rect x="57.2" y="474.8" width="0.8" height="0.8" fill="#5d5fdc"/>
<rect x="69.2" y="474.8" width="0.8" height="0.8" fill="#5d5fdc"/>
<rect x="71.6" y="479.6" width="0.8" height="0.8" fill="#5d5fdc"/>
<rect x="41.2" y="479.6" width="0.8" height="0.8" fill="#5d5fdc"/>
<rect x="69.2" y="478.0" width="0.8" height="0.8" fill="#5d5fdc"/>
<rect x="44.4" y="482.0" width="0.8" height="0.8" fill="#5d5fdc"/>
<rect x="45.2" y="479.6" width="0.8" height="0.8" fill="#5d5fdc"/>
<rect x="66.8" y="482.0" width="0.8" height="0.8" fill="#5d5fdc"/>
<rect x="45.2" y="484.4" width="0.8" height="0.8" fill="#5d5fdc"/>
<rect x="71.6" y="476.4" width="0.8" height="0.8" fill="#5d5fdc"/>
<rect x="56.4" y="474.8" width="0.8" height="0.8" fill="#5d5fdc"/>
<rect x="44.4" y="483.6" width="0.8" height="0.8" fill="#3c48cf"/>
<rect x="53.2" y="477.2" width="0.8" height="0.8" fill="#3c48cf"/>
<rect x="59.6" y="484.4" width="0.8" height="0.8" fill="#3c48cf"/>
<rect x="50.8" y="484.4" width="0.8" height="0.8" fill="#3c48cf"/>
<rect x="43.6" y="483.6" width="0.8" height="0.8" fill="#3c48cf"/>
<rect x="45.2" y="481.2" width="0.8" height="0.8" fill="#3c48cf"/>
<rect x="50.0" y="477.2" width="0.8" height="0.8" fill="#3c48cf"/>
<rect x="69.2" y="479.6" width="0.8" height="0.8" fill="#3c48cf"/>
<rect x="38.0" y="488.4" width="0.8" height="0.8" fill="#3c48cf"/>
<rect x="45.2" y="483.6" width="0.8" height="0.8" fill="#3c48cf"/>
<rect x="47.6" y="478.0" width="0.8" height="0.8" fill="#3c48cf"/>
<rect x="56.4" y="486.0" width="0.8" height="0.8" fill="#3c48cf"/>
<rect x="66.0" y="480.4" width="0.8" height="0.8" fill="#3c48cf"/>
<rect x="65.2" y="476.4" width="0.8" height="0.8" fill="#3c48cf"/>
<rect x="66.0" y="478.8" width="0.8" height="0.8" fill="#3c48cf"/>
<rect x="60.4" y="475.6" width="0.8" height="0.8" fill="#3c48cf"/>
<rect x="46.8" y="484.4" width="0.8" height="0.8" fill="#3c48cf"/>
<rect x="65.2" y="477.2" width="0.8" height="0.8" fill="#3c48cf"/>
<rect x="46.8" y="482.8" width="0.8" height="0.8" fill="#3c48cf"/>
<rect x="60.4" y="477.2" width="0.8" height="0.8" fill="#3c48cf"/>
<rect x="52.4" y="486.0" width="0.8" height="0.8" fill="#3c48cf"/>
<rect x="60.4" y="478.0" width="0.8" height="0.8" fill="#3c48cf"/>
<rect x="46.8" y="482.0" width="0.8" height="0.8" fill="#3c48cf"/>
<rect x="63.6" y="475.6" width="0.8" height="0.8" fill="#3c48cf"/>
<rect x="46.0" y="478.8" width="0.8" height="0.8" fill="#3c48cf"/>
<rect x="66.8" y="478.0" width="0.8" height="0.8" fill="#3c48cf"/>
<rect x="53.2" y="485.2" width="0.8" height="0.8" fill="#3c48cf"/>
<rect x="63.6" y="482.0" width="0.8" height="0.8" fill="#3c48cf"/>
<rect x="62.8" y="475.6" width="0.8" height="0.8" fill="#3c48cf"/>
<rect x="54.0" y="477.2" width="0.8" height="0.8" fill="#3c48cf"/>
<rect x="67.6" y="478.8" width="0.8" height="0.8" fill="#3c48cf"/>
<rect x="64.4" y="477.2" width="0.8" height="0.8" fill="#3c48cf"/>
<rect x="43.6" y="482.8" width="0.8" height="0.8" fill="#3c48cf"/>
<rect x="62.8" y="476.4" width="0.8" height="0.8" fill="#3c48cf"/>
<rect x="46.8" y="479.6" width="0.8" height="0.8" fill="#3c48cf"/>
<rect x="54.0" y="485.2" width="0.8" height="0.8" fill="#3c48cf"/>
<rect x="67.6" y="479.6" width="0.8" height="0.8" fill="#3c48cf"/>
<rect x="54.0" y="476.4" width="0.8" height="0.8" fill="#3c48cf"/>
<rect x="52.4" y="485.2" width="0.8" height="0.8" fill="#3c48cf"/>
<rect x="47.6" y="480.4" width="0.8" height="0.8" fill="#304dc6"/>
<rect x="62.8" y="482.0" width="0.8" height="0.8" fill="#304dc6"/>
<rect x="48.4" y="485.2" width="0.8" height="0.8" fill="#304dc6"/>
<rect x="46.0" y="482.8" width="0.8" height="0.8" fill="#304dc6"/>
<rect x="55.6" y="485.2" width="0.8" height="0.8" fill="#304dc6"/>
<rect x="64.4" y="478.0" width="0.8" height="0.8" fill="#304dc6"/>
<rect x="48.4" y="482.8" width="0.8" height="0.8" fill="#304dc6"/>
<rect x="54.8" y="475.6" width="0.8" height="0.8" fill="#304dc6"/>
<rect x="57.2" y="484.4" width="0.8" height="0.8" fill="#304dc6"/>
<rect x="51.6" y="484.4" width="0.8" height="0.8" fill="#304dc6"/>
<rect x="54.8" y="485.2" width="0.8" height="0.8" fill="#304dc6"/>
<rect x="64.4" y="479.6" width="0.8" height="0.8" fill="#304dc6"/>
<rect x="62.0" y="477.2" width="0.8" height="0.8" fill="#304dc6"/>
<rect x="56.4" y="477.2" width="0.8" height="0.8" fill="#304dc6"/>
<rect x="52.4" y="484.4" width="0.8" height="0.8" fill="#304dc6"/>
<rect x="50.0" y="485.2" width="0.8" height="0.8" fill="#304dc6"/>
<rect x="62.8" y="480.4" width="0.8" height="0.8" fill="#304dc6"/>
<rect x="51.6" y="477.2" width="0.8" height="0.8" fill="#304dc6"/>
<rect x="65.2" y="478.0" width="0.8" height="0.8" fill="#304dc6"/>
<rect x="53.2" y="486.0" width="0.8" height="0.8" fill="#304dc6"/>
<rect x="57.2" y="483.6" width="0.8" height="0.8" fill="#304dc6"/>
<rect x="50.0" y="478.0" width="0.8" height="0.8" fill="#304dc6"/>
<rect x="61.2" y="483.6" width="0.8" height="0.8" fill="#304dc6"/>
<rect x="56.4" y="476.4" width="0.8" height="0.8" fill="#304dc6"/>
<rect x="58.0" y="476.4" width="0.8" height="0.8" fill="#304dc6"/>
<rect x="59.6" y="478.8" width="0.8" height="0.8" fill="#304dc6"/>
<rect x="64.4" y="481.2" width="0.8" height="0.8" fill="#304dc6"/>
<rect x="49.2" y="478.8" width="0.8" height="0.8" fill="#304dc6"/>
<rect x="47.6" y="479.6" width="0.8" height="0.8" fill="#304dc6"/>
<rect x="54.0" y="486.0" width="0.8" height="0.8" fill="#304dc6"/>
<rect x="58.0" y="475.6" width="0.8" height="0.8" fill="#304dc6"/>
<rect x="64.4" y="478.8" width="0.8" height="0.8" fill="#304dc6"/>
<rect x="66.0" y="475.6" width="0.8" height="0.8" fill="#304dc6"/>
<rect x="46.8" y="481.2" width="0.8" height="0.8" fill="#304dc6"/>
<rect x="56.4" y="485.2" width="0.8" height="0.8" fill="#304dc6"/>
<rect x="66.0" y="478.0" width="0.8" height="0.8" fill="#304dc6"/>
<rect x="60.4" y="476.4" width="0.8" height="0.8" fill="#304dc6"/>
<rect x="51.6" y="476.4" width="0.8" height="0.8" fill="#304dc6"/>
<rect x="58.8" y="484.4" width="0.8" height="0.8" fill="#2751bf"/>
<rect x="55.6" y="477.2" width="0.8" height="0.8" fill="#2751bf"/>
<rect x="68.4" y="477.2" width="0.8" height="0.8" fill="#2751bf"/>
<rect x="66.8" y="478.8" width="0.8" height="0.8" fill="#2751bf"/>
<rect x="50.8" y="478.8" width="0.8" height="0.8" fill="#2751bf"/>
<rect x="48.4" y="478.8" width="0.8" height="0.8" fill="#2751bf"/>
<rect x="63.6" y="477.2" width="0.8" height="0.8" fill="#2751bf"/>
<rect x="61.2" y="477.2" width="0.8" height="0.8" fill="#2751bf"/>
<rect x="50.0" y="479.6" width="0.8" height="0.8" fill="#2751bf"/>
<rect x="58.8" y="483.6" width="0.8" height="0.8" fill="#2751bf"/>
<rect x="53.2" y="476.4" width="0.8" height="0.8" fill="#2751bf"/>
<rect x="63.6" y="480.4" width="0.8" height="0.8" fill="#2751bf"/>
<rect x="45.2" y="480.4" width="0.8" height="0.8" fill="#2751bf"/>
<rect x="47.6" y="482.8" width="0.8" height="0.8" fill="#2751bf"/>
<rect x="46.0" y="482.0" width="0.8" height="0.8" fill="#2751bf"/>
<rect x="52.4" y="478.0" width="0.8" height="0.8" fill="#2751bf"/>
<rect x="62.8" y="479.6" width="0.8" height="0.8" fill="#2751bf"/>
<rect x="62.0" y="478.0" width="0.8" height="0.8" fill="#2751bf"/>
<rect x="49.2" y="478.0" width="0.8" height="0.8" fill="#2751bf"/>
<rect x="46.8" y="480.4" width="0.8" height="0.8" fill="#2751bf"/>
<rect x="65.2" y="480.4" width="0.8" height="0.8" fill="#2751bf"/>
<rect x="50.0" y="484.4" width="0.8" height="0.8" fill="#2751bf"/>
<rect x="65.2" y="479.6" width="0.8" height="0.8" fill="#2751bf"/>
<rect x="66.8" y="480.4" width="0.8" height="0.8" fill="#2751bf"/>
<rect x="49.2" y="485.2" width="0.8" height="0.8" fill="#2751bf"/>
<rect x="63.6" y="478.0" width="0.8" height="0.8" fill="#2751bf"/>
<rect x="65.2" y="478.8" width="0.8" height="0.8" fill="#2751bf"/>
<rect x="66.0" y="481.2" width="0.8" height="0.8" fill="#2751bf"/>
<rect x="59.6" y="478.0" width="0.8" height="0.8" fill="#2751bf"/>
<rect x="61.2" y="478.0" width="0.8" height="0.8" fill="#2751bf"/>
<rect x="58.0" y="477.2" width="0.8" height="0.8" fill="#2751bf"/>
<rect x="58.8" y="482.8" width="0.8" height="0.8" fill="#2751bf"/>
<rect x="62.8" y="482.8" width="0.8" height="0.8" fill="#2751bf"/>
<rect x="55.6" y="476.4" width="0.8" height="0.8" fill="#1f54b9"/>
<rect x="62.8" y="478.8" width="0.8" height="0.8" fill="#1f54b9"/>
<rect x="48.4" y="480.4" width="0.8" height="0.8" fill="#1f54b9"/>
<rect x="60.4" y="482.8" width="0.8" height="0.8" fill="#1f54b9"/>
<rect x="47.6" y="484.4" width="0.8" height="0.8" fill="#1f54b9"/>
<rect x="64.4" y="480.4" width="0.8" height="0.8" fill="#1f54b9"/>
<rect x="52.4" y="477.2" width="0.8" height="0.8" fill="#1f54b9"/>
<rect x="61.2" y="482.8" width="0.8" height="0.8" fill="#1f54b9"/>
<rect x="54.8" y="484.4" width="0.8" height="0.8" fill="#1f54b9"/>
<rect x="51.6" y="478.0" width="0.8" height="0.8" fill="#1f54b9"/>
<rect x="54.8" y="477.2" width="0.8" height="0.8" fill="#1f54b9"/>
<rect x="66.0" y="479.6" width="0.8" height="0.8" fill="#1f54b9"/>
<rect x="59.6" y="482.8" width="0.8" height="0.8" fill="#1f54b9"/>
<rect x="50.8" y="478.0" width="0.8" height="0.8" fill="#1f54b9"/>
<rect x="62.8" y="478.0" width="0.8" height="0.8" fill="#1f54b9"/>
<rect x="50.0" y="478.8" width="0.8" height="0.8" fill="#1f54b9"/>
<rect x="54.8" y="483.6" width="0.8" height="0.8" fill="#1f54b9"/>
<rect x="56.4" y="483.6" width="0.8" height="0.8" fill="#1f54b9"/>
<rect x="59.6" y="477.2" width="0.8" height="0.8" fill="#1f54b9"/>
<rect x="67.6" y="476.4" width="0.8" height="0.8" fill="#1f54b9"/>
<rect x="57.2" y="477.2" width="0.8" height="0.8" fill="#1f54b9"/>
<rect x="58.8" y="477.2" width="0.8" height="0.8" fill="#1b5db5"/>
<rect x="62.0" y="482.0" width="0.8" height="0.8" fill="#1b5db5"/>
<rect x="61.2" y="480.4" width="0.8" height="0.8" fill="#1b5db5"/>
<rect x="48.4" y="482.0" width="0.8" height="0.8" fill="#1b5db5"/>
<rect x="49.2" y="483.6" width="0.8" height="0.8" fill="#1b5db5"/>
<rect x="47.6" y="481.2" width="0.8" height="0.8" fill="#1b5db5"/>
<rect x="53.2" y="484.4" width="0.8" height="0.8" fill="#1b5db5"/>
<rect x="62.0" y="478.8" width="0.8" height="0.8" fill="#1b5db5"/>
<rect x="50.0" y="483.6" width="0.8" height="0.8" fill="#1b5db5"/>
<rect x="62.0" y="480.4" width="0.8" height="0.8" fill="#1b5db5"/>
<rect x="53.2" y="478.0" width="0.8" height="0.8" fill="#1b5db5"/>
<rect x="55.6" y="484.4" width="0.8" height="0.8" fill="#1b5db5"/>
<rect x="49.2" y="482.8" width="0.8" height="0.8" fill="#1b5db5"/>
<rect x="58.0" y="483.6" width="0.8" height="0.8" fill="#1b5db5"/>
<rect x="62.0" y="479.6" width="0.8" height="0.8" fill="#1b5db5"/>
<rect x="58.8" y="478.0" width="0.8" height="0.8" fill="#1b5db5"/>
<rect x="49.2" y="479.6" width="0.8" height="0.8" fill="#1b5db5"/>
<rect x="50.8" y="483.6" width="0.8" height="0.8" fill="#1866b1"/>
<rect x="48.4" y="479.6" width="0.8" height="0.8" fill="#1866b1"/>
<rect x="56.4" y="484.4" width="0.8" height="0.8" fill="#1866b1"/>
<rect x="47.6" y="485.2" width="0.8" height="0.8" fill="#1866b1"/>
<rect x="60.4" y="482.0" width="0.8" height="0.8" fill="#1866b1"/>
<rect x="57.2" y="478.0" width="0.8" height="0.8" fill="#1866b1"/>
<rect x="57.2" y="482.8" width="0.8" height="0.8" fill="#156ead"/>
<rect x="50.0" y="482.0" width="0.8" height="0.8" fill="#156ead"/>
<rect x="49.2" y="481.2" width="0.8" height="0.8" fill="#156ead"/>
<rect x="51.6" y="478.8" width="0.8" height="0.8" fill="#156ead"/>
<rect x="58.0" y="478.0" width="0.8" height="0.8" fill="#156ead"/>
<rect x="62.0" y="481.2" width="0.8" height="0.8" fill="#156ead"/>
<rect x="55.6" y="483.6" width="0.8" height="0.8" fill="#156ead"/>
<rect x="48.4" y="481.2" width="0.8" height="0.8" fill="#156ead"/>
<rect x="49.2" y="480.4" width="0.8" height="0.8" fill="#156ead"/>
<rect x="54.0" y="484.4" width="0.8" height="0.8" fill="#156ead"/>
<rect x="50.0" y="482.8" width="0.8" height="0.8" fill="#1375aa"/>
<rect x="50.0" y="481.2" width="0.8" height="0.8" fill="#1375aa"/>
<rect x="54.8" y="478.0" width="0.8" height="0.8" fill="#1375aa"/>
<rect x="52.4" y="478.8" width="0.8" height="0.8" fill="#1375aa"/>
<rect x="52.4" y="483.6" width="0.8" height="0.8" fill="#1375aa"/>
<rect x="60.4" y="480.4" width="0.8" height="0.8" fill="#1375aa"/>
<rect x="61.2" y="482.0" width="0.8" height="0.8" fill="#1375aa"/>
<rect x="55.6" y="482.0" width="0.8" height="0.8" fill="#1375aa"/>
<rect x="49.2" y="482.0" width="0.8" height="0.8" fill="#1375aa"/>
<rect x="58.0" y="478.8" width="0.8" height="0.8" fill="#1375aa"/>
<rect x="58.0" y="482.8" width="0.8" height="0.8" fill="#117ba7"/>
<rect x="58.0" y="482.0" width="0.8" height="0.8" fill="#117ba7"/>
<rect x="48.4" y="483.6" width="0.8" height="0.8" fill="#117ba7"/>
<rect x="59.6" y="482.0" width="0.8" height="0.8" fill="#117ba7"/>
<rect x="61.2" y="478.8" width="0.8" height="0.8" fill="#117ba7"/>
<rect x="59.6" y="480.4" width="0.8" height="0.8" fill="#117ba7"/>
<rect x="61.2" y="481.2" width="0.8" height="0.8" fill="#117ba7"/>
<rect x="59.6" y="479.6" width="0.8" height="0.8" fill="#0f81a5"/>
<rect x="58.8" y="482.0" width="0.8" height="0.8" fill="#0f81a5"/>
<rect x="50.8" y="482.0" width="0.8" height="0.8" fill="#0f81a5"/>
<rect x="61.2" y="479.6" width="0.8" height="0.8" fill="#0f81a5"/>
<rect x="56.4" y="482.8" width="0.8" height="0.8" fill="#11869f"/>
<rect x="60.4" y="481.2" width="0.8" height="0.8" fill="#11869f"/>
<rect x="60.4" y="479.6" width="0.8" height="0.8" fill="#11869f"/>
<rect x="59.6" y="481.2" width="0.8" height="0.8" fill="#138a98"/>
<rect x="54.8" y="482.8" width="0.8" height="0.8" fill="#138a98"/>
<rect x="54.0" y="483.6" width="0.8" height="0.8" fill="#138a98"/>
<rect x="50.8" y="481.2" width="0.8" height="0.8" fill="#138a98"/>
<rect x="56.4" y="478.8" width="0.8" height="0.8" fill="#138a98"/>
<rect x="53.2" y="478.8" width="0.8" height="0.8" fill="#138a98"/>
<rect x="51.6" y="479.6" width="0.8" height="0.8" fill="#168e93"/>
<rect x="50.8" y="480.4" width="0.8" height="0.8" fill="#168e93"/>
<rect x="56.4" y="478.0" width="0.8" height="0.8" fill="#168e93"/>
<rect x="54.0" y="479.6" width="0.8" height="0.8" fill="#18928d"/>
<rect x="58.8" y="478.8" width="0.8" height="0.8" fill="#18928d"/>
<rect x="56.4" y="479.6" width="0.8" height="0.8" fill="#18928d"/>
<rect x="55.6" y="478.0" width="0.8" height="0.8" fill="#18928d"/>
<rect x="50.0" y="480.4" width="0.8" height="0.8" fill="#18928d"/>
<rect x="58.8" y="481.2" width="0.8" height="0.8" fill="#18928d"/>
<rect x="51.6" y="483.6" width="0.8" height="0.8" fill="#18928d"/>
<rect x="57.2" y="478.8" width="0.8" height="0.8" fill="#1a9588"/>
<rect x="54.0" y="478.0" width="0.8" height="0.8" fill="#1a9588"/>
<rect x="56.4" y="482.0" width="0.8" height="0.8" fill="#1a9588"/>
<rect x="55.6" y="482.8" width="0.8" height="0.8" fill="#1a9588"/>
<rect x="58.0" y="481.2" width="0.8" height="0.8" fill="#1a9588"/>
<rect x="52.4" y="479.6" width="0.8" height="0.8" fill="#1a9588"/>
<rect x="51.6" y="482.8" width="0.8" height="0.8" fill="#1c9983"/>
<rect x="53.2" y="482.8" width="0.8" height="0.8" fill="#1c9983"/>
<rect x="55.6" y="478.8" width="0.8" height="0.8" fill="#1c9983"/>
<rect x="57.2" y="479.6" width="0.8" height="0.8" fill="#1c9983"/>
<rect x="50.8" y="482.8" width="0.8" height="0.8" fill="#1c9983"/>
<rect x="58.8" y="479.6" width="0.8" height="0.8" fill="#1e9c7f"/>
<rect x="51.6" y="482.0" width="0.8" height="0.8" fill="#1e9c7f"/>
<rect x="50.8" y="479.6" width="0.8" height="0.8" fill="#1f9f7a"/>
<rect x="54.8" y="478.8" width="0.8" height="0.8" fill="#1f9f7a"/>
<rect x="58.0" y="480.4" width="0.8" height="0.8" fill="#21a276"/>
<rect x="57.2" y="480.4" width="0.8" height="0.8" fill="#21a276"/>
<rect x="56.4" y="481.2" width="0.8" height="0.8" fill="#21a276"/>
<rect x="58.0" y="479.6" width="0.8" height="0.8" fill="#21a276"/>
<rect x="52.4" y="482.8" width="0.8" height="0.8" fill="#21a276"/>
<rect x="55.6" y="480.4" width="0.8" height="0.8" fill="#23a572"/>
<rect x="53.2" y="479.6" width="0.8" height="0.8" fill="#23a572"/>
<rect x="53.2" y="483.6" width="0.8" height="0.8" fill="#23a572"/>
<rect x="58.8" y="480.4" width="0.8" height="0.8" fill="#23a572"/>
<rect x="54.8" y="482.0" width="0.8" height="0.8" fill="#23a572"/>
<rect x="57.2" y="482.0" width="0.8" height="0.8" fill="#23a572"/>
<rect x="53.2" y="482.0" width="0.8" height="0.8" fill="#2ca86d"/>
<rect x="52.4" y="482.0" width="0.8" height="0.8" fill="#2ca86d"/>
<rect x="51.6" y="480.4" width="0.8" height="0.8" fill="#2ca86d"/>
<rect x="54.0" y="482.8" width="0.8" height="0.8" fill="#34ab68"/>
<rect x="54.0" y="481.2" width="0.8" height="0.8" fill="#4cb35a"/>
<rect x="54.8" y="479.6" width="0.8" height="0.8" fill="#53b656"/>
<rect x="52.4" y="480.4" width="0.8" height="0.8" fill="#53b656"/>
<rect x="51.6" y="481.2" width="0.8" height="0.8" fill="#5ab852"/>
<rect x="55.6" y="479.6" width="0.8" height="0.8" fill="#5ab852"/>
<rect x="54.0" y="478.8" width="0.8" height="0.8" fill="#5ab852"/>
<rect x="54.0" y="482.0" width="0.8" height="0.8" fill="#61bb4e"/>
<rect x="55.6" y="481.2" width="0.8" height="0.8" fill="#61bb4e"/>
<rect x="57.2" y="481.2" width="0.8" height="0.8" fill="#68bd4a"/>
<rect x="56.4" y="480.4" width="0.8" height="0.8" fill="#7ec440"/>
<rect x="53.2" y="481.2" width="0.8" height="0.8" fill="#7ec440"/>
<rect x="54.8" y="480.4" width="0.8" height="0.8" fill="#99ca3c"/>
<rect x="54.8" y="481.2" width="0.8" height="0.8" fill="#a5cd3a"/>
<rect x="54.0" y="480.4" width="0.8" height="0.8" fill="#a5cd3a"/>
<rect x="52.4" y="481.2" width="0.8" height="0.8" fill="#a5cd3a"/>
<rect x="53.2" y="480.4" width="0.8" height="0.8" fill="#e1dc32"/>
<rect x="57.1" y="508.6" width="0.7" height="0.7" fill="#8a90e4" opacity="0.6"/>
<rect x="55.1" y="505.7" width="0.7" height="0.7" fill="#8a90e4" opacity="0.6"/>
<rect x="55.8" y="500.7" width="0.7" height="0.7" fill="#8a90e4" opacity="0.6"/>
<rect x="60.3" y="509.5" width="0.7" height="0.7" fill="#8a90e4" opacity="0.6"/>
<rect x="58.0" y="504.6" width="0.7" height="0.7" fill="#8a90e4" opacity="0.6"/>
<rect x="55.3" y="510.9" width="0.7" height="0.7" fill="#8a90e4" opacity="0.6"/>
<rect x="53.9" y="508.1" width="0.7" height="0.7" fill="#8a90e4" opacity="0.6"/>
<rect x="54.6" y="505.9" width="0.7" height="0.7" fill="#8a90e4" opacity="0.6"/>
<rect x="56.7" y="501.7" width="0.7" height="0.7" fill="#8a90e4" opacity="0.6"/>
<rect x="55.8" y="504.2" width="0.7" height="0.7" fill="#8a90e4" opacity="0.6"/>
<rect x="55.1" y="500.3" width="0.7" height="0.7" fill="#8a90e4" opacity="0.6"/>
<rect x="60.1" y="500.0" width="0.7" height="0.7" fill="#8a90e4" opacity="0.6"/>
<rect x="56.6" y="498.4" width="0.7" height="0.7" fill="#8a90e4" opacity="0.6"/>
<rect x="53.0" y="501.1" width="0.7" height="0.7" fill="#8a90e4" opacity="0.6"/>
<rect x="62.3" y="504.0" width="0.7" height="0.7" fill="#8a90e4" opacity="0.6"/>
<rect x="58.4" y="506.8" width="0.7" height="0.7" fill="#8a90e4" opacity="0.6"/>
<rect x="53.6" y="499.3" width="0.7" height="0.7" fill="#8a90e4" opacity="0.6"/>
<rect x="56.1" y="507.5" width="0.7" height="0.7" fill="#8a90e4" opacity="0.6"/>
<rect x="56.8" y="498.2" width="0.7" height="0.7" fill="#8a90e4" opacity="0.6"/>
<rect x="56.1" y="496.4" width="0.7" height="0.7" fill="#8a90e4" opacity="0.6"/>
<rect x="57.1" y="497.5" width="0.7" height="0.7" fill="#8a90e4" opacity="0.6"/>
<rect x="53.8" y="495.4" width="0.7" height="0.7" fill="#8a90e4" opacity="0.6"/>
<rect x="54.1" y="500.6" width="0.7" height="0.7" fill="#8a90e4" opacity="0.6"/>
<rect x="58.6" y="501.4" width="0.7" height="0.7" fill="#8a90e4" opacity="0.6"/>
<rect x="55.6" y="500.9" width="0.7" height="0.7" fill="#8a90e4" opacity="0.6"/>
<rect x="56.5" y="501.5" width="0.7" height="0.7" fill="#8a90e4" opacity="0.6"/>
<rect x="53.0" y="502.1" width="0.7" height="0.7" fill="#8a90e4" opacity="0.6"/>
<rect x="57.9" y="496.2" width="0.7" height="0.7" fill="#8a90e4" opacity="0.6"/>
<rect x="51.0" y="506.6" width="0.7" height="0.7" fill="#8a90e4" opacity="0.6"/>
<rect x="55.9" y="499.6" width="0.7" height="0.7" fill="#8a90e4" opacity="0.6"/>
<rect x="52.1" y="502.0" width="0.7" height="0.7" fill="#8a90e4" opacity="0.6"/>
<rect x="59.2" y="500.5" width="0.7" height="0.7" fill="#8a90e4" opacity="0.6"/>
<rect x="56.8" y="512.8" width="0.7" height="0.7" fill="#8a90e4" opacity="0.6"/>
<rect x="58.2" y="502.6" width="0.7" height="0.7" fill="#8a90e4" opacity="0.6"/>
<rect x="53.1" y="508.4" width="0.7" height="0.7" fill="#8a90e4" opacity="0.6"/>
<rect x="59.0" y="501.8" width="0.7" height="0.7" fill="#8a90e4" opacity="0.6"/>
<rect x="58.5" y="505.6" width="0.7" height="0.7" fill="#8a90e4" opacity="0.6"/>
<rect x="60.8" y="507.1" width="0.7" height="0.7" fill="#8a90e4" opacity="0.6"/>
<rect x="56.6" y="506.5" width="0.7" height="0.7" fill="#8a90e4" opacity="0.6"/>
<rect x="55.7" y="498.8" width="0.7" height="0.7" fill="#8a90e4" opacity="0.6"/>
<rect x="55.4" y="501.3" width="0.7" height="0.7" fill="#8a90e4" opacity="0.6"/>
<rect x="59.6" y="503.6" width="0.7" height="0.7" fill="#8a90e4" opacity="0.6"/>
<rect x="57.8" y="499.8" width="0.7" height="0.7" fill="#8a90e4" opacity="0.6"/>
<rect x="58.4" y="500.8" width="0.7" height="0.7" fill="#8a90e4" opacity="0.6"/>
<rect x="52.2" y="505.9" width="0.7" height="0.7" fill="#8a90e4" opacity="0.6"/>
<rect x="106.8" y="478.8" width="0.8" height="0.8" fill="#5c5edc"/>
<rect x="106.8" y="482.0" width="0.8" height="0.8" fill="#5c5edc"/>
<rect x="115.6" y="484.4" width="0.8" height="0.8" fill="#5c5edc"/>
<rect x="130.0" y="486.0" width="0.8" height="0.8" fill="#5c5edc"/>
<rect x="123.6" y="487.6" width="0.8" height="0.8" fill="#5c5edc"/>
<rect x="139.6" y="478.0" width="0.8" height="0.8" fill="#5c5edc"/>
<rect x="121.2" y="478.8" width="0.8" height="0.8" fill="#5c5edc"/>
<rect x="139.6" y="477.2" width="0.8" height="0.8" fill="#5c5edc"/>
<rect x="125.2" y="486.8" width="0.8" height="0.8" fill="#5c5edc"/>
<rect x="113.2" y="485.2" width="0.8" height="0.8" fill="#5c5edc"/>
<rect x="140.4" y="481.2" width="0.8" height="0.8" fill="#5c5edc"/>
<rect x="115.6" y="483.6" width="0.8" height="0.8" fill="#5c5edc"/>
<rect x="142.8" y="480.4" width="0.8" height="0.8" fill="#5c5edc"/>
<rect x="124.4" y="475.6" width="0.8" height="0.8" fill="#5c5edc"/>
<rect x="134.8" y="483.6" width="0.8" height="0.8" fill="#5c5edc"/>
<rect x="117.2" y="484.4" width="0.8" height="0.8" fill="#5c5edc"/>
<rect x="115.6" y="480.4" width="0.8" height="0.8" fill="#5c5edc"/>
<rect x="113.2" y="486.8" width="0.8" height="0.8" fill="#5c5edc"/>
<rect x="122.8" y="477.2" width="0.8" height="0.8" fill="#5c5edc"/>
<rect x="139.6" y="481.2" width="0.8" height="0.8" fill="#5c5edc"/>
<rect x="114.8" y="485.2" width="0.8" height="0.8" fill="#5c5edc"/>
<rect x="124.4" y="476.4" width="0.8" height="0.8" fill="#5c5edc"/>
<rect x="120.4" y="486.8" width="0.8" height="0.8" fill="#5c5edc"/>
<rect x="126.8" y="487.6" width="0.8" height="0.8" fill="#5c5edc"/>
<rect x="114.8" y="486.8" width="0.8" height="0.8" fill="#5c5edc"/>
<rect x="130.8" y="477.2" width="0.8" height="0.8" fill="#5c5edc"/>
<rect x="122.8" y="478.0" width="0.8" height="0.8" fill="#5c5edc"/>
<rect x="110.8" y="478.8" width="0.8" height="0.8" fill="#5c5edc"/>
<rect x="121.2" y="477.2" width="0.8" height="0.8" fill="#5c5edc"/>
<rect x="131.6" y="484.4" width="0.8" height="0.8" fill="#5c5edc"/>
<rect x="128.4" y="476.4" width="0.8" height="0.8" fill="#5c5edc"/>
<rect x="136.4" y="482.0" width="0.8" height="0.8" fill="#5c5edc"/>
<rect x="114.0" y="478.0" width="0.8" height="0.8" fill="#5c5edc"/>
<rect x="141.2" y="482.0" width="0.8" height="0.8" fill="#5c5edc"/>
<rect x="140.4" y="478.8" width="0.8" height="0.8" fill="#5c5edc"/>
<rect x="130.8" y="485.2" width="0.8" height="0.8" fill="#5c5edc"/>
<rect x="119.6" y="486.8" width="0.8" height="0.8" fill="#5c5edc"/>
<rect x="135.6" y="480.4" width="0.8" height="0.8" fill="#5c5edc"/>
<rect x="131.6" y="488.4" width="0.8" height="0.8" fill="#5c5edc"/>
<rect x="114.8" y="482.8" width="0.8" height="0.8" fill="#5c5edc"/>
<rect x="133.2" y="474.8" width="0.8" height="0.8" fill="#5c5edc"/>
<rect x="134.0" y="478.8" width="0.8" height="0.8" fill="#5c5edc"/>
<rect x="133.2" y="486.8" width="0.8" height="0.8" fill="#5c5edc"/>
<rect x="118.8" y="480.4" width="0.8" height="0.8" fill="#5c5edc"/>
<rect x="134.8" y="477.2" width="0.8" height="0.8" fill="#5c5edc"/>
<rect x="126.8" y="486.8" width="0.8" height="0.8" fill="#5c5edc"/>
<rect x="130.8" y="486.0" width="0.8" height="0.8" fill="#5c5edc"/>
<rect x="127.6" y="486.8" width="0.8" height="0.8" fill="#5c5edc"/>
<rect x="140.4" y="479.6" width="0.8" height="0.8" fill="#5c5edc"/>
<rect x="118.0" y="486.8" width="0.8" height="0.8" fill="#5c5edc"/>
<rect x="136.4" y="481.2" width="0.8" height="0.8" fill="#5c5edc"/>
<rect x="118.8" y="488.4" width="0.8" height="0.8" fill="#5c5edc"/>
<rect x="138.0" y="477.2" width="0.8" height="0.8" fill="#5c5edc"/>
<rect x="137.2" y="480.4" width="0.8" height="0.8" fill="#5c5edc"/>
<rect x="119.6" y="488.4" width="0.8" height="0.8" fill="#5c5edc"/>
<rect x="106.8" y="483.6" width="0.8" height="0.8" fill="#5c5edc"/>
<rect x="118.8" y="486.8" width="0.8" height="0.8" fill="#5c5edc"/>
<rect x="131.6" y="475.6" width="0.8" height="0.8" fill="#5c5edc"/>
<rect x="127.6" y="476.4" width="0.8" height="0.8" fill="#5c5edc"/>
<rect x="131.6" y="486.0" width="0.8" height="0.8" fill="#5c5edc"/>
<rect x="114.0" y="484.4" width="0.8" height="0.8" fill="#5c5edc"/>
<rect x="133.2" y="478.8" width="0.8" height="0.8" fill="#5c5edc"/>
<rect x="137.2" y="484.4" width="0.8" height="0.8" fill="#5c5edc"/>
<rect x="142.0" y="484.4" width="0.8" height="0.8" fill="#5c5edc"/>
<rect x="114.0" y="485.2" width="0.8" height="0.8" fill="#5c5edc"/>
<rect x="121.2" y="488.4" width="0.8" height="0.8" fill="#5c5edc"/>
<rect x="140.4" y="483.6" width="0.8" height="0.8" fill="#5c5edc"/>
<rect x="111.6" y="482.8" width="0.8" height="0.8" fill="#5c5edc"/>
<rect x="114.8" y="484.4" width="0.8" height="0.8" fill="#5c5edc"/>
<rect x="115.6" y="482.8" width="0.8" height="0.8" fill="#5c5edc"/>
<rect x="113.2" y="483.6" width="0.8" height="0.8" fill="#5c5edc"/>
<rect x="138.8" y="478.0" width="0.8" height="0.8" fill="#5c5edc"/>
<rect x="112.4" y="483.6" width="0.8" height="0.8" fill="#5c5edc"/>
<rect x="134.0" y="485.2" width="0.8" height="0.8" fill="#5c5edc"/>
<rect x="119.6" y="479.6" width="0.8" height="0.8" fill="#5c5edc"/>
<rect x="118.8" y="490.0" width="0.8" height="0.8" fill="#5c5edc"/>
<rect x="142.0" y="480.4" width="0.8" height="0.8" fill="#5c5edc"/>
<rect x="131.6" y="486.8" width="0.8" height="0.8" fill="#5c5edc"/>
<rect x="129.2" y="476.4" width="0.8" height="0.8" fill="#5c5edc"/>
<rect x="114.0" y="478.8" width="0.8" height="0.8" fill="#5c5edc"/>
<rect x="113.2" y="484.4" width="0.8" height="0.8" fill="#5c5edc"/>
<rect x="116.4" y="488.4" width="0.8" height="0.8" fill="#5c5edc"/>
<rect x="116.4" y="478.8" width="0.8" height="0.8" fill="#5c5edc"/>
<rect x="112.4" y="484.4" width="0.8" height="0.8" fill="#5c5edc"/>
<rect x="129.2" y="486.0" width="0.8" height="0.8" fill="#5c5edc"/>
<rect x="124.4" y="488.4" width="0.8" height="0.8" fill="#5c5edc"/>
<rect x="119.6" y="476.4" width="0.8" height="0.8" fill="#5c5edc"/>
<rect x="135.6" y="475.6" width="0.8" height="0.8" fill="#5c5edc"/>
<rect x="141.2" y="478.8" width="0.8" height="0.8" fill="#5c5edc"/>
<rect x="126.8" y="477.2" width="0.8" height="0.8" fill="#5c5edc"/>
<rect x="141.2" y="480.4" width="0.8" height="0.8" fill="#5c5edc"/>
<rect x="138.8" y="478.8" width="0.8" height="0.8" fill="#5c5edc"/>
<rect x="111.6" y="486.0" width="0.8" height="0.8" fill="#5c5edc"/>
<rect x="141.2" y="476.4" width="0.8" height="0.8" fill="#5c5edc"/>
<rect x="115.6" y="482.0" width="0.8" height="0.8" fill="#5c5edc"/>
<rect x="128.4" y="486.8" width="0.8" height="0.8" fill="#5c5edc"/>
<rect x="118.0" y="479.6" width="0.8" height="0.8" fill="#5c5edc"/>
<rect x="133.2" y="478.0" width="0.8" height="0.8" fill="#5c5edc"/>
<rect x="129.2" y="477.2" width="0.8" height="0.8" fill="#5c5edc"/>
<rect x="121.2" y="475.6" width="0.8" height="0.8" fill="#5c5edc"/>
<rect x="114.0" y="483.6" width="0.8" height="0.8" fill="#5c5edc"/>
<rect x="142.0" y="479.6" width="0.8" height="0.8" fill="#5c5edc"/>
<rect x="107.6" y="476.4" width="0.8" height="0.8" fill="#5c5edc"/>
<rect x="114.0" y="486.0" width="0.8" height="0.8" fill="#5c5edc"/>
<rect x="106.8" y="486.8" width="0.8" height="0.8" fill="#5c5edc"/>
<rect x="138.0" y="476.4" width="0.8" height="0.8" fill="#5c5edc"/>
<rect x="138.0" y="479.6" width="0.8" height="0.8" fill="#5c5edc"/>
<rect x="118.8" y="487.6" width="0.8" height="0.8" fill="#5c5edc"/>
<rect x="131.6" y="485.2" width="0.8" height="0.8" fill="#5c5edc"/>
<rect x="120.4" y="478.0" width="0.8" height="0.8" fill="#5c5edc"/>
<rect x="132.4" y="479.6" width="0.8" height="0.8" fill="#5c5edc"/>
<rect x="109.2" y="483.6" width="0.8" height="0.8" fill="#5c5edc"/>
<rect x="138.0" y="482.8" width="0.8" height="0.8" fill="#5c5edc"/>
<rect x="116.4" y="483.6" width="0.8" height="0.8" fill="#5c5edc"/>
<rect x="112.4" y="485.2" width="0.8" height="0.8" fill="#5c5edc"/>
<rect x="141.2" y="474.8" width="0.8" height="0.8" fill="#5c5edc"/>
<rect x="125.2" y="476.4" width="0.8" height="0.8" fill="#5c5edc"/>
<rect x="118.0" y="481.2" width="0.8" height="0.8" fill="#5c5edc"/>
<rect x="138.8" y="483.6" width="0.8" height="0.8" fill="#5c5edc"/>
<rect x="115.6" y="478.8" width="0.8" height="0.8" fill="#5c5edc"/>
<rect x="122.0" y="486.8" width="0.8" height="0.8" fill="#5c5edc"/>
<rect x="114.0" y="489.2" width="0.8" height="0.8" fill="#5c5edc"/>
<rect x="121.2" y="476.4" width="0.8" height="0.8" fill="#5c5edc"/>
<rect x="136.4" y="483.6" width="0.8" height="0.8" fill="#5c5edc"/>
<rect x="138.8" y="480.4" width="0.8" height="0.8" fill="#3b48ce"/>
<rect x="138.0" y="484.4" width="0.8" height="0.8" fill="#3b48ce"/>
<rect x="134.0" y="482.0" width="0.8" height="0.8" fill="#3b48ce"/>
<rect x="120.4" y="486.0" width="0.8" height="0.8" fill="#3b48ce"/>
<rect x="139.6" y="479.6" width="0.8" height="0.8" fill="#3b48ce"/>
<rect x="134.0" y="483.6" width="0.8" height="0.8" fill="#3b48ce"/>
<rect x="122.0" y="486.0" width="0.8" height="0.8" fill="#3b48ce"/>
<rect x="138.0" y="482.0" width="0.8" height="0.8" fill="#3b48ce"/>
<rect x="137.2" y="482.0" width="0.8" height="0.8" fill="#3b48ce"/>
<rect x="118.0" y="484.4" width="0.8" height="0.8" fill="#3b48ce"/>
<rect x="119.6" y="478.8" width="0.8" height="0.8" fill="#3b48ce"/>
<rect x="133.2" y="483.6" width="0.8" height="0.8" fill="#3b48ce"/>
<rect x="138.0" y="478.8" width="0.8" height="0.8" fill="#3b48ce"/>
<rect x="142.0" y="485.2" width="0.8" height="0.8" fill="#3b48ce"/>
<rect x="135.6" y="478.8" width="0.8" height="0.8" fill="#3b48ce"/>
<rect x="135.6" y="476.4" width="0.8" height="0.8" fill="#3b48ce"/>
<rect x="130.0" y="476.4" width="0.8" height="0.8" fill="#3b48ce"/>
<rect x="127.6" y="477.2" width="0.8" height="0.8" fill="#3b48ce"/>
<rect x="139.6" y="480.4" width="0.8" height="0.8" fill="#3b48ce"/>
<rect x="134.8" y="484.4" width="0.8" height="0.8" fill="#3b48ce"/>
<rect x="139.6" y="482.0" width="0.8" height="0.8" fill="#3b48ce"/>
<rect x="138.8" y="479.6" width="0.8" height="0.8" fill="#3b48ce"/>
<rect x="122.8" y="486.8" width="0.8" height="0.8" fill="#3b48ce"/>
<rect x="130.0" y="477.2" width="0.8" height="0.8" fill="#3b48ce"/>
<rect x="121.2" y="486.8" width="0.8" height="0.8" fill="#3b48ce"/>
<rect x="131.6" y="477.2" width="0.8" height="0.8" fill="#3b48ce"/>
<rect x="126.0" y="477.2" width="0.8" height="0.8" fill="#3b48ce"/>
<rect x="126.8" y="486.0" width="0.8" height="0.8" fill="#3b48ce"/>
<rect x="137.2" y="476.4" width="0.8" height="0.8" fill="#3b48ce"/>
<rect x="118.0" y="480.4" width="0.8" height="0.8" fill="#3b48ce"/>
<rect x="121.2" y="487.6" width="0.8" height="0.8" fill="#3b48ce"/>
<rect x="131.6" y="476.4" width="0.8" height="0.8" fill="#3b48ce"/>
<rect x="135.6" y="483.6" width="0.8" height="0.8" fill="#3b48ce"/>
<rect x="118.0" y="485.2" width="0.8" height="0.8" fill="#3b48ce"/>
<rect x="138.0" y="483.6" width="0.8" height="0.8" fill="#3b48ce"/>
<rect x="134.0" y="484.4" width="0.8" height="0.8" fill="#3b48ce"/>
<rect x="132.4" y="484.4" width="0.8" height="0.8" fill="#3b48ce"/>
<rect x="117.2" y="483.6" width="0.8" height="0.8" fill="#3b48ce"/>
<rect x="137.2" y="483.6" width="0.8" height="0.8" fill="#3b48ce"/>
<rect x="134.0" y="480.4" width="0.8" height="0.8" fill="#3b48ce"/>
<rect x="124.4" y="477.2" width="0.8" height="0.8" fill="#3b48ce"/>
<rect x="116.4" y="485.2" width="0.8" height="0.8" fill="#3b48ce"/>
<rect x="140.4" y="480.4" width="0.8" height="0.8" fill="#3b48ce"/>
<rect x="132.4" y="486.8" width="0.8" height="0.8" fill="#3b48ce"/>
<rect x="111.6" y="483.6" width="0.8" height="0.8" fill="#3b48ce"/>
<rect x="122.8" y="487.6" width="0.8" height="0.8" fill="#3b48ce"/>
<rect x="130.8" y="478.8" width="0.8" height="0.8" fill="#3b48ce"/>
<rect x="136.4" y="478.0" width="0.8" height="0.8" fill="#3b48ce"/>
<rect x="121.2" y="489.2" width="0.8" height="0.8" fill="#3b48ce"/>
<rect x="136.4" y="482.8" width="0.8" height="0.8" fill="#3b48ce"/>
<rect x="123.6" y="478.8" width="0.8" height="0.8" fill="#2f4dc5"/>
<rect x="118.8" y="484.4" width="0.8" height="0.8" fill="#2f4dc5"/>
<rect x="123.6" y="486.8" width="0.8" height="0.8" fill="#2f4dc5"/>
<rect x="136.4" y="480.4" width="0.8" height="0.8" fill="#2f4dc5"/>
<rect x="129.2" y="478.8" width="0.8" height="0.8" fill="#2f4dc5"/>
<rect x="118.8" y="482.0" width="0.8" height="0.8" fill="#2f4dc5"/>
<rect x="129.2" y="484.4" width="0.8" height="0.8" fill="#2f4dc5"/>
<rect x="134.0" y="478.0" width="0.8" height="0.8" fill="#2f4dc5"/>
<rect x="132.4" y="483.6" width="0.8" height="0.8" fill="#2f4dc5"/>
<rect x="138.0" y="480.4" width="0.8" height="0.8" fill="#2f4dc5"/>
<rect x="123.6" y="486.0" width="0.8" height="0.8" fill="#2f4dc5"/>
<rect x="119.6" y="481.2" width="0.8" height="0.8" fill="#2f4dc5"/>
<rect x="126.0" y="486.8" width="0.8" height="0.8" fill="#2f4dc5"/>
<rect x="136.4" y="479.6" width="0.8" height="0.8" fill="#2f4dc5"/>
<rect x="124.4" y="486.0" width="0.8" height="0.8" fill="#2f4dc5"/>
<rect x="137.2" y="478.0" width="0.8" height="0.8" fill="#2f4dc5"/>
<rect x="131.6" y="478.0" width="0.8" height="0.8" fill="#2f4dc5"/>
<rect x="135.6" y="482.8" width="0.8" height="0.8" fill="#2f4dc5"/>
<rect x="118.8" y="482.8" width="0.8" height="0.8" fill="#2f4dc5"/>
<rect x="118.0" y="482.0" width="0.8" height="0.8" fill="#2f4dc5"/>
<rect x="138.0" y="481.2" width="0.8" height="0.8" fill="#2f4dc5"/>
<rect x="116.4" y="482.8" width="0.8" height="0.8" fill="#2f4dc5"/>
<rect x="114.8" y="483.6" width="0.8" height="0.8" fill="#2f4dc5"/>
<rect x="125.2" y="486.0" width="0.8" height="0.8" fill="#2f4dc5"/>
<rect x="136.4" y="478.8" width="0.8" height="0.8" fill="#2f4dc5"/>
<rect x="121.2" y="479.6" width="0.8" height="0.8" fill="#2f4dc5"/>
<rect x="128.4" y="486.0" width="0.8" height="0.8" fill="#2f4dc5"/>
<rect x="121.2" y="486.0" width="0.8" height="0.8" fill="#2f4dc5"/>
<rect x="135.6" y="481.2" width="0.8" height="0.8" fill="#2f4dc5"/>
<rect x="132.4" y="482.8" width="0.8" height="0.8" fill="#2f4dc5"/>
<rect x="119.6" y="480.4" width="0.8" height="0.8" fill="#2f4dc5"/>
<rect x="132.4" y="478.0" width="0.8" height="0.8" fill="#2f4dc5"/>
<rect x="132.4" y="478.8" width="0.8" height="0.8" fill="#2f4dc5"/>
<rect x="135.6" y="479.6" width="0.8" height="0.8" fill="#2f4dc5"/>
<rect x="123.6" y="478.0" width="0.8" height="0.8" fill="#2f4dc5"/>
<rect x="115.6" y="481.2" width="0.8" height="0.8" fill="#2f4dc5"/>
<rect x="119.6" y="485.2" width="0.8" height="0.8" fill="#2f4dc5"/>
<rect x="138.8" y="481.2" width="0.8" height="0.8" fill="#2f4dc5"/>
<rect x="126.0" y="486.0" width="0.8" height="0.8" fill="#2f4dc5"/>
<rect x="122.0" y="487.6" width="0.8" height="0.8" fill="#2f4dc5"/>
<rect x="118.8" y="483.6" width="0.8" height="0.8" fill="#2f4dc5"/>
<rect x="130.0" y="483.6" width="0.8" height="0.8" fill="#2f4dc5"/>
<rect x="134.8" y="479.6" width="0.8" height="0.8" fill="#2551be"/>
<rect x="118.8" y="481.2" width="0.8" height="0.8" fill="#2551be"/>
<rect x="134.8" y="482.0" width="0.8" height="0.8" fill="#2551be"/>
<rect x="137.2" y="479.6" width="0.8" height="0.8" fill="#2551be"/>
<rect x="134.0" y="477.2" width="0.8" height="0.8" fill="#2551be"/>
<rect x="130.0" y="485.2" width="0.8" height="0.8" fill="#2551be"/>
<rect x="133.2" y="479.6" width="0.8" height="0.8" fill="#2551be"/>
<rect x="121.2" y="484.4" width="0.8" height="0.8" fill="#2551be"/>
<rect x="128.4" y="478.0" width="0.8" height="0.8" fill="#2551be"/>
<rect x="134.8" y="478.8" width="0.8" height="0.8" fill="#2551be"/>
<rect x="118.0" y="483.6" width="0.8" height="0.8" fill="#2551be"/>
<rect x="126.0" y="485.2" width="0.8" height="0.8" fill="#2551be"/>
<rect x="118.0" y="482.8" width="0.8" height="0.8" fill="#2551be"/>
<rect x="137.2" y="481.2" width="0.8" height="0.8" fill="#2551be"/>
<rect x="126.0" y="478.0" width="0.8" height="0.8" fill="#2551be"/>
<rect x="125.2" y="478.0" width="0.8" height="0.8" fill="#2551be"/>
<rect x="120.4" y="485.2" width="0.8" height="0.8" fill="#2551be"/>
<rect x="130.0" y="478.8" width="0.8" height="0.8" fill="#2551be"/>
<rect x="119.6" y="484.4" width="0.8" height="0.8" fill="#2551be"/>
<rect x="130.8" y="484.4" width="0.8" height="0.8" fill="#2551be"/>
<rect x="127.6" y="486.0" width="0.8" height="0.8" fill="#2551be"/>
<rect x="125.2" y="477.2" width="0.8" height="0.8" fill="#2551be"/>
<rect x="134.8" y="478.0" width="0.8" height="0.8" fill="#2551be"/>
<rect x="122.8" y="478.8" width="0.8" height="0.8" fill="#2551be"/>
<rect x="119.6" y="483.6" width="0.8" height="0.8" fill="#2551be"/>
<rect x="133.2" y="482.8" width="0.8" height="0.8" fill="#2551be"/>
<rect x="129.2" y="478.0" width="0.8" height="0.8" fill="#2551be"/>
<rect x="117.2" y="482.8" width="0.8" height="0.8" fill="#2551be"/>
<rect x="122.0" y="479.6" width="0.8" height="0.8" fill="#1d55b8"/>
<rect x="127.6" y="478.0" width="0.8" height="0.8" fill="#1d55b8"/>
<rect x="133.2" y="480.4" width="0.8" height="0.8" fill="#1d55b8"/>
<rect x="117.2" y="482.0" width="0.8" height="0.8" fill="#1d55b8"/>
<rect x="129.2" y="485.2" width="0.8" height="0.8" fill="#1d55b8"/>
<rect x="132.4" y="481.2" width="0.8" height="0.8" fill="#1d55b8"/>
<rect x="131.6" y="482.0" width="0.8" height="0.8" fill="#1d55b8"/>
<rect x="131.6" y="479.6" width="0.8" height="0.8" fill="#1d55b8"/>
<rect x="126.8" y="478.0" width="0.8" height="0.8" fill="#1d55b8"/>
<rect x="120.4" y="479.6" width="0.8" height="0.8" fill="#1d55b8"/>
<rect x="130.8" y="478.0" width="0.8" height="0.8" fill="#1d55b8"/>
<rect x="131.6" y="483.6" width="0.8" height="0.8" fill="#1d55b8"/>
<rect x="134.8" y="480.4" width="0.8" height="0.8" fill="#1d55b8"/>
<rect x="122.0" y="478.8" width="0.8" height="0.8" fill="#1a5fb4"/>
<rect x="134.0" y="481.2" width="0.8" height="0.8" fill="#1a5fb4"/>
<rect x="124.4" y="478.0" width="0.8" height="0.8" fill="#1a5fb4"/>
<rect x="122.8" y="485.2" width="0.8" height="0.8" fill="#1a5fb4"/>
<rect x="130.0" y="480.4" width="0.8" height="0.8" fill="#1a5fb4"/>
<rect x="134.8" y="481.2" width="0.8" height="0.8" fill="#1a5fb4"/>
<rect x="120.4" y="483.6" width="0.8" height="0.8" fill="#1a5fb4"/>
<rect x="126.0" y="478.8" width="0.8" height="0.8" fill="#1a5fb4"/>
<rect x="122.0" y="485.2" width="0.8" height="0.8" fill="#1a5fb4"/>
<rect x="135.6" y="482.0" width="0.8" height="0.8" fill="#1a5fb4"/>
<rect x="121.2" y="485.2" width="0.8" height="0.8" fill="#1a5fb4"/>
<rect x="120.4" y="484.4" width="0.8" height="0.8" fill="#1a5fb4"/>
<rect x="130.8" y="479.6" width="0.8" height="0.8" fill="#1768b0"/>
<rect x="131.6" y="480.4" width="0.8" height="0.8" fill="#1768b0"/>
<rect x="121.2" y="480.4" width="0.8" height="0.8" fill="#1768b0"/>
<rect x="119.6" y="482.8" width="0.8" height="0.8" fill="#1768b0"/>
<rect x="120.4" y="480.4" width="0.8" height="0.8" fill="#1768b0"/>
<rect x="133.2" y="481.2" width="0.8" height="0.8" fill="#1768b0"/>
<rect x="130.0" y="484.4" width="0.8" height="0.8" fill="#1768b0"/>
<rect x="125.2" y="478.8" width="0.8" height="0.8" fill="#1768b0"/>
<rect x="132.4" y="480.4" width="0.8" height="0.8" fill="#1768b0"/>
<rect x="120.4" y="481.2" width="0.8" height="0.8" fill="#1768b0"/>
<rect x="131.6" y="481.2" width="0.8" height="0.8" fill="#1470ac"/>
<rect x="128.4" y="479.6" width="0.8" height="0.8" fill="#1470ac"/>
<rect x="130.0" y="479.6" width="0.8" height="0.8" fill="#1470ac"/>
<rect x="120.4" y="482.0" width="0.8" height="0.8" fill="#1470ac"/>
<rect x="119.6" y="482.0" width="0.8" height="0.8" fill="#1470ac"/>
<rect x="124.4" y="480.4" width="0.8" height="0.8" fill="#1470ac"/>
<rect x="132.4" y="482.0" width="0.8" height="0.8" fill="#1470ac"/>
<rect x="121.2" y="481.2" width="0.8" height="0.8" fill="#1470ac"/>
<rect x="133.2" y="482.0" width="0.8" height="0.8" fill="#1470ac"/>
<rect x="122.0" y="484.4" width="0.8" height="0.8" fill="#1470ac"/>
<rect x="130.0" y="481.2" width="0.8" height="0.8" fill="#1470ac"/>
<rect x="120.4" y="482.8" width="0.8" height="0.8" fill="#1278a9"/>
<rect x="122.8" y="486.0" width="0.8" height="0.8" fill="#1278a9"/>
<rect x="128.4" y="478.8" width="0.8" height="0.8" fill="#1278a9"/>
<rect x="131.6" y="478.8" width="0.8" height="0.8" fill="#1278a9"/>
<rect x="126.0" y="484.4" width="0.8" height="0.8" fill="#1278a9"/>
<rect x="123.6" y="479.6" width="0.8" height="0.8" fill="#1278a9"/>
<rect x="122.8" y="483.6" width="0.8" height="0.8" fill="#107ea6"/>
<rect x="129.2" y="483.6" width="0.8" height="0.8" fill="#107ea6"/>
<rect x="123.6" y="485.2" width="0.8" height="0.8" fill="#107ea6"/>
<rect x="124.4" y="485.2" width="0.8" height="0.8" fill="#107ea6"/>
<rect x="121.2" y="482.0" width="0.8" height="0.8" fill="#107ea6"/>
<rect x="131.6" y="482.8" width="0.8" height="0.8" fill="#107ea6"/>
<rect x="134.0" y="479.6" width="0.8" height="0.8" fill="#107ea6"/>
<rect x="122.0" y="480.4" width="0.8" height="0.8" fill="#107ea6"/>
<rect x="128.4" y="485.2" width="0.8" height="0.8" fill="#107ea6"/>
<rect x="122.0" y="483.6" width="0.8" height="0.8" fill="#107ea6"/>
<rect x="130.8" y="482.8" width="0.8" height="0.8" fill="#107ea6"/>
<rect x="127.6" y="485.2" width="0.8" height="0.8" fill="#107ea6"/>
<rect x="122.8" y="484.4" width="0.8" height="0.8" fill="#1084a1"/>
<rect x="126.8" y="478.8" width="0.8" height="0.8" fill="#1084a1"/>
<rect x="126.8" y="484.4" width="0.8" height="0.8" fill="#1084a1"/>
<rect x="130.8" y="482.0" width="0.8" height="0.8" fill="#1084a1"/>
<rect x="123.6" y="484.4" width="0.8" height="0.8" fill="#13899a"/>
<rect x="127.6" y="479.6" width="0.8" height="0.8" fill="#13899a"/>
<rect x="124.4" y="479.6" width="0.8" height="0.8" fill="#13899a"/>
<rect x="129.2" y="479.6" width="0.8" height="0.8" fill="#13899a"/>
<rect x="125.2" y="479.6" width="0.8" height="0.8" fill="#13899a"/>
<rect x="121.2" y="483.6" width="0.8" height="0.8" fill="#13899a"/>
<rect x="127.6" y="478.8" width="0.8" height="0.8" fill="#13899a"/>
<rect x="126.8" y="483.6" width="0.8" height="0.8" fill="#13899a"/>
<rect x="126.8" y="485.2" width="0.8" height="0.8" fill="#13899a"/>
<rect x="124.4" y="478.8" width="0.8" height="0.8" fill="#13899a"/>
<rect x="122.8" y="480.4" width="0.8" height="0.8" fill="#13899a"/>
<rect x="125.2" y="485.2" width="0.8" height="0.8" fill="#13899a"/>
<rect x="130.8" y="483.6" width="0.8" height="0.8" fill="#158d94"/>
<rect x="130.0" y="482.8" width="0.8" height="0.8" fill="#158d94"/>
<rect x="130.8" y="481.2" width="0.8" height="0.8" fill="#158d94"/>
<rect x="122.8" y="479.6" width="0.8" height="0.8" fill="#158d94"/>
<rect x="128.4" y="483.6" width="0.8" height="0.8" fill="#17918e"/>
<rect x="121.2" y="482.8" width="0.8" height="0.8" fill="#17918e"/>
<rect x="129.2" y="481.2" width="0.8" height="0.8" fill="#17918e"/>
<rect x="130.0" y="482.0" width="0.8" height="0.8" fill="#17918e"/>
<rect x="123.6" y="480.4" width="0.8" height="0.8" fill="#17918e"/>
<rect x="128.4" y="484.4" width="0.8" height="0.8" fill="#1a9589"/>
<rect x="127.6" y="484.4" width="0.8" height="0.8" fill="#1a9589"/>
<rect x="130.8" y="480.4" width="0.8" height="0.8" fill="#1a9589"/>
<rect x="129.2" y="480.4" width="0.8" height="0.8" fill="#1a9589"/>
<rect x="125.2" y="484.4" width="0.8" height="0.8" fill="#1a9589"/>
<rect x="122.8" y="481.2" width="0.8" height="0.8" fill="#1a9589"/>
<rect x="128.4" y="480.4" width="0.8" height="0.8" fill="#1c9983"/>
<rect x="129.2" y="482.0" width="0.8" height="0.8" fill="#1c9983"/>
<rect x="126.0" y="479.6" width="0.8" height="0.8" fill="#1c9983"/>
<rect x="125.2" y="480.4" width="0.8" height="0.8" fill="#1e9c7e"/>
<rect x="122.0" y="481.2" width="0.8" height="0.8" fill="#209f7a"/>
<rect x="127.6" y="483.6" width="0.8" height="0.8" fill="#209f7a"/>
<rect x="123.6" y="483.6" width="0.8" height="0.8" fill="#209f7a"/>
<rect x="126.8" y="479.6" width="0.8" height="0.8" fill="#209f7a"/>
<rect x="127.6" y="482.8" width="0.8" height="0.8" fill="#209f7a"/>
<rect x="123.6" y="481.2" width="0.8" height="0.8" fill="#21a375"/>
<rect x="122.8" y="482.8" width="0.8" height="0.8" fill="#21a375"/>
<rect x="124.4" y="484.4" width="0.8" height="0.8" fill="#21a375"/>
<rect x="129.2" y="482.8" width="0.8" height="0.8" fill="#21a375"/>
<rect x="122.0" y="482.0" width="0.8" height="0.8" fill="#21a375"/>
<rect x="122.8" y="482.0" width="0.8" height="0.8" fill="#26a671"/>
<rect x="128.4" y="481.2" width="0.8" height="0.8" fill="#26a671"/>
<rect x="127.6" y="480.4" width="0.8" height="0.8" fill="#2fa96b"/>
<rect x="128.4" y="482.0" width="0.8" height="0.8" fill="#2fa96b"/>
<rect x="123.6" y="482.0" width="0.8" height="0.8" fill="#2fa96b"/>
<rect x="128.4" y="482.8" width="0.8" height="0.8" fill="#2fa96b"/>
<rect x="122.0" y="482.8" width="0.8" height="0.8" fill="#38ac66"/>
<rect x="125.2" y="483.6" width="0.8" height="0.8" fill="#41af61"/>
<rect x="126.0" y="480.4" width="0.8" height="0.8" fill="#41af61"/>
<rect x="126.0" y="482.0" width="0.8" height="0.8" fill="#49b25c"/>
<rect x="124.4" y="482.0" width="0.8" height="0.8" fill="#51b557"/>
<rect x="126.8" y="482.0" width="0.8" height="0.8" fill="#51b557"/>
<rect x="126.8" y="480.4" width="0.8" height="0.8" fill="#59b852"/>
<rect x="126.8" y="482.8" width="0.8" height="0.8" fill="#59b852"/>
<rect x="123.6" y="482.8" width="0.8" height="0.8" fill="#59b852"/>
<rect x="124.4" y="483.6" width="0.8" height="0.8" fill="#61ba4e"/>
<rect x="127.6" y="481.2" width="0.8" height="0.8" fill="#61ba4e"/>
<rect x="124.4" y="481.2" width="0.8" height="0.8" fill="#61ba4e"/>
<rect x="126.0" y="483.6" width="0.8" height="0.8" fill="#6fbf46"/>
<rect x="126.0" y="481.2" width="0.8" height="0.8" fill="#6fbf46"/>
<rect x="127.6" y="482.0" width="0.8" height="0.8" fill="#76c242"/>
<rect x="124.4" y="482.8" width="0.8" height="0.8" fill="#76c242"/>
<rect x="126.0" y="482.8" width="0.8" height="0.8" fill="#82c53f"/>
<rect x="126.8" y="481.2" width="0.8" height="0.8" fill="#9fcc3b"/>
<rect x="125.2" y="482.8" width="0.8" height="0.8" fill="#c7d635"/>
<rect x="125.2" y="482.0" width="0.8" height="0.8" fill="#d4d933"/>
<rect x="125.2" y="481.2" width="0.8" height="0.8" fill="#e1dc32"/>
<rect x="130.1" y="504.1" width="0.7" height="0.7" fill="#8a90e4" opacity="0.6"/>
<rect x="128.3" y="504.3" width="0.7" height="0.7" fill="#8a90e4" opacity="0.6"/>
<rect x="127.7" y="493.7" width="0.7" height="0.7" fill="#8a90e4" opacity="0.6"/>
<rect x="119.7" y="494.2" width="0.7" height="0.7" fill="#8a90e4" opacity="0.6"/>
<rect x="130.9" y="505.1" width="0.7" height="0.7" fill="#8a90e4" opacity="0.6"/>
<rect x="129.5" y="505.6" width="0.7" height="0.7" fill="#8a90e4" opacity="0.6"/>
<rect x="127.4" y="499.3" width="0.7" height="0.7" fill="#8a90e4" opacity="0.6"/>
<rect x="128.1" y="501.3" width="0.7" height="0.7" fill="#8a90e4" opacity="0.6"/>
<rect x="129.2" y="496.5" width="0.7" height="0.7" fill="#8a90e4" opacity="0.6"/>
<rect x="130.5" y="507.4" width="0.7" height="0.7" fill="#8a90e4" opacity="0.6"/>
<rect x="124.4" y="494.6" width="0.7" height="0.7" fill="#8a90e4" opacity="0.6"/>
<rect x="127.4" y="499.9" width="0.7" height="0.7" fill="#8a90e4" opacity="0.6"/>
<rect x="126.6" y="499.1" width="0.7" height="0.7" fill="#8a90e4" opacity="0.6"/>
<rect x="123.0" y="504.7" width="0.7" height="0.7" fill="#8a90e4" opacity="0.6"/>
<rect x="123.0" y="503.5" width="0.7" height="0.7" fill="#8a90e4" opacity="0.6"/>
<rect x="127.4" y="498.1" width="0.7" height="0.7" fill="#8a90e4" opacity="0.6"/>
<rect x="126.9" y="503.2" width="0.7" height="0.7" fill="#8a90e4" opacity="0.6"/>
<rect x="128.6" y="503.3" width="0.7" height="0.7" fill="#8a90e4" opacity="0.6"/>
<rect x="116.7" y="507.2" width="0.7" height="0.7" fill="#8a90e4" opacity="0.6"/>
<rect x="129.7" y="494.5" width="0.7" height="0.7" fill="#8a90e4" opacity="0.6"/>
<rect x="124.9" y="493.7" width="0.7" height="0.7" fill="#8a90e4" opacity="0.6"/>
<rect x="125.0" y="502.1" width="0.7" height="0.7" fill="#8a90e4" opacity="0.6"/>
<rect x="128.5" y="500.5" width="0.7" height="0.7" fill="#8a90e4" opacity="0.6"/>
<rect x="123.3" y="505.2" width="0.7" height="0.7" fill="#8a90e4" opacity="0.6"/>
<rect x="126.9" y="506.6" width="0.7" height="0.7" fill="#8a90e4" opacity="0.6"/>
<rect x="122.8" y="492.5" width="0.7" height="0.7" fill="#8a90e4" opacity="0.6"/>
<rect x="130.7" y="504.3" width="0.7" height="0.7" fill="#8a90e4" opacity="0.6"/>
<rect x="127.8" y="506.3" width="0.7" height="0.7" fill="#8a90e4" opacity="0.6"/>
<rect x="131.6" y="500.8" width="0.7" height="0.7" fill="#8a90e4" opacity="0.6"/>
<rect x="125.3" y="507.2" width="0.7" height="0.7" fill="#8a90e4" opacity="0.6"/>
<rect x="128.7" y="498.2" width="0.7" height="0.7" fill="#8a90e4" opacity="0.6"/>
<rect x="129.9" y="499.1" width="0.7" height="0.7" fill="#8a90e4" opacity="0.6"/>
<rect x="130.0" y="502.5" width="0.7" height="0.7" fill="#8a90e4" opacity="0.6"/>
<rect x="124.3" y="502.2" width="0.7" height="0.7" fill="#8a90e4" opacity="0.6"/>
<rect x="120.7" y="500.5" width="0.7" height="0.7" fill="#8a90e4" opacity="0.6"/>
<rect x="126.7" y="501.6" width="0.7" height="0.7" fill="#8a90e4" opacity="0.6"/>
<rect x="127.7" y="503.9" width="0.7" height="0.7" fill="#8a90e4" opacity="0.6"/>
<rect x="128.9" y="504.1" width="0.7" height="0.7" fill="#8a90e4" opacity="0.6"/>
<rect x="125.8" y="507.6" width="0.7" height="0.7" fill="#8a90e4" opacity="0.6"/>
<rect x="129.3" y="503.7" width="0.7" height="0.7" fill="#8a90e4" opacity="0.6"/>
<rect x="128.0" y="502.5" width="0.7" height="0.7" fill="#8a90e4" opacity="0.6"/>
<rect x="119.5" y="499.8" width="0.7" height="0.7" fill="#8a90e4" opacity="0.6"/>
<rect x="125.5" y="497.0" width="0.7" height="0.7" fill="#8a90e4" opacity="0.6"/>
<rect x="128.7" y="507.3" width="0.7" height="0.7" fill="#8a90e4" opacity="0.6"/>
<rect x="128.4" y="499.5" width="0.7" height="0.7" fill="#8a90e4" opacity="0.6"/>
<path d="M63.50 389.90 L88.80 389.30 L87.80 415.30 L61.60 415.00 Z" fill="none" stroke="#3a3a3a" stroke-width="0.8" stroke-linejoin="round" />
<path d="M135.80 389.90 L161.20 389.60 L159.90 415.30 L133.80 415.00 Z" fill="none" stroke="#3a3a3a" stroke-width="0.8" stroke-linejoin="round" />
<path d="M64.00 469.10 L88.30 467.80 L87.10 493.10 L62.20 494.00 Z" fill="none" stroke="#3a3a3a" stroke-width="0.8" stroke-linejoin="round" />
<path d="M136.00 469.10 L160.60 467.80 L159.10 493.10 L133.80 494.00 Z" fill="none" stroke="#3a3a3a" stroke-width="0.8" stroke-linejoin="round" />
<text x="77.90" y="425.90" font-size="8.6" text-anchor="middle" fill="#231f20" stroke="#231f20" stroke-width="0.16" textLength="15.80" lengthAdjust="spacingAndGlyphs" >13.5</text>
<text x="149.80" y="426.40" font-size="8.6" text-anchor="middle" fill="#231f20" stroke="#231f20" stroke-width="0.16" textLength="15.80" lengthAdjust="spacingAndGlyphs" >32.0</text>
<text x="78.40" y="507.60" font-size="8.6" text-anchor="middle" fill="#231f20" stroke="#231f20" stroke-width="0.16" textLength="15.80" lengthAdjust="spacingAndGlyphs" >11.4</text>
<text x="148.60" y="507.60" font-size="8.6" text-anchor="middle" fill="#231f20" stroke="#231f20" stroke-width="0.16" textLength="15.80" lengthAdjust="spacingAndGlyphs" >10.2</text>
<line x1="26.00" y1="533.20" x2="26.00" y2="391.30" stroke="#3d3d3d" stroke-width="1.7" />
<polygon points="26.00,386.40 28.70,391.80 23.30,391.80" fill="#3d3d3d"/>
<line x1="29.60" y1="534.20" x2="162.90" y2="534.20" stroke="#1a1a1a" stroke-width="1.4" />
<polygon points="168.20,534.20 162.40,536.90 162.40,531.50" fill="#1a1a1a"/>
<text x="18.80" y="447.00" font-size="9.4" text-anchor="middle" fill="#231f20" stroke="#231f20" stroke-width="0.34" textLength="12.50" lengthAdjust="spacingAndGlyphs" transform="rotate(-90 18.80 447.00)" >CD4</text>
<text x="97.20" y="544.20" font-size="9.4" text-anchor="middle" fill="#231f20" stroke="#231f20" stroke-width="0.34" textLength="33.50" lengthAdjust="spacingAndGlyphs" >Foxp3-GFP</text>
<line x1="222.70" y1="430.40" x2="222.70" y2="516.10" stroke="#000" stroke-width="1.1" />
<line x1="222.20" y1="515.60" x2="281.00" y2="515.60" stroke="#000" stroke-width="1.1" />
<line x1="219.70" y1="515.60" x2="222.70" y2="515.60" stroke="#000" stroke-width="0.9" />
<text x="217.30" y="518.70" font-size="8.8" text-anchor="end" fill="#231f20" stroke="#231f20" stroke-width="0.16" >0</text>
<line x1="219.70" y1="495.20" x2="222.70" y2="495.20" stroke="#000" stroke-width="0.9" />
<text x="217.30" y="498.30" font-size="8.8" text-anchor="end" fill="#231f20" stroke="#231f20" stroke-width="0.16" >10</text>
<line x1="219.70" y1="474.80" x2="222.70" y2="474.80" stroke="#000" stroke-width="0.9" />
<text x="217.30" y="477.90" font-size="8.8" text-anchor="end" fill="#231f20" stroke="#231f20" stroke-width="0.16" >20</text>
<line x1="219.70" y1="454.40" x2="222.70" y2="454.40" stroke="#000" stroke-width="0.9" />
<text x="217.30" y="457.50" font-size="8.8" text-anchor="end" fill="#231f20" stroke="#231f20" stroke-width="0.16" >30</text>
<line x1="219.70" y1="434.00" x2="222.70" y2="434.00" stroke="#000" stroke-width="0.9" />
<text x="217.30" y="437.10" font-size="8.8" text-anchor="end" fill="#231f20" stroke="#231f20" stroke-width="0.16" >40</text>
<rect x="227.80" y="485.10" width="7.80" height="30.50" fill="#1d4a8a" />
<line x1="231.70" y1="476.80" x2="231.70" y2="485.50" stroke="#000" stroke-width="0.9" />
<line x1="229.90" y1="476.80" x2="233.50" y2="476.80" stroke="#000" stroke-width="0.9" />
<rect x="240.40" y="456.70" width="7.80" height="58.90" fill="#cc0a2f" />
<line x1="244.30" y1="453.40" x2="244.30" y2="457.10" stroke="#000" stroke-width="0.9" />
<line x1="242.50" y1="453.40" x2="246.10" y2="453.40" stroke="#000" stroke-width="0.9" />
<rect x="253.40" y="488.90" width="7.80" height="26.70" fill="#3cb44a" />
<line x1="257.30" y1="484.30" x2="257.30" y2="489.30" stroke="#000" stroke-width="0.9" />
<line x1="255.50" y1="484.30" x2="259.10" y2="484.30" stroke="#000" stroke-width="0.9" />
<rect x="266.30" y="488.10" width="7.80" height="27.50" fill="#541f7c" />
<line x1="270.20" y1="481.80" x2="270.20" y2="488.50" stroke="#000" stroke-width="0.9" />
<line x1="268.40" y1="481.80" x2="272.00" y2="481.80" stroke="#000" stroke-width="0.9" />
<circle cx="231.50" cy="469.80" r="2.4" fill="#fff" stroke="#000" stroke-width="1.0"/>
<circle cx="231.50" cy="478.80" r="2.4" fill="#fff" stroke="#000" stroke-width="1.0"/>
<circle cx="231.50" cy="488.10" r="2.4" fill="#fff" stroke="#000" stroke-width="1.0"/>
<circle cx="229.80" cy="494.90" r="2.4" fill="#fff" stroke="#000" stroke-width="1.0"/>
<circle cx="233.30" cy="493.10" r="2.4" fill="#fff" stroke="#000" stroke-width="1.0"/>
<circle cx="243.90" cy="446.10" r="2.4" fill="#fff" stroke="#000" stroke-width="1.0"/>
<circle cx="243.90" cy="452.60" r="2.4" fill="#fff" stroke="#000" stroke-width="1.0"/>
<circle cx="242.20" cy="465.30" r="2.4" fill="#fff" stroke="#000" stroke-width="1.0"/>
<circle cx="246.20" cy="464.80" r="2.4" fill="#fff" stroke="#000" stroke-width="1.0"/>
<circle cx="254.70" cy="478.10" r="2.4" fill="#fff" stroke="#000" stroke-width="1.0"/>
<circle cx="256.70" cy="480.10" r="2.4" fill="#fff" stroke="#000" stroke-width="1.0"/>
<circle cx="258.50" cy="489.40" r="2.4" fill="#fff" stroke="#000" stroke-width="1.0"/>
<circle cx="255.40" cy="496.90" r="2.4" fill="#fff" stroke="#000" stroke-width="1.0"/>
<circle cx="258.70" cy="497.70" r="2.4" fill="#fff" stroke="#000" stroke-width="1.0"/>
<circle cx="270.00" cy="469.30" r="2.4" fill="#fff" stroke="#000" stroke-width="1.0"/>
<circle cx="270.00" cy="475.50" r="2.4" fill="#fff" stroke="#000" stroke-width="1.0"/>
<circle cx="268.00" cy="496.90" r="2.4" fill="#fff" stroke="#000" stroke-width="1.0"/>
<circle cx="271.80" cy="497.70" r="2.4" fill="#fff" stroke="#000" stroke-width="1.0"/>
<line x1="231.50" y1="439.10" x2="242.90" y2="439.10" stroke="#000" stroke-width="0.9" />
<text x="237.20" y="438.00" font-size="7" text-anchor="middle" fill="#231f20" stroke="#231f20" stroke-width="0.16" >**</text>
<line x1="245.40" y1="423.20" x2="258.50" y2="423.20" stroke="#000" stroke-width="0.9" />
<text x="252.00" y="422.20" font-size="7" text-anchor="middle" fill="#231f20" stroke="#231f20" stroke-width="0.16" >***</text>
<line x1="244.60" y1="404.40" x2="268.00" y2="404.40" stroke="#000" stroke-width="0.9" />
<text x="256.30" y="403.40" font-size="7" text-anchor="middle" fill="#231f20" stroke="#231f20" stroke-width="0.16" >***</text>
<text x="199.80" y="472.00" font-size="9.1" text-anchor="middle" fill="#231f20" stroke="#231f20" stroke-width="0.34" textLength="51.50" lengthAdjust="spacingAndGlyphs" transform="rotate(-90 199.80 472.00)" >% of FOXP3-GFP</text>
<rect x="200.20" y="529.60" width="12.00" height="4.60" fill="#1d4a8a" />
<text x="215.20" y="534.40" font-size="8.6" text-anchor="start" fill="#231f20" stroke="#231f20" stroke-width="0.16" >T</text>
<rect x="200.20" y="541.80" width="12.00" height="4.60" fill="#cc0a2f" />
<text x="215.20" y="546.20" font-size="8.6" text-anchor="start" fill="#231f20" stroke="#231f20" stroke-width="0.16" textLength="23.60" lengthAdjust="spacingAndGlyphs" >T+aPC</text>
<rect x="242.30" y="529.60" width="11.80" height="4.60" fill="#3cb44a" />
<text x="257.70" y="534.40" font-size="8.6" text-anchor="start" fill="#231f20" stroke="#231f20" stroke-width="0.16" textLength="45.50" lengthAdjust="spacingAndGlyphs" >T+aPC+αKG</text>
<rect x="242.30" y="541.80" width="11.80" height="4.60" fill="#541f7c" />
<text x="257.70" y="546.20" font-size="8.6" text-anchor="start" fill="#231f20" stroke="#231f20" stroke-width="0.16" textLength="35.40" lengthAdjust="spacingAndGlyphs" >T+aPC+Q</text>
<rect x="0.00" y="0.00" width="520.00" height="0.95" fill="#3c3c3c" />
<rect x="0.00" y="0.00" width="1.00" height="557.00" fill="#444" />
<rect x="518.60" y="0.00" width="1.40" height="557.00" fill="#3a3a3a" />
<rect x="0.00" y="555.80" width="520.00" height="1.20" fill="#3a3a3a" />
</svg>
</body></html>
